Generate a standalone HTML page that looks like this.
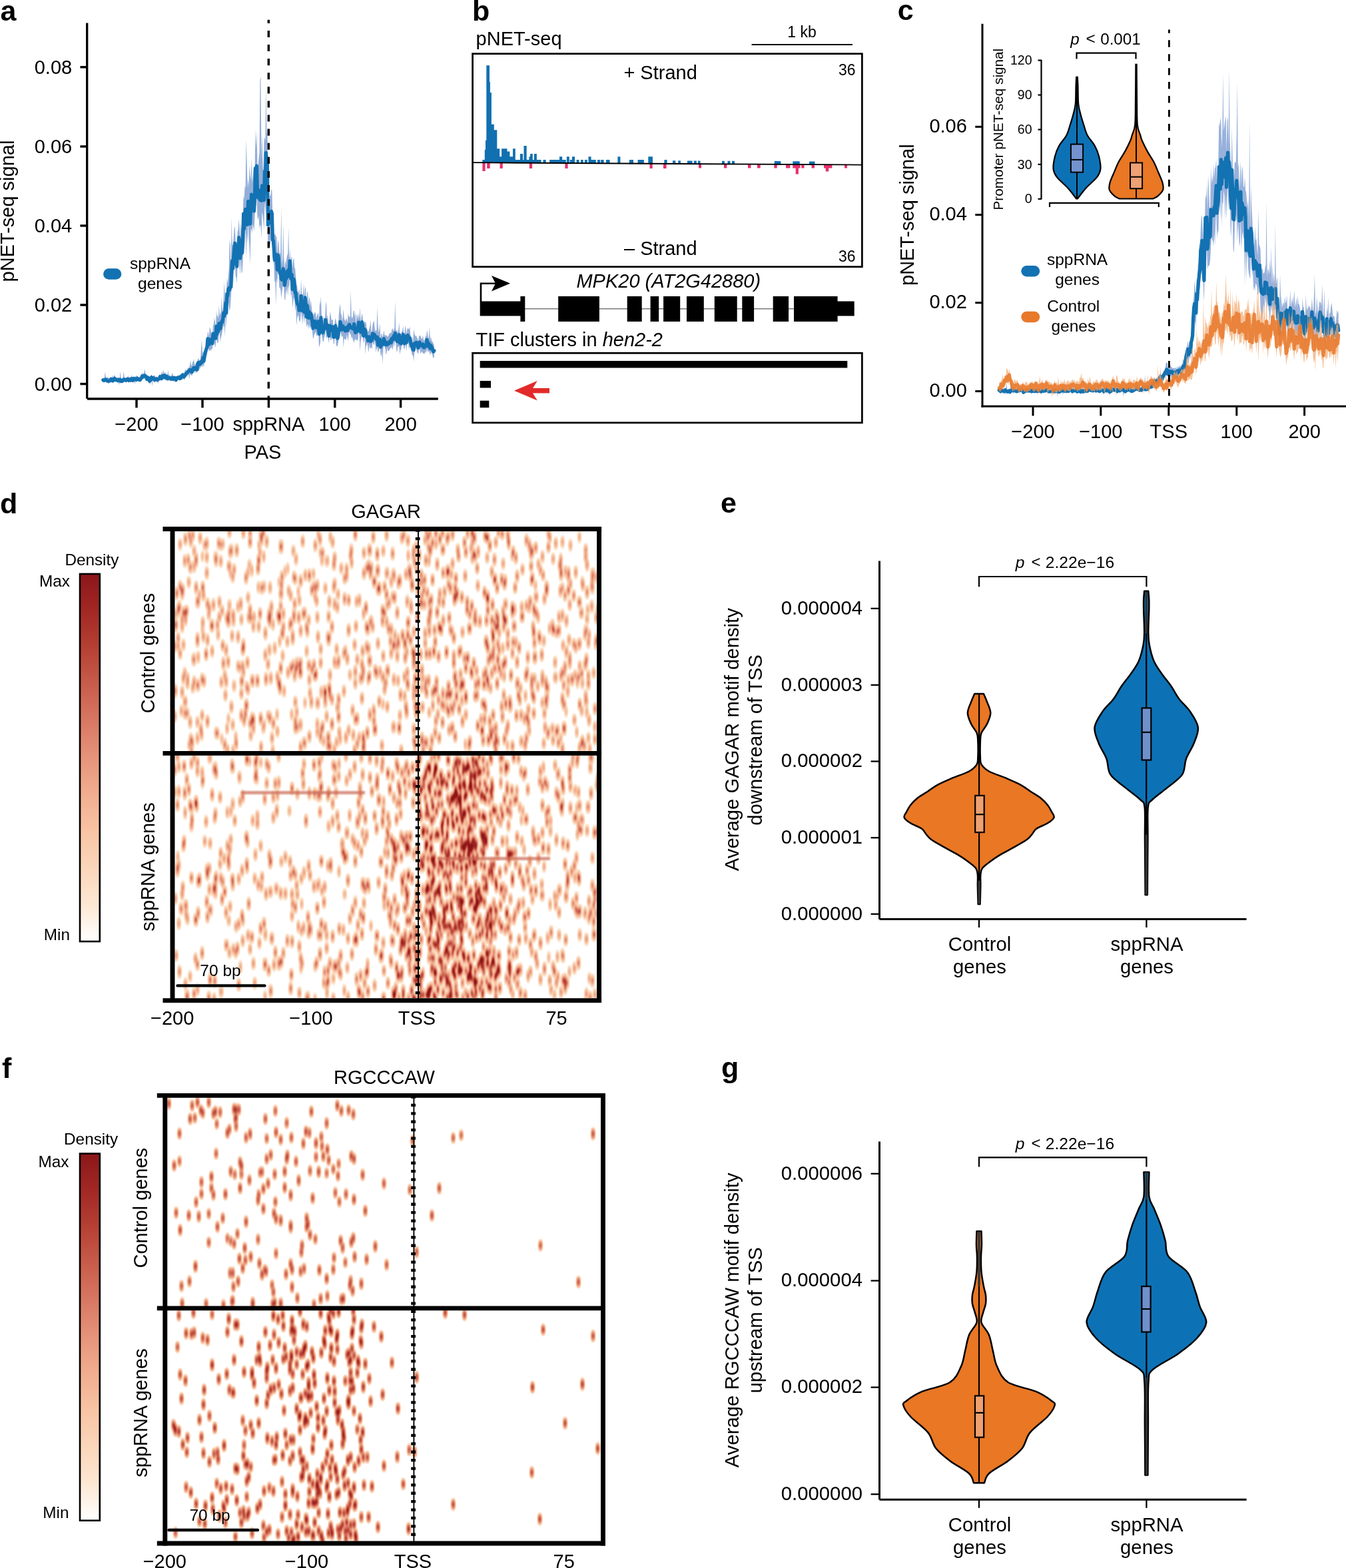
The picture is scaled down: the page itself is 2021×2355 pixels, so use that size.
<!DOCTYPE html>
<html><head><meta charset="utf-8"><title>Figure</title>
<style>
html,body{margin:0;padding:0;background:#fff;}
svg{display:block;}
text{font-family:'Liberation Sans', Arial, Helvetica, sans-serif;fill:#000;}
</style></head><body>
<svg xmlns="http://www.w3.org/2000/svg" width="2021" height="2355" viewBox="0 0 2021 2355">
<rect width="2021" height="2355" fill="#fff"/>
<line x1="130.7" y1="34.4" x2="130.7" y2="598.8" stroke="#000" stroke-width="3.3" />
<line x1="131" y1="599.1" x2="657.8" y2="599.1" stroke="#000" stroke-width="3.5" />
<line x1="120.4" y1="100.8" x2="130.7" y2="100.8" stroke="#000" stroke-width="3.4" />
<text x="108.2" y="111.2" font-size="29" text-anchor="end">0.08</text>
<line x1="120.4" y1="220" x2="130.7" y2="220" stroke="#000" stroke-width="3.4" />
<text x="108.2" y="230.4" font-size="29" text-anchor="end">0.06</text>
<line x1="120.4" y1="339" x2="130.7" y2="339" stroke="#000" stroke-width="3.4" />
<text x="108.2" y="349.4" font-size="29" text-anchor="end">0.04</text>
<line x1="120.4" y1="458" x2="130.7" y2="458" stroke="#000" stroke-width="3.4" />
<text x="108.2" y="468.4" font-size="29" text-anchor="end">0.02</text>
<line x1="120.4" y1="576.6" x2="130.7" y2="576.6" stroke="#000" stroke-width="3.4" />
<text x="108.2" y="587" font-size="29" text-anchor="end">0.00</text>
<line x1="205" y1="599.1" x2="205" y2="612.4" stroke="#000" stroke-width="3.4" />
<text x="205" y="646.5" font-size="29" text-anchor="middle">−200</text>
<line x1="304" y1="599.1" x2="304" y2="612.4" stroke="#000" stroke-width="3.4" />
<text x="304" y="646.5" font-size="29" text-anchor="middle">−100</text>
<line x1="403.4" y1="599.1" x2="403.4" y2="612.4" stroke="#000" stroke-width="3.4" />
<text x="403.4" y="646.5" font-size="29" text-anchor="middle">sppRNA</text>
<line x1="502.8" y1="599.1" x2="502.8" y2="612.4" stroke="#000" stroke-width="3.4" />
<text x="502.8" y="646.5" font-size="29" text-anchor="middle">100</text>
<line x1="601.6" y1="599.1" x2="601.6" y2="612.4" stroke="#000" stroke-width="3.4" />
<text x="601.6" y="646.5" font-size="29" text-anchor="middle">200</text>
<text x="394.5" y="689.4" font-size="29" text-anchor="middle">PAS</text>
<text transform="translate(21.2,317) rotate(-90)" font-size="29" text-anchor="middle" >pNET-seq signal</text>
<text x="0.5" y="31" font-size="43" font-weight="bold">a</text>
<path d="M154.8 567.2 L155.8 568.5 L156.8 566.8 L157.8 558.6 L158.8 566.8 L159.8 566.6 L160.8 569.1 L161.8 565.3 L162.8 567.6 L163.8 567.9 L164.8 567.7 L165.8 567.8 L166.8 565.9 L167.8 568 L168.8 563.1 L169.8 567.5 L170.8 565.2 L171.8 563.2 L172.7 564.3 L173.7 566.6 L174.7 568 L175.7 566.3 L176.7 567.7 L177.7 566.3 L178.7 566.9 L179.7 567.2 L180.7 557.4 L181.7 568.9 L182.7 569.1 L183.7 569.3 L184.7 566.5 L185.7 557.4 L186.7 566.6 L187.7 567.3 L188.7 568 L189.6 567.1 L190.6 566.4 L191.6 566.3 L192.6 563.7 L193.6 568.2 L194.6 566.5 L195.6 565.9 L196.6 567.5 L197.6 562.8 L198.6 566.7 L199.6 567.4 L200.6 565.3 L201.6 566 L202.6 565.4 L203.6 565.9 L204.6 564.2 L205.6 564.2 L206.5 565 L207.5 567 L208.5 567 L209.5 565.1 L210.5 566.5 L211.5 564.4 L212.5 564.1 L213.5 559.1 L214.5 562.4 L215.5 560.5 L216.5 559.2 L217.5 554.3 L218.5 560.9 L219.5 562.8 L220.5 565.7 L221.5 563.5 L222.5 563.9 L223.4 565.7 L224.4 568.4 L225.4 568.1 L226.4 563.9 L227.4 562.3 L228.4 565.7 L229.4 565.4 L230.4 564 L231.4 563.6 L232.4 564 L233.4 566.3 L234.4 565.8 L235.4 565.3 L236.4 566.8 L237.4 566.2 L238.4 564.9 L239.4 562.6 L240.4 562.3 L241.3 564.9 L242.3 557.3 L243.3 563.8 L244.3 559.1 L245.3 555.1 L246.3 562.7 L247.3 559.1 L248.3 559.2 L249.3 562.5 L250.3 561.9 L251.3 564.3 L252.3 555.8 L253.3 563.2 L254.3 562.9 L255.3 564.2 L256.3 563.9 L257.3 565.9 L258.2 559.9 L259.2 561.6 L260.2 564.2 L261.2 564.7 L262.2 564 L263.2 565.9 L264.2 565.8 L265.2 565.8 L266.2 563.5 L267.2 564.3 L268.2 563.7 L269.2 563.2 L270.2 565.1 L271.2 561.9 L272.2 562.9 L273.2 559.7 L274.2 559.4 L275.1 560.6 L276.1 560.2 L277.1 558.9 L278.1 554 L279.1 557.1 L280.1 556 L281.1 555.6 L282.1 551.9 L283.1 552.8 L284.1 551.9 L285.1 548.1 L286.1 540.7 L287.1 548.7 L288.1 549.3 L289.1 543.3 L290.1 543.3 L291.1 539 L292 547 L293 547.5 L294 546.2 L295 545.3 L296 549.8 L297 539.1 L298 538.8 L299 540.6 L300 541.5 L301 538 L302 523.3 L303 510 L304 531.2 L305 528.1 L306 531.6 L307 527.6 L308 520.9 L309 518.8 L309.9 511.8 L310.9 509 L311.9 498.4 L312.9 500.3 L313.9 506 L314.9 491.1 L315.9 493.7 L316.9 499.5 L317.9 504 L318.9 506 L319.9 490 L320.9 486.4 L321.9 476.7 L322.9 482.8 L323.9 497 L324.9 465.7 L325.9 476.6 L326.8 472.7 L327.8 478.4 L328.8 458 L329.8 474.8 L330.8 470.4 L331.8 469.2 L332.8 445.3 L333.8 468.7 L334.8 462 L335.8 448.1 L336.8 421.9 L337.8 449.7 L338.8 439 L339.8 443.8 L340.8 417.9 L341.8 425.4 L342.8 415.5 L343.7 404.6 L344.7 360.2 L345.7 366.9 L346.7 412 L347.7 326.3 L348.7 366.6 L349.7 369.3 L350.7 358.1 L351.7 343.8 L352.7 339.5 L353.7 362.1 L354.7 364.8 L355.7 371.4 L356.7 348.2 L357.7 343.9 L358.7 328.7 L359.7 345.4 L360.6 360.3 L361.6 333.7 L362.6 346.1 L363.6 335.8 L364.6 328.2 L365.6 292.4 L366.6 299.8 L367.6 279.4 L368.6 282.3 L369.6 209.4 L370.6 240.5 L371.6 281.8 L372.6 268.2 L373.6 281.6 L374.6 247.3 L375.6 263.6 L376.6 270.1 L377.6 235.6 L378.5 275.2 L379.5 266.6 L380.5 251.3 L381.5 283.5 L382.5 260.4 L383.5 193.9 L384.5 222.7 L385.5 196.6 L386.5 249 L387.5 251.7 L388.5 237.7 L389.5 229.2 L390.5 119.8 L391.5 115.8 L392.5 238.7 L393.5 199.8 L394.5 248.1 L395.4 257.6 L396.4 212.9 L397.4 206.1 L398.4 210.8 L399.4 130 L400.4 201.9 L401.4 191 L402.4 284.5 L403.4 276.9 L404.4 306.9 L405.4 292.3 L406.4 294.1 L407.4 284.1 L408.4 286.9 L409.4 331.1 L410.4 329.1 L411.4 349.8 L412.3 353.6 L413.3 349.9 L414.3 355.6 L415.3 355.4 L416.3 381.9 L417.3 360.3 L418.3 364.6 L419.3 377.4 L420.3 382.5 L421.3 378.3 L422.3 311.1 L423.3 398.2 L424.3 387.5 L425.3 337 L426.3 387.7 L427.3 404.2 L428.3 389.9 L429.2 398.4 L430.2 388.8 L431.2 383.4 L432.2 380.9 L433.2 341.3 L434.2 393.7 L435.2 371.8 L436.2 395 L437.2 386.1 L438.2 385.9 L439.2 402.7 L440.2 390 L441.2 387.7 L442.2 402.2 L443.2 403.4 L444.2 417.4 L445.2 427.2 L446.2 429.8 L447.1 439.7 L448.1 438.8 L449.1 433.3 L450.1 444.9 L451.1 446.5 L452.1 418.8 L453.1 441.4 L454.1 443.6 L455.1 440.9 L456.1 425.5 L457.1 449.1 L458.1 430.2 L459.1 434 L460.1 458.5 L461.1 438.9 L462.1 438.6 L463.1 457.3 L464 447.4 L465 447 L466 461 L467 450.4 L468 463.6 L469 469.8 L470 474.8 L471 470.9 L472 471.8 L473 468.4 L474 469.9 L475 479.6 L476 473.6 L477 472.2 L478 468.8 L479 488.5 L480 451.2 L480.9 458.5 L481.9 445 L482.9 473.6 L483.9 474 L484.9 484.5 L485.9 475.9 L486.9 477.9 L487.9 481.2 L488.9 459.5 L489.9 452.4 L490.9 478.8 L491.9 472.5 L492.9 484.3 L493.9 492.7 L494.9 476.9 L495.9 467.6 L496.9 475.3 L497.8 481.6 L498.8 480.1 L499.8 479.8 L500.8 495 L501.8 494.5 L502.8 482.8 L503.8 477 L504.8 483.1 L505.8 487.8 L506.8 494.2 L507.8 492.5 L508.8 472.6 L509.8 462.3 L510.8 456.1 L511.8 470.8 L512.8 472.9 L513.8 482.5 L514.8 474.1 L515.7 464 L516.7 478.7 L517.7 480.4 L518.7 483.1 L519.7 477.7 L520.7 479.7 L521.7 484 L522.7 470.8 L523.7 475.5 L524.7 475.1 L525.7 477.5 L526.7 436.3 L527.7 474.8 L528.7 478.5 L529.7 475.7 L530.7 467.1 L531.7 466.7 L532.6 476.4 L533.6 468.6 L534.6 487.2 L535.6 472.3 L536.6 473.6 L537.6 479.7 L538.6 470 L539.6 479.1 L540.6 461.2 L541.6 484.4 L542.6 476.7 L543.6 470.3 L544.6 476.3 L545.6 491.3 L546.6 487.3 L547.6 482.8 L548.6 483.5 L549.5 484.5 L550.5 492.8 L551.5 495.4 L552.5 498.6 L553.5 496.8 L554.5 493.5 L555.5 489.3 L556.5 480.8 L557.5 499.4 L558.5 496.7 L559.5 487.5 L560.5 483.7 L561.5 481.3 L562.5 492.3 L563.5 497.3 L564.5 496.3 L565.5 495.9 L566.4 461.2 L567.4 485.5 L568.4 499.2 L569.4 495.3 L570.4 485.7 L571.4 509.4 L572.4 500.6 L573.4 501.8 L574.4 507 L575.4 501.9 L576.4 496 L577.4 502.7 L578.4 504.2 L579.4 502.7 L580.4 504 L581.4 504.9 L582.4 505.7 L583.4 504 L584.3 501.3 L585.3 500.9 L586.3 499.6 L587.3 500.5 L588.3 495.5 L589.3 492.3 L590.3 497 L591.3 494.9 L592.3 493.2 L593.3 452 L594.3 494.4 L595.3 498.1 L596.3 495.6 L597.3 500.3 L598.3 494.4 L599.3 484.3 L600.3 501.5 L601.2 499.3 L602.2 505.1 L603.2 497.2 L604.2 498 L605.2 488.6 L606.2 499.7 L607.2 504.7 L608.2 490.2 L609.2 491.8 L610.2 502.8 L611.2 495.4 L612.2 492.2 L613.2 494.4 L614.2 494.1 L615.2 490.2 L616.2 502 L617.2 505.8 L618.1 507.8 L619.1 506.5 L620.1 515.9 L621.1 494.5 L622.1 500.2 L623.1 503.6 L624.1 505.4 L625.1 503.5 L626.1 507.7 L627.1 508.6 L628.1 513 L629.1 504.8 L630.1 504.8 L631.1 503.2 L632.1 506.5 L633.1 509.2 L634.1 507.6 L635 503.4 L636 510.5 L637 512.3 L638 508.8 L639 503.1 L640 507.3 L641 495.7 L642 500 L643 509.2 L644 504.5 L645 490.3 L646 511.9 L647 505 L648 511.5 L649 512.9 L650 514.1 L651 517.1 L651.9 518.1 L651.9 536.3 L651 537.9 L650 536.8 L649 531.4 L648 530.7 L647 528.3 L646 533.8 L645 530.4 L644 526.4 L643 529.1 L642 526.9 L641 523.5 L640 530.2 L639 527.2 L638 530.7 L637 530.8 L636 531.9 L635 529.2 L634.1 530.1 L633.1 527.3 L632.1 530 L631.1 531.5 L630.1 522.1 L629.1 524.5 L628.1 531 L627.1 530.4 L626.1 528.4 L625.1 524.5 L624.1 523.3 L623.1 528.1 L622.1 530.6 L621.1 543.1 L620.1 533.6 L619.1 534.1 L618.1 529.9 L617.2 525.9 L616.2 523.1 L615.2 520.5 L614.2 525.6 L613.2 515.8 L612.2 513.6 L611.2 516.2 L610.2 527.8 L609.2 519.1 L608.2 518.8 L607.2 525.9 L606.2 522.4 L605.2 514.5 L604.2 518.8 L603.2 518.2 L602.2 525.7 L601.2 526.3 L600.3 532.7 L599.3 519.4 L598.3 521.8 L597.3 519.8 L596.3 528.1 L595.3 527.8 L594.3 512.4 L593.3 509.6 L592.3 522.2 L591.3 512.8 L590.3 521.8 L589.3 525.8 L588.3 519.8 L587.3 523.7 L586.3 522.1 L585.3 524.4 L584.3 526.5 L583.4 527.3 L582.4 526.9 L581.4 523.1 L580.4 530.4 L579.4 532.6 L578.4 523 L577.4 520.7 L576.4 519.1 L575.4 523.3 L574.4 547.4 L573.4 528 L572.4 535.9 L571.4 532.1 L570.4 518.5 L569.4 523.2 L568.4 527.7 L567.4 529.2 L566.4 521.4 L565.5 523 L564.5 529.2 L563.5 517.8 L562.5 512.1 L561.5 518.5 L560.5 516.9 L559.5 512.8 L558.5 524.1 L557.5 522.2 L556.5 522.7 L555.5 523.3 L554.5 516.8 L553.5 529.9 L552.5 523.3 L551.5 515 L550.5 518.2 L549.5 520.3 L548.6 532.3 L547.6 505.2 L546.6 512.1 L545.6 516 L544.6 500.1 L543.6 494.8 L542.6 507.5 L541.6 511.9 L540.6 527.7 L539.6 504 L538.6 496.5 L537.6 509.9 L536.6 511.4 L535.6 511.2 L534.6 508.9 L533.6 511.2 L532.6 509.1 L531.7 515.1 L530.7 512.4 L529.7 510.1 L528.7 505.4 L527.7 508.7 L526.7 502 L525.7 502.1 L524.7 498.5 L523.7 499.9 L522.7 512.3 L521.7 507.6 L520.7 502.5 L519.7 511.1 L518.7 509.6 L517.7 509.2 L516.7 509 L515.7 522.6 L514.8 503.9 L513.8 506.6 L512.8 504.4 L511.8 500.3 L510.8 498.1 L509.8 507.1 L508.8 509.5 L507.8 514.8 L506.8 520.9 L505.8 518.2 L504.8 520.7 L503.8 500.3 L502.8 505.1 L501.8 517 L500.8 516.3 L499.8 500.8 L498.8 506.7 L497.8 509.3 L496.9 511.8 L495.9 508.6 L494.9 501.5 L493.9 515.2 L492.9 510.6 L491.9 502.5 L490.9 506.2 L489.9 509.1 L488.9 493.5 L487.9 504.2 L486.9 506.3 L485.9 513.1 L484.9 513.5 L483.9 507.9 L482.9 502.1 L481.9 488.2 L480.9 515.2 L480 519 L479 521.8 L478 495.1 L477 495.6 L476 505.6 L475 503.4 L474 497.2 L473 501.1 L472 501.9 L471 506.6 L470 509.6 L469 498 L468 489.1 L467 489.8 L466 492.5 L465 491.8 L464 486.6 L463.1 495.3 L462.1 486.4 L461.1 488.6 L460.1 491.7 L459.1 478 L458.1 461.8 L457.1 486.5 L456.1 477.3 L455.1 472.7 L454.1 488 L453.1 474.8 L452.1 467.3 L451.1 480.2 L450.1 484.3 L449.1 480.9 L448.1 474 L447.1 473.8 L446.2 477.8 L445.2 489.3 L444.2 459.1 L443.2 466.9 L442.2 448.1 L441.2 447.2 L440.2 453.2 L439.2 463.2 L438.2 435.9 L437.2 448.2 L436.2 434.6 L435.2 411.7 L434.2 433.9 L433.2 428 L432.2 445.1 L431.2 428.9 L430.2 443.7 L429.2 434.3 L428.3 450.5 L427.3 450.2 L426.3 431.4 L425.3 428.7 L424.3 431.7 L423.3 440.1 L422.3 447.8 L421.3 435 L420.3 432.7 L419.3 431.4 L418.3 407.2 L417.3 403.6 L416.3 425.9 L415.3 418 L414.3 459.1 L413.3 422 L412.3 424.1 L411.4 399.1 L410.4 390.4 L409.4 386.8 L408.4 351.5 L407.4 347.2 L406.4 363.3 L405.4 371.1 L404.4 360.3 L403.4 361.9 L402.4 369.7 L401.4 298.7 L400.4 277.2 L399.4 271.1 L398.4 320.8 L397.4 303.6 L396.4 345.1 L395.4 332.7 L394.5 323.3 L393.5 318.4 L392.5 358.1 L391.5 339 L390.5 337.3 L389.5 344.5 L388.5 322.9 L387.5 330.3 L386.5 326.3 L385.5 296.5 L384.5 310.4 L383.5 305.6 L382.5 325.8 L381.5 347.3 L380.5 341.7 L379.5 336.7 L378.5 350.6 L377.6 342.8 L376.6 347.3 L375.6 397.5 L374.6 372 L373.6 358.6 L372.6 333.2 L371.6 366 L370.6 349.7 L369.6 389.2 L368.6 343 L367.6 359.8 L366.6 383 L365.6 347.1 L364.6 394.6 L363.6 409.3 L362.6 409.9 L361.6 385.8 L360.6 412.6 L359.7 401.2 L358.7 381.8 L357.7 398 L356.7 394.9 L355.7 426 L354.7 416.9 L353.7 414.7 L352.7 388.7 L351.7 402.8 L350.7 412 L349.7 433.9 L348.7 414.2 L347.7 430.6 L346.7 448.4 L345.7 462.3 L344.7 467.2 L343.7 458 L342.8 451.3 L341.8 461.8 L340.8 462.3 L339.8 492 L338.8 469.4 L337.8 505.3 L336.8 489.7 L335.8 489.4 L334.8 492 L333.8 497.7 L332.8 503.6 L331.8 506.4 L330.8 514.5 L329.8 501.2 L328.8 498.8 L327.8 514.8 L326.8 515 L325.9 513.5 L324.9 502.4 L323.9 518.2 L322.9 522.5 L321.9 513.3 L320.9 515.8 L319.9 511.4 L318.9 524.8 L317.9 523 L316.9 527.2 L315.9 525.3 L314.9 526.2 L313.9 527.9 L312.9 521.1 L311.9 522.4 L310.9 533.2 L309.9 533.2 L309 534.4 L308 537.5 L307 544.4 L306 552.1 L305 546.6 L304 551.3 L303 550.2 L302 549.3 L301 553.3 L300 552 L299 556.9 L298 551.6 L297 551.7 L296 560.1 L295 559.5 L294 557.6 L293 560.7 L292 557.6 L291.1 559.6 L290.1 558.2 L289.1 560.9 L288.1 564.7 L287.1 562.8 L286.1 562.7 L285.1 562.1 L284.1 570.4 L283.1 561.6 L282.1 563.5 L281.1 566.2 L280.1 564.3 L279.1 565.6 L278.1 568 L277.1 570.2 L276.1 570.6 L275.1 568.5 L274.2 566.9 L273.2 568.1 L272.2 571.4 L271.2 568.9 L270.2 572.2 L269.2 570.2 L268.2 570.8 L267.2 570.7 L266.2 570.7 L265.2 572 L264.2 573.7 L263.2 572.6 L262.2 570.6 L261.2 572.3 L260.2 573.8 L259.2 571.8 L258.2 572.1 L257.3 572.4 L256.3 571.8 L255.3 572.2 L254.3 571 L253.3 571.1 L252.3 572.6 L251.3 572.2 L250.3 568.2 L249.3 572.1 L248.3 571.1 L247.3 568.2 L246.3 570.1 L245.3 567.6 L244.3 568.7 L243.3 571.6 L242.3 572.5 L241.3 571.1 L240.4 568.6 L239.4 571.7 L238.4 572.6 L237.4 576.1 L236.4 573.8 L235.4 572.6 L234.4 572.2 L233.4 572.4 L232.4 574.8 L231.4 573.9 L230.4 572.8 L229.4 571.5 L228.4 580.2 L227.4 569.6 L226.4 573 L225.4 577.7 L224.4 575.8 L223.4 574 L222.5 570.4 L221.5 570.2 L220.5 572.9 L219.5 569.4 L218.5 568.5 L217.5 567.4 L216.5 569.2 L215.5 568.1 L214.5 569.5 L213.5 568.5 L212.5 570.7 L211.5 572.8 L210.5 573.9 L209.5 573.6 L208.5 572.9 L207.5 572.8 L206.5 571.3 L205.6 572.8 L204.6 574.8 L203.6 571.8 L202.6 577.1 L201.6 572 L200.6 571.1 L199.6 574.8 L198.6 572.6 L197.6 572.5 L196.6 573.9 L195.6 574.7 L194.6 572.9 L193.6 574.4 L192.6 572.3 L191.6 572 L190.6 573.7 L189.6 574.7 L188.7 574.1 L187.7 573.6 L186.7 573.1 L185.7 573.2 L184.7 573.8 L183.7 575.5 L182.7 574.7 L181.7 575.8 L180.7 573.3 L179.7 575.2 L178.7 578 L177.7 574.2 L176.7 575 L175.7 573.6 L174.7 573.6 L173.7 572.7 L172.7 573.5 L171.8 573.3 L170.8 573.2 L169.8 575.6 L168.8 574.8 L167.8 574.4 L166.8 572.4 L165.8 574.7 L164.8 575.3 L163.8 575.3 L162.8 576.8 L161.8 574.8 L160.8 574.6 L159.8 573.8 L158.8 572.6 L157.8 574 L156.8 574.6 L155.8 574.1 L154.8 574.1Z" fill="#93AED8"/>
<path d="M154.8 570.7 155.8 571.5 156.8 570.9 157.8 570.6 158.8 569.8 159.8 570.4 160.8 572 161.8 571.8 162.8 572.4 163.8 571.8 164.8 571.7 165.8 571.5 166.8 569.3 167.8 571.4 168.8 571.7 169.8 571.8 170.8 569.4 171.8 568.5 172.7 569.1 173.7 569.8 174.7 570.9 175.7 570.9 176.7 571.6 177.7 570.5 178.7 571.1 179.7 571.4 180.7 570.3 181.7 572.6 182.7 572 183.7 572.5 184.7 570.7 185.7 569.9 186.7 570 187.7 570.3 188.7 571.2 189.6 571.1 190.6 570.2 191.6 569.3 192.6 569.5 193.6 571.5 194.6 569.9 195.6 570.5 196.6 570.9 197.6 568.8 198.6 569.8 199.6 571.6 200.6 568.4 201.6 569.2 202.6 569.7 203.6 569 204.6 570.3 205.6 570 206.5 568.3 207.5 570.1 208.5 570.1 209.5 570.1 210.5 570.4 211.5 568.8 212.5 567.6 213.5 564.8 214.5 566.1 215.5 564.5 216.5 564.5 217.5 564.1 218.5 564.9 219.5 566.2 220.5 569.5 221.5 567 222.5 567.4 223.4 570 224.4 572.3 225.4 571.8 226.4 568.7 227.4 566.7 228.4 569.2 229.4 568.6 230.4 567.8 231.4 569.9 232.4 570.6 233.4 569.6 234.4 569.2 235.4 569.2 236.4 570.5 237.4 569.6 238.4 569 239.4 568.7 240.4 565.6 241.3 568.2 242.3 568.5 243.3 567.9 244.3 564.2 245.3 564.5 246.3 566.6 247.3 563.9 248.3 565.3 249.3 567.5 250.3 565.2 251.3 568.5 252.3 568.3 253.3 567.3 254.3 567.8 255.3 568.4 256.3 568.1 257.3 569.3 258.2 567.6 259.2 567.4 260.2 569.2 261.2 568.7 262.2 567.5 263.2 569.4 264.2 570.8 265.2 569.1 266.2 567.3 267.2 567.7 268.2 567.4 269.2 566.9 270.2 568.6 271.2 565.6 272.2 567.4 273.2 564.1 274.2 563.3 275.1 564.8 276.1 565.7 277.1 564.9 278.1 563.1 279.1 561.6 280.1 560.4 281.1 560.1 282.1 558 283.1 557.5 284.1 557.2 285.1 555.4 286.1 556.4 287.1 556.1 288.1 558.8 289.1 556.1 290.1 553.4 291.1 552.4 292 552.6 293 554.4 294 552.2 295 552.8 296 555.2 297 545.5 298 544.4 299 546.6 300 547 301 546.1 302 543.3 303 544.5 304 541.8 305 536.8 306 542.4 307 536.4 308 529.6 309 527 309.9 523.9 310.9 521.8 311.9 508.8 312.9 511.2 313.9 517.5 314.9 509.6 315.9 510.3 316.9 514.1 317.9 514 318.9 515.9 319.9 501.2 320.9 501.7 321.9 501.3 322.9 505.1 323.9 508.2 324.9 490 325.9 501.7 326.8 492.4 327.8 497.6 328.8 485.8 329.8 488.7 330.8 493.6 331.8 485.8 332.8 483 333.8 483.9 334.8 477.8 335.8 469.9 336.8 474.8 337.8 470 338.8 455 339.8 470.1 340.8 441.3 341.8 444.6 342.8 434.3 343.7 432.7 344.7 435.6 345.7 430.7 346.7 431.2 347.7 406.1 348.7 391.7 349.7 403.3 350.7 386.4 351.7 374.8 352.7 365.4 353.7 391.2 354.7 392.8 355.7 400.2 356.7 372.8 357.7 372.4 358.7 356.7 359.7 373 360.6 387.9 361.6 361.1 362.6 381 363.6 379.7 364.6 363.2 365.6 321.2 366.6 343.6 367.6 330 368.6 314.3 369.6 320.2 370.6 321.4 371.6 337.3 372.6 302.4 373.6 322.1 374.6 333.2 375.6 336.2 376.6 310.7 377.6 292 378.5 312.7 379.5 303.5 380.5 298.9 381.5 317.1 382.5 294.8 383.5 252.7 384.5 268.8 385.5 249.2 386.5 289.7 387.5 296.8 388.5 285.5 389.5 289.9 390.5 300.3 391.5 287.9 392.5 301.5 393.5 278.8 394.5 287.7 395.4 297.1 396.4 300.5 397.4 257.4 398.4 268.7 399.4 229.3 400.4 241.5 401.4 247.7 402.4 337.6 403.4 321.6 404.4 335 405.4 333.8 406.4 330.5 407.4 317.3 408.4 320.9 409.4 360.4 410.4 361.4 411.4 375.8 412.3 390.7 413.3 387.9 414.3 381.8 415.3 386.2 416.3 405.1 417.3 383.1 418.3 387.1 419.3 405.8 420.3 410.5 421.3 408.1 422.3 419.2 423.3 420.2 424.3 410.8 425.3 403.7 426.3 410.7 427.3 428.4 428.3 421.8 429.2 417.3 430.2 417.7 431.2 407.3 432.2 414.7 433.2 405.4 434.2 414.9 435.2 391.9 436.2 415.9 437.2 418.8 438.2 412.2 439.2 434.6 440.2 434.3 441.2 419 442.2 426.3 443.2 439.7 444.2 439.3 445.2 450.3 446.2 455.1 447.1 457.6 448.1 457.3 449.1 466.2 450.1 465.6 451.1 464.2 452.1 444.3 453.1 459 454.1 467 455.1 457.6 456.1 452.8 457.1 468.8 458.1 446.8 459.1 457.2 460.1 476 461.1 458.9 462.1 465.6 463.1 477.3 464 468 465 470.6 466 477.6 467 471.2 468 477.3 469 484.7 470 493.1 471 489.7 472 487.6 473 482.4 474 484.3 475 492.1 476 490.4 477 484.5 478 482.6 479 501.7 480 499.9 480.9 496.5 481.9 477.2 482.9 488.6 483.9 491.8 484.9 499.8 485.9 495.6 486.9 491.4 487.9 493.3 488.9 480.3 489.9 492.4 490.9 493.2 491.9 488.3 492.9 498.1 493.9 504.5 494.9 489.9 495.9 489.2 496.9 494.5 497.8 496.2 498.8 494.1 499.8 490.9 500.8 506.2 501.8 506.3 502.8 494.5 503.8 489.2 504.8 502.9 505.8 503.8 506.8 508.2 507.8 504.3 508.8 493.8 509.8 495.8 510.8 483.4 511.8 486.3 512.8 490.8 513.8 495.2 514.8 489.8 515.7 491.1 516.7 494.7 517.7 495.5 518.7 497.1 519.7 495.3 520.7 491.7 521.7 496.4 522.7 494 523.7 488.4 524.7 487.4 525.7 490.4 526.7 490.8 527.7 492.6 528.7 492.7 529.7 493.8 530.7 492.8 531.7 486.5 532.6 493.6 533.6 499.6 534.6 498.6 535.6 495.1 536.6 497.5 537.6 491.1 538.6 484.1 539.6 492.2 540.6 490.3 541.6 498.9 542.6 492.9 543.6 483.5 544.6 488.8 545.6 504.3 546.6 500.4 547.6 494.6 548.6 496.1 549.5 503.3 550.5 506.2 551.5 505.7 552.5 511.6 553.5 509.9 554.5 505.8 555.5 507.2 556.5 512.8 557.5 511.4 558.5 511.1 559.5 500.8 560.5 501.7 561.5 506.2 562.5 502.7 563.5 508.1 564.5 508 565.5 510.2 566.4 506.1 567.4 518.2 568.4 516.7 569.4 510 570.4 509.6 571.4 521.3 572.4 512.7 573.4 515.6 574.4 517.6 575.4 514.6 576.4 508.7 577.4 512.2 578.4 514.1 579.4 518 580.4 517.9 581.4 514.5 582.4 516.8 583.4 516.3 584.3 514.6 585.3 513.2 586.3 511.4 587.3 514.8 588.3 508.3 589.3 507.7 590.3 510.1 591.3 504.3 592.3 506.7 593.3 500.4 594.3 503.9 595.3 510.5 596.3 512.7 597.3 510.5 598.3 508.8 599.3 502.7 600.3 515.1 601.2 513.5 602.2 516 603.2 508.2 604.2 508.9 605.2 502.2 606.2 511.6 607.2 515.8 608.2 505.2 609.2 509.8 610.2 514.6 611.2 506.3 612.2 503.5 613.2 506 614.2 509.2 615.2 507.4 616.2 513.1 617.2 516.4 618.1 519.4 619.1 521.1 620.1 525.2 621.1 525.6 622.1 516.2 623.1 516.5 624.1 514.8 625.1 514.5 626.1 518.6 627.1 520.1 628.1 522.4 629.1 515.2 630.1 513.9 631.1 518.1 632.1 518.9 633.1 518.6 634.1 519.5 635 517 636 521.8 637 522 638 520.4 639 517.9 640 519.3 641 510.3 642 514.1 643 519.7 644 516 645 521.5 646 523.4 647 518.8 648 521.6 649 522.6 650 526.1 651 528.1 651.9 526.7" fill="none" stroke="#1372B2" stroke-width="5.2" stroke-linejoin="round" stroke-linecap="round"/>
<line x1="403.3" y1="29.8" x2="403.3" y2="598.8" stroke="#000" stroke-width="3.4" stroke-dasharray="10.1 11" stroke-dashoffset="5"/>
<line x1="163.3" y1="411.5" x2="174.1" y2="411.5" stroke="#1372B2" stroke-width="16.4" stroke-linecap="round"/>
<text x="240.5" y="404.2" font-size="24.5" text-anchor="middle">sppRNA</text>
<text x="240.5" y="434.4" font-size="24.5" text-anchor="middle">genes</text>
<text x="709" y="31.4" font-size="43" font-weight="bold">b</text>
<text x="714.6" y="67.9" font-size="29">pNET-seq</text>
<text x="1204" y="55.8" font-size="23" text-anchor="middle">1 kb</text>
<line x1="1128.6" y1="67" x2="1280" y2="67" stroke="#000" stroke-width="2" />
<path d="M724.4 244.9V239.9H727.8V244.9ZM727.8 244.9V225H729V244.9ZM729 244.9V210.7H730.3V244.9ZM730.3 244.9V98.2H735V244.9ZM735 245V123H735.9V245ZM735.9 245V139H737.9V245ZM737.9 245V186.7H741.8V245ZM741.8 245V195.2H746.3V245ZM746.3 245V223.3H750.2V245ZM750.2 245V235.2H753.1V245ZM753.1 245.1V223.3H761.5V245.1ZM761.5 245.1V227.6H765.4V245.1ZM765.4 245.1V235.2H770V245.1ZM770 245.2V223.3H773.8V245.2ZM773.8 245.2V239.9H780.9V245.2ZM780.9 245.2V231.1H785.1V245.2ZM785.1 245.2V239.9H786.5V245.2ZM786.5 245.2V219.1H790.7V245.2ZM790.7 245.3V239.9H794.4V245.3ZM794.4 245.3V235.2H796.1V245.3ZM796.1 245.3V231.1H799.8V245.3ZM799.8 245.3V239.9H802V245.3ZM802 245.3V231.1H805.9V245.3ZM805.9 245.4V239.9H812.6V245.4ZM815.5 245.4V239.9H819.7V245.4ZM825.1 245.5V239.9H840V245.5ZM840 245.6V235.2H844.2V245.6ZM844.2 245.6V239.9H849.8V245.6ZM850.9 245.6V235.2H854.8V245.6ZM855.7 245.7V239.9H858.9V245.7ZM858.9 245.7V235.2H863.1V245.7ZM865.6 245.7V239.9H869.5V245.7ZM872 245.7V239.9H875.7V245.7ZM877.9 245.8V239.9H881.8V245.8ZM883.5 245.8V235.2H887.6V245.8ZM887.6 245.8V239.9H894.8V245.8ZM897 245.9V239.9H901.1V245.9ZM902.1 245.9V239.9H906.6V245.9ZM910 246V239.9H915.6V246ZM927.4 246.1V235.2H931.4V246.1ZM944.9 246.2V239.9H951V246.2ZM957.6 246.2V239.9H966.9V246.2ZM973.3 246.3V235.2H980V246.3ZM997.4 246.5V239.9H1001.6V246.5ZM1010 246.5V241.2H1014.3V246.5ZM1018.2 246.6V241.3H1021.9V246.6ZM1032 246.7V241.4H1039.6V246.7ZM1041.8 246.7V241.4H1045.9V246.7ZM1048 246.8V241.5H1051.5V246.8ZM1084 247V241.7H1088V247ZM1092.5 247V241.7H1096.5V247ZM1099 247.1V241.8H1103V247.1ZM1162.8 247.4V242.1H1172.4V247.4ZM1190.3 247.6V242.3H1200.8V247.6ZM1215 247.7V242.4H1223.5V247.7Z" fill="#1170B0"/>
<path d="M724.4 244.3V257.1H728.6V244.3ZM731.2 244.3V252.9H735.7V244.3ZM750.6 244.4V252.9H754.8V244.4ZM794.9 244.7V252.9H799.1V244.7ZM848.4 245V252.9H852.6V245ZM975.5 245.7V252.9H979.7V245.7ZM996 245.9V252.9H1000.6V245.9ZM1049 246.2V252.6H1053V246.2ZM1087 246.4V252.6H1091.4V246.4ZM1123 246.6V252.6H1127.4V246.6ZM1137 246.7V252.6H1141.7V246.7ZM1162.3 246.8V252.6H1166.7V246.8ZM1180 246.9V252.6H1186.4V246.9ZM1190.3 247V252.6H1201.6V247ZM1194.7 247V261.6H1198.9V247ZM1203.3 247.1V252.6H1207.5V247.1ZM1218.5 247.2V252.6H1223V247.2ZM1237 247.3V252.6H1249.4V247.3ZM1239.7 247.3V257.4H1244.3V247.3ZM1268 247.4V252.6H1272V247.4Z" fill="#E6306C"/>
<line x1="709.6" y1="244.2" x2="1294.4" y2="247.6" stroke="#000" stroke-width="1.8" />
<rect x="709.6" y="80.7" width="584.8" height="320" fill="none" stroke="#000" stroke-width="2.7"/>
<text x="991.6" y="118.5" font-size="29" text-anchor="middle">+ Strand</text>
<text x="991.8" y="382.8" font-size="29" text-anchor="middle">– Strand</text>
<text x="1284.5" y="113.3" font-size="23" text-anchor="end">36</text>
<text x="1284.5" y="393.3" font-size="23" text-anchor="end">36</text>
<text x="1003.8" y="431.6" font-size="29" text-anchor="middle" font-style="italic">MPK20 (AT2G42880)</text>
<path d="M722 453V425.7H745" fill="none" stroke="#000" stroke-width="2.6"/>
<path d="M766 425.7L738 414L744 425.7L738 437.5Z" fill="#000"/>
<line x1="722" y1="463.7" x2="1283" y2="463.7" stroke="#7a7a7a" stroke-width="1.6" />
<path d="M720.7 452.5H781.4V474.5H720.7ZM781.4 444.9H788.3V482.9H781.4ZM838.2 444.9H899.9V482.9H838.2ZM941.7 444.9H963.7V482.9H941.7ZM976.6 444.9H989.2V482.9H976.6ZM996.1 444.9H1021.2V482.9H996.1ZM1031 444.9H1056.8V482.9H1031ZM1072.8 444.9H1106.7V482.9H1072.8ZM1114.3 444.9H1132.1V482.9H1114.3ZM1160.7 444.9H1184.1V482.9H1160.7ZM1192 444.9H1257.6V482.9H1192ZM1257.6 452.5H1282.7V474.5H1257.6ZM720.7 542.1H1272.3V552.6H720.7ZM720.7 572H737V582.6H720.7ZM720.7 601.8H734.3V612.2H720.7Z" fill="#000"/>
<text x="714.5" y="519.8" font-size="29">TIF clusters in <tspan font-style="italic">hen2-2</tspan></text>
<rect x="709.6" y="530.3" width="584.8" height="104.6" fill="none" stroke="#000" stroke-width="2.7"/>
<path d="M772 586.8L806.8 572L800 583H825V590.6H800L806.8 601.4Z" fill="#E22A2A"/>
<text x="1347.7" y="30.3" font-size="43" font-weight="bold">c</text>
<line x1="1475" y1="35.8" x2="1475" y2="611.8" stroke="#000" stroke-width="3" />
<line x1="1473.5" y1="610.3" x2="2021" y2="610.3" stroke="#000" stroke-width="3" />
<line x1="1464.3" y1="190.4" x2="1475" y2="190.4" stroke="#000" stroke-width="3" />
<text x="1451.9" y="199" font-size="29" text-anchor="end">0.06</text>
<line x1="1464.3" y1="322.6" x2="1475" y2="322.6" stroke="#000" stroke-width="3" />
<text x="1451.9" y="331.2" font-size="29" text-anchor="end">0.04</text>
<line x1="1464.3" y1="454.7" x2="1475" y2="454.7" stroke="#000" stroke-width="3" />
<text x="1451.9" y="463.3" font-size="29" text-anchor="end">0.02</text>
<line x1="1464.3" y1="587.6" x2="1475" y2="587.6" stroke="#000" stroke-width="3" />
<text x="1451.9" y="596.2" font-size="29" text-anchor="end">0.00</text>
<line x1="1551" y1="610.3" x2="1551" y2="624.5" stroke="#000" stroke-width="3" />
<text x="1551" y="658.2" font-size="29" text-anchor="middle">−200</text>
<line x1="1652.8" y1="610.3" x2="1652.8" y2="624.5" stroke="#000" stroke-width="3" />
<text x="1652.8" y="658.2" font-size="29" text-anchor="middle">−100</text>
<line x1="1754.8" y1="610.3" x2="1754.8" y2="624.5" stroke="#000" stroke-width="3" />
<text x="1754.8" y="658.2" font-size="29" text-anchor="middle">TSS</text>
<line x1="1856.8" y1="610.3" x2="1856.8" y2="624.5" stroke="#000" stroke-width="3" />
<text x="1856.8" y="658.2" font-size="29" text-anchor="middle">100</text>
<line x1="1958.6" y1="610.3" x2="1958.6" y2="624.5" stroke="#000" stroke-width="3" />
<text x="1958.6" y="658.2" font-size="29" text-anchor="middle">200</text>
<text transform="translate(1372.2,322.6) rotate(-90)" font-size="29" text-anchor="middle" >pNET-seq signal</text>
<path d="M1500.2 582.4 L1501.2 584.3 L1502.2 584.9 L1503.2 584.3 L1504.2 582.7 L1505.2 582.8 L1506.3 584.9 L1507.3 584.2 L1508.3 584 L1509.3 582.8 L1510.3 582.6 L1511.4 575.6 L1512.4 586.1 L1513.4 585.7 L1514.4 584.7 L1515.4 584.6 L1516.5 586.6 L1517.5 570.9 L1518.5 576.6 L1519.5 582 L1520.5 584.2 L1521.5 583.1 L1522.6 581.1 L1523.6 584.5 L1524.6 584.7 L1525.6 584.8 L1526.6 585.6 L1527.7 583.7 L1528.7 576.7 L1529.7 584.4 L1530.7 583.1 L1531.7 582.6 L1532.8 582.5 L1533.8 583.9 L1534.8 583.8 L1535.8 584.3 L1536.8 587.1 L1537.9 585.1 L1538.9 585.5 L1539.9 583.6 L1540.9 583.3 L1541.9 584.7 L1542.9 584.1 L1544 584.8 L1545 577.1 L1546 583.2 L1547 584.5 L1548 583.8 L1549.1 585.6 L1550.1 584.2 L1551.1 580.9 L1552.1 583.5 L1553.1 584.7 L1554.2 584.1 L1555.2 584.7 L1556.2 584.3 L1557.2 582.6 L1558.2 584.2 L1559.3 584.6 L1560.3 584 L1561.3 584.8 L1562.3 582 L1563.3 584.8 L1564.3 584.5 L1565.4 584.8 L1566.4 585 L1567.4 584.4 L1568.4 583.9 L1569.4 583.3 L1570.5 583.7 L1571.5 582.1 L1572.5 583.3 L1573.5 583.6 L1574.5 585.4 L1575.6 580.5 L1576.6 583.7 L1577.6 585.2 L1578.6 584.7 L1579.6 582.4 L1580.7 584.4 L1581.7 586 L1582.7 583.3 L1583.7 583.6 L1584.7 584.7 L1585.7 584.7 L1586.8 584.9 L1587.8 584.8 L1588.8 583.6 L1589.8 585.5 L1590.8 584.2 L1591.9 584.8 L1592.9 583.8 L1593.9 584.5 L1594.9 582.4 L1595.9 578 L1597 582.9 L1598 582.3 L1599 584.4 L1600 584.4 L1601 585.3 L1602.1 583.9 L1603.1 584.2 L1604.1 583.3 L1605.1 584.2 L1606.1 582.2 L1607.1 581.1 L1608.2 583.2 L1609.2 584.5 L1610.2 582.7 L1611.2 583.3 L1612.2 583.5 L1613.3 584.7 L1614.3 583.8 L1615.3 582.1 L1616.3 580.1 L1617.3 585.8 L1618.4 584.3 L1619.4 575.7 L1620.4 583.3 L1621.4 584 L1622.4 585.1 L1623.4 584.8 L1624.5 583 L1625.5 583.6 L1626.5 583.8 L1627.5 585.5 L1628.5 583.9 L1629.6 583.3 L1630.6 584.5 L1631.6 585.2 L1632.6 584.5 L1633.6 583.8 L1634.7 582.3 L1635.7 574.6 L1636.7 582 L1637.7 583.2 L1638.7 582.9 L1639.8 583.6 L1640.8 584.1 L1641.8 583.9 L1642.8 583.1 L1643.8 583.7 L1644.8 583.9 L1645.9 582.9 L1646.9 583.8 L1647.9 583.4 L1648.9 582.1 L1649.9 574.1 L1651 585.3 L1652 583.7 L1653 583 L1654 582.1 L1655 582.6 L1656.1 583.3 L1657.1 585.7 L1658.1 584 L1659.1 583 L1660.1 581.4 L1661.2 584.2 L1662.2 583.7 L1663.2 582.6 L1664.2 582.7 L1665.2 582.2 L1666.2 586.3 L1667.3 582.5 L1668.3 584.5 L1669.3 577.1 L1670.3 581.6 L1671.3 582.8 L1672.4 580.8 L1673.4 582.7 L1674.4 581.7 L1675.4 582.1 L1676.4 579.7 L1677.5 584 L1678.5 583.3 L1679.5 581.8 L1680.5 583.5 L1681.5 583.2 L1682.6 583.1 L1683.6 582.6 L1684.6 582.2 L1685.6 581.3 L1686.6 582.5 L1687.6 584 L1688.7 584.4 L1689.7 585.8 L1690.7 583.9 L1691.7 583.6 L1692.7 582.4 L1693.8 582.1 L1694.8 579.2 L1695.8 581.4 L1696.8 583.5 L1697.8 584.1 L1698.9 584.5 L1699.9 585.1 L1700.9 583.3 L1701.9 582.7 L1702.9 583.1 L1704 581.9 L1705 581.5 L1706 580.6 L1707 572.9 L1708 580.6 L1709 582.3 L1710.1 581.4 L1711.1 577.7 L1712.1 581.7 L1713.1 582.2 L1714.1 582 L1715.2 581.1 L1716.2 579.4 L1717.2 579.3 L1718.2 578.5 L1719.2 563.1 L1720.3 581.5 L1721.3 582.1 L1722.3 580.9 L1723.3 577.6 L1724.3 578.6 L1725.3 578.7 L1726.4 576.3 L1727.4 576.6 L1728.4 576.9 L1729.4 576 L1730.4 576.8 L1731.5 570.8 L1732.5 571.5 L1733.5 566.4 L1734.5 568.7 L1735.5 570.4 L1736.6 567 L1737.6 568.1 L1738.6 565.5 L1739.6 567.3 L1740.6 562.2 L1741.7 562 L1742.7 560.8 L1743.7 565 L1744.7 562.4 L1745.7 560.5 L1746.7 557.5 L1747.8 556.5 L1748.8 554.8 L1749.8 551.5 L1750.8 544.3 L1751.8 545.2 L1752.9 544.9 L1753.9 554.3 L1754.9 554.5 L1755.9 544.5 L1756.9 548 L1758 550.6 L1759 551.6 L1760 551.7 L1761 553.8 L1762 552.4 L1763.1 552.9 L1764.1 553.4 L1765.1 553 L1766.1 550.6 L1767.1 557.6 L1768.1 550.3 L1769.2 552.2 L1770.2 550.6 L1771.2 549.8 L1772.2 549.8 L1773.2 551.8 L1774.3 548.4 L1775.3 545.9 L1776.3 539.4 L1777.3 541.2 L1778.3 543.1 L1779.4 534.1 L1780.4 528.2 L1781.4 521.1 L1782.4 520.7 L1783.4 511.6 L1784.5 520.6 L1785.5 513.9 L1786.5 511.7 L1787.5 515 L1788.5 501.6 L1789.5 493.5 L1790.6 486.1 L1791.6 455.4 L1792.6 443.5 L1793.6 422.1 L1794.6 432 L1795.7 446.4 L1796.7 417.9 L1797.7 421.4 L1798.7 397.6 L1799.7 394.6 L1800.8 362.5 L1801.8 373.3 L1802.8 344.5 L1803.8 326.4 L1804.8 322.9 L1805.9 347.9 L1806.9 372.4 L1807.9 385.3 L1808.9 338.8 L1809.9 292 L1810.9 299.2 L1812 276.8 L1813 317.7 L1814 261.9 L1815 283.8 L1816 310.8 L1817.1 315.9 L1818.1 249.9 L1819.1 277 L1820.1 263.6 L1821.1 274.1 L1822.2 245.6 L1823.2 267.6 L1824.2 253 L1825.2 250 L1826.2 238.9 L1827.2 277.5 L1828.3 264.9 L1829.3 244.1 L1830.3 184.4 L1831.3 190 L1832.3 176.6 L1833.4 184.8 L1834.4 222.4 L1835.4 193.3 L1836.4 110.7 L1837.4 196.9 L1838.5 188.2 L1839.5 179.7 L1840.5 173.8 L1841.5 227.3 L1842.5 180.6 L1843.6 176.1 L1844.6 213.7 L1845.6 101.9 L1846.6 211 L1847.6 235.2 L1848.6 263.4 L1849.7 191.7 L1850.7 240.9 L1851.7 277.8 L1852.7 275 L1853.7 244.8 L1854.8 243.2 L1855.8 243.9 L1856.8 202.8 L1857.8 122.9 L1858.8 252.3 L1859.9 244.7 L1860.9 288.3 L1861.9 261.7 L1862.9 242.7 L1863.9 278.1 L1865 249.6 L1866 255.5 L1867 280 L1868 281 L1869 265.4 L1870 285.5 L1871.1 288.6 L1872.1 301 L1873.1 312.5 L1874.1 299 L1875.1 332.2 L1876.2 179.9 L1877.2 346.5 L1878.2 278.8 L1879.2 308.4 L1880.2 327.2 L1881.3 352 L1882.3 367.6 L1883.3 368.3 L1884.3 340.3 L1885.3 360.8 L1886.4 358.3 L1887.4 373.1 L1888.4 383.9 L1889.4 313.2 L1890.4 367.1 L1891.4 369.6 L1892.5 373.8 L1893.5 402.2 L1894.5 405.5 L1895.5 401.4 L1896.5 411.4 L1897.6 409.5 L1898.6 409.7 L1899.6 401.2 L1900.6 398 L1901.6 302 L1902.7 416.1 L1903.7 403.8 L1904.7 404.8 L1905.7 412.8 L1906.7 389.2 L1907.8 412.1 L1908.8 370.5 L1909.8 426.6 L1910.8 397.1 L1911.8 426.8 L1912.8 409.9 L1913.9 427.2 L1914.9 335.7 L1915.9 427.5 L1916.9 420.9 L1917.9 415.8 L1919 457.5 L1920 452.7 L1921 465.7 L1922 410.9 L1923 443.4 L1924.1 452.8 L1925.1 462.6 L1926.1 455.5 L1927.1 454.6 L1928.1 460 L1929.1 445.2 L1930.2 455.4 L1931.2 453 L1932.2 443.1 L1933.2 465.3 L1934.2 470.5 L1935.3 464.6 L1936.3 455.1 L1937.3 435.4 L1938.3 461.9 L1939.3 453.6 L1940.4 446.2 L1941.4 457.9 L1942.4 447.2 L1943.4 436.4 L1944.4 462.2 L1945.5 455.7 L1946.5 446.7 L1947.5 462 L1948.5 443.5 L1949.5 456.5 L1950.5 456.6 L1951.6 460.7 L1952.6 467 L1953.6 469.2 L1954.6 479.4 L1955.6 446.4 L1956.7 462.3 L1957.7 459.9 L1958.7 484.6 L1959.7 479.9 L1960.7 441.3 L1961.8 467 L1962.8 461.9 L1963.8 465.5 L1964.8 457.9 L1965.8 461.9 L1966.9 459.3 L1967.9 467.7 L1968.9 462.1 L1969.9 447.6 L1970.9 462.5 L1971.9 470.1 L1973 444 L1974 411.8 L1975 467.3 L1976 473.4 L1977 444.5 L1978.1 459.7 L1979.1 473.8 L1980.1 462.6 L1981.1 453.6 L1982.1 453.3 L1983.2 454.5 L1984.2 460.3 L1985.2 426.8 L1986.2 457.5 L1987.2 478.9 L1988.3 433.7 L1989.3 469.3 L1990.3 485.9 L1991.3 478.6 L1992.3 461.7 L1993.3 471.7 L1994.4 446.4 L1995.4 481.4 L1996.4 470.1 L1997.4 470.1 L1998.4 460.1 L1999.5 454.5 L2000.5 465.6 L2001.5 475.5 L2002.5 474.3 L2003.5 474.9 L2004.6 483.3 L2005.6 487.1 L2006.6 474.8 L2007.6 464.9 L2008.6 471.4 L2009.7 466.3 L2009.7 514.6 L2008.6 502.9 L2007.6 507.4 L2006.6 522.4 L2005.6 519.9 L2004.6 515.6 L2003.5 502.2 L2002.5 505.3 L2001.5 504.2 L2000.5 502.1 L1999.5 510.6 L1998.4 495.4 L1997.4 500.2 L1996.4 500.5 L1995.4 518.8 L1994.4 506.2 L1993.3 505.7 L1992.3 494.1 L1991.3 509.7 L1990.3 523.8 L1989.3 505.8 L1988.3 504.5 L1987.2 516 L1986.2 496.6 L1985.2 493.6 L1984.2 491.2 L1983.2 492.5 L1982.1 482.6 L1981.1 509.4 L1980.1 497.2 L1979.1 517.4 L1978.1 508.6 L1977 502.7 L1976 504.1 L1975 512.1 L1974 496.1 L1973 509.5 L1971.9 507.2 L1970.9 501.2 L1969.9 487.3 L1968.9 495.4 L1967.9 497.2 L1966.9 503.5 L1965.8 499.3 L1964.8 496.8 L1963.8 513.7 L1962.8 496.8 L1961.8 500.2 L1960.7 494.4 L1959.7 524.6 L1958.7 516.5 L1957.7 500.9 L1956.7 498.9 L1955.6 487.8 L1954.6 515.5 L1953.6 506 L1952.6 499.2 L1951.6 495.4 L1950.5 494.8 L1949.5 495 L1948.5 502 L1947.5 518.1 L1946.5 501 L1945.5 511.3 L1944.4 498.9 L1943.4 499.4 L1942.4 486 L1941.4 492.9 L1940.4 520.8 L1939.3 503.5 L1938.3 494.1 L1937.3 485.8 L1936.3 492.4 L1935.3 501.3 L1934.2 501.4 L1933.2 497.4 L1932.2 490.8 L1931.2 489.6 L1930.2 496.5 L1929.1 490.5 L1928.1 513.9 L1927.1 499.4 L1926.1 495.1 L1925.1 505.7 L1924.1 487.3 L1923 495 L1922 508 L1921 528 L1920 494.9 L1919 495.7 L1917.9 477.5 L1916.9 481.7 L1915.9 480.5 L1914.9 461.3 L1913.9 467.3 L1912.8 463.9 L1911.8 468.6 L1910.8 457.5 L1909.8 470 L1908.8 459.3 L1907.8 468.1 L1906.7 482 L1905.7 470.7 L1904.7 463.6 L1903.7 455 L1902.7 463.3 L1901.6 447.9 L1900.6 455.9 L1899.6 444.2 L1898.6 468.4 L1897.6 455.9 L1896.5 469.3 L1895.5 475.6 L1894.5 482.7 L1893.5 469.4 L1892.5 460.9 L1891.4 424.4 L1890.4 429.1 L1889.4 442.1 L1888.4 442.4 L1887.4 430.9 L1886.4 427.6 L1885.3 425.3 L1884.3 437.5 L1883.3 429.9 L1882.3 437 L1881.3 414.2 L1880.2 407.9 L1879.2 386.3 L1878.2 374.7 L1877.2 419.1 L1876.2 415.7 L1875.1 410.8 L1874.1 402.9 L1873.1 377.6 L1872.1 386.9 L1871.1 422.7 L1870 360.8 L1869 430.5 L1868 358.9 L1867 357 L1866 347 L1865 354.9 L1863.9 376.5 L1862.9 329 L1861.9 364.5 L1860.9 370.6 L1859.9 351.1 L1858.8 332.9 L1857.8 363.8 L1856.8 332.5 L1855.8 325.3 L1854.8 321.6 L1853.7 351.3 L1852.7 379.5 L1851.7 375.1 L1850.7 328 L1849.7 312.2 L1848.6 357.6 L1847.6 342.4 L1846.6 294.4 L1845.6 302.2 L1844.6 316.3 L1843.6 276.7 L1842.5 297.3 L1841.5 329.7 L1840.5 294.1 L1839.5 331.2 L1838.5 294.7 L1837.4 286.1 L1836.4 307.3 L1835.4 303.3 L1834.4 340.8 L1833.4 283.3 L1832.3 330.2 L1831.3 310 L1830.3 310.2 L1829.3 352.6 L1828.3 345.6 L1827.2 358.7 L1826.2 314.7 L1825.2 336.1 L1824.2 368 L1823.2 349.9 L1822.2 370.5 L1821.1 361.8 L1820.1 360.9 L1819.1 351.4 L1818.1 372.9 L1817.1 390.8 L1816 398 L1815 399.2 L1814 399.4 L1813 405.7 L1812 369.1 L1810.9 365.7 L1809.9 358.5 L1808.9 401.7 L1807.9 453.7 L1806.9 434.1 L1805.9 405.5 L1804.8 395.9 L1803.8 412.7 L1802.8 404.9 L1801.8 431.7 L1800.8 437.3 L1799.7 446.1 L1798.7 464 L1797.7 476 L1796.7 461.9 L1795.7 491.5 L1794.6 483.4 L1793.6 479.5 L1792.6 478.7 L1791.6 499.5 L1790.6 520.7 L1789.5 526 L1788.5 525.8 L1787.5 539.1 L1786.5 535.5 L1785.5 539.1 L1784.5 549.3 L1783.4 536.6 L1782.4 537.3 L1781.4 543.5 L1780.4 547.3 L1779.4 555.8 L1778.3 559.5 L1777.3 557.4 L1776.3 559.9 L1775.3 560.3 L1774.3 563 L1773.2 568.8 L1772.2 562.8 L1771.2 561.5 L1770.2 563.4 L1769.2 564.2 L1768.1 562.9 L1767.1 571.1 L1766.1 567.8 L1765.1 565.1 L1764.1 564.9 L1763.1 565.8 L1762 567 L1761 565.7 L1760 566 L1759 568.7 L1758 564.9 L1756.9 564.5 L1755.9 566.4 L1754.9 567.1 L1753.9 569 L1752.9 561.8 L1751.8 563.7 L1750.8 563.4 L1749.8 565.7 L1748.8 567.5 L1747.8 568.3 L1746.7 570.8 L1745.7 570.9 L1744.7 575.3 L1743.7 574.7 L1742.7 570 L1741.7 571.2 L1740.6 575.3 L1739.6 579.1 L1738.6 583.9 L1737.6 577.4 L1736.6 576.5 L1735.5 578.1 L1734.5 577.3 L1733.5 575.3 L1732.5 581.5 L1731.5 580.3 L1730.4 583.5 L1729.4 584 L1728.4 584.2 L1727.4 583.1 L1726.4 584.7 L1725.3 585 L1724.3 588.3 L1723.3 586 L1722.3 587.9 L1721.3 587.2 L1720.3 586.8 L1719.2 587.4 L1718.2 585.8 L1717.2 587.4 L1716.2 584.3 L1715.2 586.4 L1714.1 589.2 L1713.1 589.1 L1712.1 588.3 L1711.1 588.2 L1710.1 586.9 L1709 587.8 L1708 587.6 L1707 585.4 L1706 585.8 L1705 586.7 L1704 588.1 L1702.9 589.8 L1701.9 587.9 L1700.9 589.7 L1699.9 589.7 L1698.9 589.6 L1697.8 590 L1696.8 588.2 L1695.8 586.4 L1694.8 587.5 L1693.8 588.9 L1692.7 589.1 L1691.7 588.5 L1690.7 589.2 L1689.7 590.2 L1688.7 589.1 L1687.6 589.3 L1686.6 595.7 L1685.6 587.8 L1684.6 587.9 L1683.6 587.7 L1682.6 587.7 L1681.5 590.3 L1680.5 589.4 L1679.5 587.2 L1678.5 587.8 L1677.5 591.3 L1676.4 590.1 L1675.4 587 L1674.4 586.7 L1673.4 588.2 L1672.4 588 L1671.3 587.8 L1670.3 587 L1669.3 588.5 L1668.3 589.8 L1667.3 590.8 L1666.2 593.9 L1665.2 586.9 L1664.2 588.8 L1663.2 592 L1662.2 589 L1661.2 591.2 L1660.1 586.3 L1659.1 588.5 L1658.1 589.9 L1657.1 592.9 L1656.1 589.1 L1655 589 L1654 587.7 L1653 588.6 L1652 589.3 L1651 590.1 L1649.9 590.1 L1648.9 587.7 L1647.9 588.4 L1646.9 588.3 L1645.9 589.2 L1644.8 589.1 L1643.8 588.6 L1642.8 588.8 L1641.8 588.9 L1640.8 589.4 L1639.8 588.4 L1638.7 589.8 L1637.7 587.7 L1636.7 588.6 L1635.7 588.4 L1634.7 587.5 L1633.6 589.8 L1632.6 589.7 L1631.6 589.9 L1630.6 588.9 L1629.6 588.3 L1628.5 588.6 L1627.5 590.4 L1626.5 589.5 L1625.5 590.4 L1624.5 591.3 L1623.4 590.2 L1622.4 592.6 L1621.4 588.6 L1620.4 588.4 L1619.4 588.6 L1618.4 590.5 L1617.3 590.6 L1616.3 588.9 L1615.3 586.9 L1614.3 588.9 L1613.3 589 L1612.2 588.8 L1611.2 588.6 L1610.2 589.9 L1609.2 588.9 L1608.2 589 L1607.1 587.6 L1606.1 587.6 L1605.1 589.8 L1604.1 590.5 L1603.1 589.7 L1602.1 588.4 L1601 590 L1600 589.1 L1599 590.2 L1598 590.4 L1597 589.3 L1595.9 593.1 L1594.9 589.1 L1593.9 589.2 L1592.9 589.7 L1591.9 589.8 L1590.8 590.9 L1589.8 590.9 L1588.8 588.2 L1587.8 596.2 L1586.8 590 L1585.7 589.6 L1584.7 591 L1583.7 588.4 L1582.7 589.3 L1581.7 590.4 L1580.7 589.5 L1579.6 589.6 L1578.6 590.2 L1577.6 590.7 L1576.6 590.2 L1575.6 590.9 L1574.5 590.2 L1573.5 589.9 L1572.5 588.3 L1571.5 588.9 L1570.5 588.6 L1569.4 590.2 L1568.4 589.7 L1567.4 589.5 L1566.4 589.3 L1565.4 589.3 L1564.3 589.1 L1563.3 591 L1562.3 589.8 L1561.3 589.3 L1560.3 588.2 L1559.3 589.4 L1558.2 590.6 L1557.2 590.2 L1556.2 589.2 L1555.2 590 L1554.2 588.8 L1553.1 590.2 L1552.1 590.1 L1551.1 589.7 L1550.1 589.1 L1549.1 590.3 L1548 588.3 L1547 589.7 L1546 588.6 L1545 590.4 L1544 589.1 L1542.9 589.3 L1541.9 589.3 L1540.9 589 L1539.9 588.3 L1538.9 590.1 L1537.9 590.1 L1536.8 591.5 L1535.8 588.9 L1534.8 589.6 L1533.8 588.5 L1532.8 588.1 L1531.7 588.9 L1530.7 588.1 L1529.7 589.3 L1528.7 587.6 L1527.7 590.7 L1526.6 590.1 L1525.6 589.9 L1524.6 589.2 L1523.6 588.8 L1522.6 588.9 L1521.5 590.4 L1520.5 588.8 L1519.5 589.2 L1518.5 589 L1517.5 590.1 L1516.5 591 L1515.4 589.2 L1514.4 589.6 L1513.4 590.5 L1512.4 590.3 L1511.4 590.1 L1510.3 589.4 L1509.3 593.6 L1508.3 588.4 L1507.3 591.3 L1506.3 589.3 L1505.2 589.2 L1504.2 588.7 L1503.2 591 L1502.2 590.3 L1501.2 589.3 L1500.2 589.3Z" fill="#7E9ED2" fill-opacity="0.8"/>
<path d="M1500.2 586 1501.2 587 1502.2 587.8 1503.2 586.8 1504.2 585.9 1505.2 586.5 1506.3 587.2 1507.3 587.9 1508.3 586.3 1509.3 585.7 1510.3 587.1 1511.4 587.4 1512.4 588.3 1513.4 588.2 1514.4 587.3 1515.4 586.8 1516.5 588.9 1517.5 587.4 1518.5 586.4 1519.5 585.8 1520.5 586.6 1521.5 586.9 1522.6 586.6 1523.6 586.7 1524.6 587 1525.6 587.5 1526.6 588 1527.7 587.4 1528.7 585.6 1529.7 587 1530.7 585.8 1531.7 586.3 1532.8 585.5 1533.8 586.4 1534.8 586 1535.8 586.7 1536.8 589.4 1537.9 587.7 1538.9 587.8 1539.9 586.1 1540.9 586.3 1541.9 587.2 1542.9 586.8 1544 587.1 1545 587 1546 586 1547 587 1548 586.2 1549.1 588.1 1550.1 586.8 1551.1 587.3 1552.1 586.9 1553.1 587.6 1554.2 586.5 1555.2 587.5 1556.2 586.9 1557.2 587.8 1558.2 587.6 1559.3 587.1 1560.3 586.2 1561.3 587.1 1562.3 587.2 1563.3 588.2 1564.3 586.9 1565.4 587.2 1566.4 587.3 1567.4 587.1 1568.4 587 1569.4 586.9 1570.5 586.3 1571.5 585.7 1572.5 586 1573.5 586.9 1574.5 588 1575.6 587.9 1576.6 587.9 1577.6 587.7 1578.6 587.6 1579.6 587.1 1580.7 587.4 1581.7 588.3 1582.7 586.9 1583.7 586.1 1584.7 588 1585.7 587.3 1586.8 587.6 1587.8 587.6 1588.8 586 1589.8 588.4 1590.8 588.6 1591.9 587.4 1592.9 587.5 1593.9 587 1594.9 585.9 1595.9 586.2 1597 586.7 1598 587.5 1599 587.4 1600 586.9 1601 587.7 1602.1 586.3 1603.1 587.1 1604.1 587.6 1605.1 586.6 1606.1 585 1607.1 585.2 1608.2 586.2 1609.2 586.8 1610.2 587.9 1611.2 586.1 1612.2 586.3 1613.3 586.9 1614.3 586.5 1615.3 584.5 1616.3 586.4 1617.3 588.3 1618.4 587.9 1619.4 586.2 1620.4 586 1621.4 586.4 1622.4 588.5 1623.4 587.6 1624.5 586.9 1625.5 587.9 1626.5 586.8 1627.5 588.1 1628.5 586.4 1629.6 586 1630.6 586.8 1631.6 587.7 1632.6 587.4 1633.6 586.9 1634.7 585 1635.7 585.3 1636.7 585.4 1637.7 585.6 1638.7 586.5 1639.8 586.1 1640.8 586.9 1641.8 586.6 1642.8 586.1 1643.8 586.3 1644.8 586.6 1645.9 587.1 1646.9 586.2 1647.9 586 1648.9 585 1649.9 587.2 1651 587.8 1652 586.6 1653 586 1654 585.1 1655 586 1656.1 586.3 1657.1 588.1 1658.1 587.1 1659.1 585.8 1660.1 584 1661.2 586.6 1662.2 586.5 1663.2 584.9 1664.2 585.9 1665.2 584.7 1666.2 588.6 1667.3 588 1668.3 587.3 1669.3 586.4 1670.3 584.4 1671.3 585.4 1672.4 584.6 1673.4 586.1 1674.4 584.3 1675.4 584.7 1676.4 586.7 1677.5 587.7 1678.5 585.7 1679.5 584.6 1680.5 586.3 1681.5 586.9 1682.6 585.5 1683.6 585.3 1684.6 585.2 1685.6 584.7 1686.6 585 1687.6 586.8 1688.7 586.9 1689.7 588.1 1690.7 586.7 1691.7 586.2 1692.7 585.2 1693.8 585.6 1694.8 584.8 1695.8 584 1696.8 585.9 1697.8 587.2 1698.9 587.2 1699.9 587.6 1700.9 586.7 1701.9 585.4 1702.9 585.6 1704 585.2 1705 584.3 1706 583.3 1707 583.1 1708 584.3 1709 584.8 1710.1 584.3 1711.1 585.9 1712.1 585.1 1713.1 585.2 1714.1 585.8 1715.2 583.9 1716.2 582 1717.2 584 1718.2 583.1 1719.2 584.8 1720.3 584.3 1721.3 584.8 1722.3 584.6 1723.3 581.4 1724.3 583.2 1725.3 582 1726.4 580.7 1727.4 580 1728.4 580.8 1729.4 580.7 1730.4 580.3 1731.5 575.8 1732.5 575.1 1733.5 571.5 1734.5 573.2 1735.5 574.5 1736.6 572 1737.6 572.4 1738.6 571.9 1739.6 572.7 1740.6 568.9 1741.7 566.8 1742.7 565.6 1743.7 570.1 1744.7 569.8 1745.7 566 1746.7 564.5 1747.8 562.7 1748.8 561.5 1749.8 559 1750.8 557.9 1751.8 554.9 1752.9 555.5 1753.9 562 1754.9 561.1 1755.9 559.4 1756.9 557.9 1758 558.1 1759 559.7 1760 557.9 1761 560 1762 561.3 1763.1 559.7 1764.1 559.5 1765.1 559.3 1766.1 559.6 1767.1 564.7 1768.1 556.9 1769.2 558.5 1770.2 557.3 1771.2 556 1772.2 556.7 1773.2 559.1 1774.3 556.1 1775.3 553.5 1776.3 550.2 1777.3 549.7 1778.3 551.7 1779.4 545.5 1780.4 538.3 1781.4 532.9 1782.4 529.5 1783.4 524.7 1784.5 532.6 1785.5 530.1 1786.5 524.2 1787.5 529.2 1788.5 514.4 1789.5 510.6 1790.6 504.3 1791.6 478.6 1792.6 462.1 1793.6 456.1 1794.6 466.5 1795.7 470.1 1796.7 441.1 1797.7 450.1 1798.7 432.9 1799.7 421.7 1800.8 410.5 1801.8 404.1 1802.8 376.3 1803.8 371.8 1804.8 361.3 1805.9 378.2 1806.9 404.9 1807.9 421.3 1808.9 371.9 1809.9 327 1810.9 334.2 1812 326.4 1813 374 1814 364.9 1815 337.6 1816 356.7 1817.1 355.3 1818.1 314.6 1819.1 319 1820.1 321.9 1821.1 324 1822.2 323.7 1823.2 310.9 1824.2 313.5 1825.2 295.3 1826.2 278.8 1827.2 320.2 1828.3 307.3 1829.3 301.2 1830.3 250.6 1831.3 261 1832.3 283.9 1833.4 239.7 1834.4 276.8 1835.4 251.2 1836.4 258 1837.4 243.9 1838.5 244.3 1839.5 266.3 1840.5 237.1 1841.5 281.2 1842.5 242 1843.6 229 1844.6 267.7 1845.6 243.1 1846.6 254.9 1847.6 291.6 1848.6 313 1849.7 255.2 1850.7 286.7 1851.7 329 1852.7 330 1853.7 300.8 1854.8 284.5 1855.8 286.8 1856.8 271.1 1857.8 285.7 1858.8 294.7 1859.9 300.7 1860.9 331.6 1861.9 315.8 1862.9 288.1 1863.9 329.9 1865 305 1866 310.6 1867 320.5 1868 322 1869 312.4 1870 325.1 1871.1 376.2 1872.1 346.2 1873.1 346.7 1874.1 371.1 1875.1 375.3 1876.2 379.4 1877.2 384.7 1878.2 343.1 1879.2 349.4 1880.2 369.7 1881.3 384.7 1882.3 404.2 1883.3 400.7 1884.3 391.5 1885.3 394.7 1886.4 394.8 1887.4 403.6 1888.4 414.7 1889.4 407.2 1890.4 399.7 1891.4 398.4 1892.5 424.7 1893.5 437.6 1894.5 439.8 1895.5 440.4 1896.5 441.8 1897.6 433.9 1898.6 440.6 1899.6 423.8 1900.6 428.5 1901.6 424.8 1902.7 440.9 1903.7 432.5 1904.7 435.7 1905.7 443.3 1906.7 457.1 1907.8 439.1 1908.8 432.2 1909.8 449.5 1910.8 435.7 1911.8 448.8 1912.8 443.9 1913.9 448.3 1914.9 433.6 1915.9 455.4 1916.9 452 1917.9 448.3 1919 477 1920 474.9 1921 501.5 1922 482.8 1923 470.6 1924.1 471 1925.1 485.3 1926.1 476.3 1927.1 478.2 1928.1 480 1929.1 469 1930.2 474.9 1931.2 472.3 1932.2 465.9 1933.2 482.2 1934.2 486.8 1935.3 483.9 1936.3 474.7 1937.3 462.6 1938.3 478.9 1939.3 479.8 1940.4 467.3 1941.4 476.3 1942.4 467.6 1943.4 476.8 1944.4 481.5 1945.5 485 1946.5 485.1 1947.5 484.9 1948.5 474.3 1949.5 476.8 1950.5 476.7 1951.6 479 1952.6 483.9 1953.6 488.6 1954.6 498.4 1955.6 468.2 1956.7 481.5 1957.7 481.5 1958.7 501.4 1959.7 497.6 1960.7 475.7 1961.8 484.5 1962.8 480.2 1963.8 490.9 1964.8 478.3 1965.8 481.6 1966.9 482.6 1967.9 483.2 1968.9 479.6 1969.9 468.5 1970.9 482.9 1971.9 492.3 1973 487.1 1974 477.9 1975 484.3 1976 489.5 1977 485.5 1978.1 485.5 1979.1 496.7 1980.1 480.8 1981.1 479.7 1982.1 468.8 1983.2 474.5 1984.2 476.5 1985.2 475.9 1986.2 478.1 1987.2 498.4 1988.3 490.4 1989.3 488.5 1990.3 505.9 1991.3 495 1992.3 478.8 1993.3 489.6 1994.4 483.6 1995.4 501.1 1996.4 486 1997.4 486 1998.4 478.7 1999.5 489.1 2000.5 484.8 2001.5 490.6 2002.5 490.6 2003.5 489.3 2004.6 500.3 2005.6 504.4 2006.6 499.8 2007.6 491.7 2008.6 488 2009.7 496.5" fill="none" stroke="#1372B2" stroke-width="5.2" stroke-linejoin="round" stroke-linecap="round"/>
<path d="M1500.2 577.1 L1501.2 571.7 L1502.2 578.8 L1503.2 570.4 L1504.2 572.4 L1505.2 561.1 L1506.3 569.7 L1507.3 567.8 L1508.3 564.7 L1509.3 565.6 L1510.3 565.7 L1511.4 551.3 L1512.4 555.2 L1513.4 555.3 L1514.4 562.5 L1515.4 553.5 L1516.5 562.9 L1517.5 563.2 L1518.5 566.9 L1519.5 571.7 L1520.5 575.6 L1521.5 573.5 L1522.6 573.3 L1523.6 568.6 L1524.6 571.8 L1525.6 572.8 L1526.6 572 L1527.7 570.5 L1528.7 574.2 L1529.7 578.6 L1530.7 577.4 L1531.7 577.1 L1532.8 576.2 L1533.8 577.3 L1534.8 576.2 L1535.8 573.7 L1536.8 575 L1537.9 577.4 L1538.9 576 L1539.9 572 L1540.9 575.8 L1541.9 572 L1542.9 576.9 L1544 577.4 L1545 575.1 L1546 577 L1547 574.9 L1548 572.1 L1549.1 574.8 L1550.1 572.5 L1551.1 575.6 L1552.1 576.5 L1553.1 575.9 L1554.2 575.7 L1555.2 570.2 L1556.2 575.8 L1557.2 573.9 L1558.2 572 L1559.3 577.6 L1560.3 572.8 L1561.3 564.1 L1562.3 573.7 L1563.3 575.8 L1564.3 569.5 L1565.4 571.4 L1566.4 577 L1567.4 574.4 L1568.4 575 L1569.4 571.1 L1570.5 571.8 L1571.5 569.7 L1572.5 570.9 L1573.5 576.8 L1574.5 571.7 L1575.6 574.1 L1576.6 573.7 L1577.6 575.9 L1578.6 574.2 L1579.6 575.7 L1580.7 579.4 L1581.7 579.5 L1582.7 574.1 L1583.7 571.5 L1584.7 577.6 L1585.7 573.1 L1586.8 575.5 L1587.8 576.3 L1588.8 566 L1589.8 575.9 L1590.8 576.2 L1591.9 578.4 L1592.9 569.4 L1593.9 575.9 L1594.9 573.8 L1595.9 573.4 L1597 574.9 L1598 569.3 L1599 572.8 L1600 577.3 L1601 573.1 L1602.1 574.5 L1603.1 570 L1604.1 572.7 L1605.1 574.7 L1606.1 570.9 L1607.1 576.2 L1608.2 571.7 L1609.2 572.6 L1610.2 569.6 L1611.2 570.6 L1612.2 573.5 L1613.3 569.5 L1614.3 574.1 L1615.3 574.1 L1616.3 572.6 L1617.3 571.3 L1618.4 574.8 L1619.4 572 L1620.4 574 L1621.4 565.7 L1622.4 568 L1623.4 559.4 L1624.5 568 L1625.5 567.9 L1626.5 568 L1627.5 572.2 L1628.5 574.8 L1629.6 570.9 L1630.6 574.8 L1631.6 574.7 L1632.6 575.9 L1633.6 567.6 L1634.7 573.9 L1635.7 571.1 L1636.7 564.8 L1637.7 573.7 L1638.7 574.9 L1639.8 576.5 L1640.8 574 L1641.8 572.7 L1642.8 572.8 L1643.8 577 L1644.8 570.7 L1645.9 572 L1646.9 568.4 L1647.9 572.4 L1648.9 574.9 L1649.9 573.6 L1651 575 L1652 571.4 L1653 572.1 L1654 570.6 L1655 568.7 L1656.1 569.4 L1657.1 571.7 L1658.1 573.2 L1659.1 571.5 L1660.1 571.9 L1661.2 570.2 L1662.2 573.8 L1663.2 570.1 L1664.2 572.2 L1665.2 574.6 L1666.2 571.8 L1667.3 575.6 L1668.3 572 L1669.3 573.9 L1670.3 568.1 L1671.3 563.7 L1672.4 569.4 L1673.4 568.5 L1674.4 573.1 L1675.4 573 L1676.4 563.3 L1677.5 564.4 L1678.5 570.7 L1679.5 574.5 L1680.5 572.7 L1681.5 576.1 L1682.6 576.2 L1683.6 571.7 L1684.6 575 L1685.6 567.3 L1686.6 569.2 L1687.6 570.5 L1688.7 567.6 L1689.7 575 L1690.7 574.1 L1691.7 573.2 L1692.7 575.8 L1693.8 572.4 L1694.8 570.4 L1695.8 567 L1696.8 573.3 L1697.8 569.3 L1698.9 572.7 L1699.9 574.6 L1700.9 573 L1701.9 568.9 L1702.9 571.2 L1704 571.2 L1705 571.1 L1706 573.9 L1707 563.9 L1708 571.4 L1709 575.8 L1710.1 571.6 L1711.1 571.7 L1712.1 566.4 L1713.1 567.9 L1714.1 568.5 L1715.2 570 L1716.2 569.9 L1717.2 574.4 L1718.2 571.2 L1719.2 571.7 L1720.3 572.5 L1721.3 573.3 L1722.3 574.5 L1723.3 562.4 L1724.3 576 L1725.3 570.8 L1726.4 569 L1727.4 566.3 L1728.4 564.9 L1729.4 565.2 L1730.4 568.8 L1731.5 566.4 L1732.5 569 L1733.5 568.3 L1734.5 568.4 L1735.5 574.3 L1736.6 574.7 L1737.6 571.8 L1738.6 547.7 L1739.6 572.3 L1740.6 564.5 L1741.7 562.4 L1742.7 551.4 L1743.7 567.7 L1744.7 569.9 L1745.7 565.3 L1746.7 575.7 L1747.8 577.6 L1748.8 574 L1749.8 570.9 L1750.8 561.4 L1751.8 573.5 L1752.9 573.9 L1753.9 564.8 L1754.9 568.6 L1755.9 569.4 L1756.9 569.8 L1758 562.7 L1759 571.3 L1760 564.7 L1761 567.1 L1762 560.3 L1763.1 558.5 L1764.1 557.8 L1765.1 561.1 L1766.1 560 L1767.1 556.3 L1768.1 561.8 L1769.2 561.9 L1770.2 563.4 L1771.2 563.1 L1772.2 559.2 L1773.2 555.2 L1774.3 554.6 L1775.3 555.5 L1776.3 554.7 L1777.3 554.2 L1778.3 550.9 L1779.4 559.5 L1780.4 560.6 L1781.4 522.9 L1782.4 542 L1783.4 534.7 L1784.5 553.4 L1785.5 551.4 L1786.5 543.9 L1787.5 548.4 L1788.5 539.7 L1789.5 523.8 L1790.6 524.1 L1791.6 535 L1792.6 535.3 L1793.6 525.1 L1794.6 521.9 L1795.7 538.6 L1796.7 490.4 L1797.7 518.2 L1798.7 503.9 L1799.7 517.3 L1800.8 510.4 L1801.8 512.9 L1802.8 519.1 L1803.8 512.9 L1804.8 516.2 L1805.9 511.3 L1806.9 451 L1807.9 494.9 L1808.9 504 L1809.9 475.1 L1810.9 485 L1812 486.2 L1813 491.6 L1814 492.2 L1815 480.4 L1816 493.5 L1817.1 476.8 L1818.1 471.8 L1819.1 433.2 L1820.1 486.7 L1821.1 469.9 L1822.2 464.3 L1823.2 455.3 L1824.2 470.1 L1825.2 470.1 L1826.2 422.1 L1827.2 452.9 L1828.3 454.7 L1829.3 469.1 L1830.3 470.3 L1831.3 468.7 L1832.3 474.4 L1833.4 482.1 L1834.4 471.3 L1835.4 470.2 L1836.4 468.1 L1837.4 455.6 L1838.5 460.3 L1839.5 442.6 L1840.5 411.7 L1841.5 439.4 L1842.5 452 L1843.6 452.5 L1844.6 438.5 L1845.6 463.2 L1846.6 468.6 L1847.6 429.7 L1848.6 476.1 L1849.7 476.7 L1850.7 440.2 L1851.7 458.4 L1852.7 470.4 L1853.7 450 L1854.8 454.2 L1855.8 457.2 L1856.8 439.4 L1857.8 468.3 L1858.8 455.3 L1859.9 449.5 L1860.9 455.5 L1861.9 467.8 L1862.9 471.6 L1863.9 466.8 L1865 468.2 L1866 469.3 L1867 476.7 L1868 471.8 L1869 463.7 L1870 466.7 L1871.1 463.1 L1872.1 465.4 L1873.1 449.3 L1874.1 462.7 L1875.1 445.3 L1876.2 493.7 L1877.2 481.1 L1878.2 477.1 L1879.2 466.8 L1880.2 474.8 L1881.3 467.9 L1882.3 462.9 L1883.3 450.7 L1884.3 478.7 L1885.3 475.1 L1886.4 491.7 L1887.4 431.4 L1888.4 465.4 L1889.4 420.3 L1890.4 477.3 L1891.4 458.2 L1892.5 476.9 L1893.5 469.5 L1894.5 465.7 L1895.5 451.5 L1896.5 487.4 L1897.6 467.3 L1898.6 457 L1899.6 487.7 L1900.6 476.8 L1901.6 426.7 L1902.7 491 L1903.7 501 L1904.7 483.2 L1905.7 469.7 L1906.7 489.3 L1907.8 483.8 L1908.8 474 L1909.8 474.3 L1910.8 456.8 L1911.8 463.2 L1912.8 452.4 L1913.9 411.8 L1914.9 483.8 L1915.9 483.9 L1916.9 502.6 L1917.9 461.8 L1919 474 L1920 459.4 L1921 495.9 L1922 484.7 L1923 493.9 L1924.1 484.2 L1925.1 477.9 L1926.1 480.9 L1927.1 469.7 L1928.1 462.1 L1929.1 495.4 L1930.2 499.9 L1931.2 490.4 L1932.2 511.9 L1933.2 500.1 L1934.2 492.1 L1935.3 467.8 L1936.3 474.6 L1937.3 495.6 L1938.3 475.5 L1939.3 476.1 L1940.4 461.5 L1941.4 481.4 L1942.4 490.7 L1943.4 508.4 L1944.4 489.9 L1945.5 490.7 L1946.5 495.4 L1947.5 496.2 L1948.5 499 L1949.5 485.9 L1950.5 490.8 L1951.6 467.7 L1952.6 488.6 L1953.6 485.5 L1954.6 488.5 L1955.6 495.2 L1956.7 500.9 L1957.7 508.1 L1958.7 513.2 L1959.7 495.9 L1960.7 484.8 L1961.8 512.3 L1962.8 497.8 L1963.8 453.5 L1964.8 493.3 L1965.8 478.9 L1966.9 472.1 L1967.9 485.8 L1968.9 475.7 L1969.9 478.5 L1970.9 482.1 L1971.9 500.6 L1973 506.7 L1974 507.7 L1975 495.4 L1976 487.2 L1977 501.7 L1978.1 495.2 L1979.1 494.5 L1980.1 508.8 L1981.1 502.8 L1982.1 459.3 L1983.2 490.5 L1984.2 480.6 L1985.2 507.6 L1986.2 500.6 L1987.2 516.4 L1988.3 485 L1989.3 495.5 L1990.3 503.7 L1991.3 505.7 L1992.3 491.1 L1993.3 508.2 L1994.4 472.1 L1995.4 493.7 L1996.4 511 L1997.4 489.2 L1998.4 500.8 L1999.5 509.5 L2000.5 486.6 L2001.5 495 L2002.5 507.5 L2003.5 502 L2004.6 495 L2005.6 498.9 L2006.6 485 L2007.6 489.3 L2008.6 484.2 L2009.7 481.6 L2009.7 522.3 L2008.6 545.1 L2007.6 526.7 L2006.6 532.5 L2005.6 554 L2004.6 525.9 L2003.5 533.4 L2002.5 548.9 L2001.5 530.9 L2000.5 518.4 L1999.5 537.6 L1998.4 530.7 L1997.4 535.7 L1996.4 538.9 L1995.4 529.8 L1994.4 522.1 L1993.3 535.8 L1992.3 540.3 L1991.3 536 L1990.3 542 L1989.3 531.7 L1988.3 530.8 L1987.2 549.7 L1986.2 554.3 L1985.2 538.2 L1984.2 541.2 L1983.2 524.7 L1982.1 534 L1981.1 531.1 L1980.1 537.2 L1979.1 533 L1978.1 522.6 L1977 529.9 L1976 519.4 L1975 557.9 L1974 537.4 L1973 542.7 L1971.9 543.8 L1970.9 520.4 L1969.9 521.4 L1968.9 507.2 L1967.9 519.9 L1966.9 501.4 L1965.8 528.5 L1964.8 523.6 L1963.8 540.4 L1962.8 535.5 L1961.8 543.8 L1960.7 533.4 L1959.7 526.8 L1958.7 543.7 L1957.7 543.9 L1956.7 535.5 L1955.6 523.4 L1954.6 523.4 L1953.6 539.6 L1952.6 517.9 L1951.6 510.8 L1950.5 523.4 L1949.5 524.7 L1948.5 529.3 L1947.5 529.2 L1946.5 533.4 L1945.5 520 L1944.4 520.5 L1943.4 540.8 L1942.4 533.3 L1941.4 511.4 L1940.4 530.2 L1939.3 511 L1938.3 525.1 L1937.3 528.2 L1936.3 514.7 L1935.3 515 L1934.2 534.9 L1933.2 537.5 L1932.2 541.8 L1931.2 549 L1930.2 532.9 L1929.1 534 L1928.1 496 L1927.1 513.9 L1926.1 514.6 L1925.1 518.4 L1924.1 529.5 L1923 537.1 L1922 533.7 L1921 528.3 L1920 519.5 L1919 504.7 L1917.9 502.4 L1916.9 537.4 L1915.9 527.6 L1914.9 518 L1913.9 501.2 L1912.8 504.3 L1911.8 504.1 L1910.8 492.2 L1909.8 510.8 L1908.8 511 L1907.8 519.2 L1906.7 521.5 L1905.7 508.3 L1904.7 524.8 L1903.7 539.2 L1902.7 525.6 L1901.6 509.7 L1900.6 510.7 L1899.6 525.7 L1898.6 520.3 L1897.6 508.8 L1896.5 532.9 L1895.5 505.4 L1894.5 505.2 L1893.5 505.7 L1892.5 513 L1891.4 506.4 L1890.4 519.4 L1889.4 544.3 L1888.4 500.1 L1887.4 513.3 L1886.4 531.3 L1885.3 510.5 L1884.3 516.7 L1883.3 491.3 L1882.3 512.7 L1881.3 505.1 L1880.2 532.6 L1879.2 525.1 L1878.2 522.1 L1877.2 524.5 L1876.2 529.6 L1875.1 497.2 L1874.1 501.5 L1873.1 493 L1872.1 509 L1871.1 528.8 L1870 504.9 L1869 507.6 L1868 518.2 L1867 517 L1866 504.7 L1865 504.7 L1863.9 516 L1862.9 513.9 L1861.9 514.4 L1860.9 518.3 L1859.9 492.4 L1858.8 507.6 L1857.8 512.4 L1856.8 489.2 L1855.8 508.8 L1854.8 493.7 L1853.7 521.4 L1852.7 513.1 L1851.7 493.5 L1850.7 510.3 L1849.7 511.7 L1848.6 513 L1847.6 502.6 L1846.6 506.8 L1845.6 498.5 L1844.6 476.1 L1843.6 503 L1842.5 497.3 L1841.5 491.4 L1840.5 497.4 L1839.5 495.2 L1838.5 505.4 L1837.4 516.9 L1836.4 514.1 L1835.4 533.8 L1834.4 509.7 L1833.4 536.9 L1832.3 519 L1831.3 505 L1830.3 510.3 L1829.3 521 L1828.3 503.9 L1827.2 492.9 L1826.2 504.4 L1825.2 516.9 L1824.2 517.3 L1823.2 502.3 L1822.2 497.3 L1821.1 506.8 L1820.1 519.3 L1819.1 520.5 L1818.1 520.6 L1817.1 522.1 L1816 533.4 L1815 537.9 L1814 525.1 L1813 529.4 L1812 526.2 L1810.9 530.2 L1809.9 542.7 L1808.9 541.8 L1807.9 527.7 L1806.9 535.1 L1805.9 539.2 L1804.8 543.7 L1803.8 540.6 L1802.8 549.8 L1801.8 542.1 L1800.8 535.1 L1799.7 542 L1798.7 542.9 L1797.7 543.2 L1796.7 556.4 L1795.7 563 L1794.6 551.9 L1793.6 550.7 L1792.6 560.9 L1791.6 554.3 L1790.6 565.3 L1789.5 570 L1788.5 571.4 L1787.5 568.5 L1786.5 568.4 L1785.5 570.4 L1784.5 572.4 L1783.4 563.3 L1782.4 563.9 L1781.4 569.5 L1780.4 577.7 L1779.4 574.9 L1778.3 574.7 L1777.3 573.4 L1776.3 569.5 L1775.3 574.1 L1774.3 569 L1773.2 571.3 L1772.2 574.4 L1771.2 577.2 L1770.2 577.6 L1769.2 583 L1768.1 579.7 L1767.1 578.6 L1766.1 573.8 L1765.1 573.8 L1764.1 574.9 L1763.1 571 L1762 575.6 L1761 581.6 L1760 579.6 L1759 584.4 L1758 584.5 L1756.9 581.4 L1755.9 580.7 L1754.9 580.4 L1753.9 578 L1752.9 586.6 L1751.8 587.7 L1750.8 585.9 L1749.8 583.5 L1748.8 587.5 L1747.8 589.1 L1746.7 589.7 L1745.7 584.7 L1744.7 587 L1743.7 580.2 L1742.7 582.6 L1741.7 577.3 L1740.6 578.7 L1739.6 584.5 L1738.6 581.1 L1737.6 583.5 L1736.6 587.4 L1735.5 587.1 L1734.5 582.2 L1733.5 579.7 L1732.5 583.3 L1731.5 581.8 L1730.4 581 L1729.4 576.9 L1728.4 579.9 L1727.4 578 L1726.4 583.7 L1725.3 592.8 L1724.3 587.2 L1723.3 580.1 L1722.3 585.9 L1721.3 585.2 L1720.3 583.7 L1719.2 583.1 L1718.2 582.7 L1717.2 592.9 L1716.2 582.7 L1715.2 583.3 L1714.1 579.4 L1713.1 580.5 L1712.1 578.8 L1711.1 584.1 L1710.1 589 L1709 588.4 L1708 582.7 L1707 581.3 L1706 585.8 L1705 582.8 L1704 585.5 L1702.9 585.9 L1701.9 585 L1700.9 584.8 L1699.9 586.1 L1698.9 583.7 L1697.8 582.8 L1696.8 587.8 L1695.8 585.8 L1694.8 582.7 L1693.8 583.6 L1692.7 587.5 L1691.7 584.1 L1690.7 585 L1689.7 586.9 L1688.7 583.4 L1687.6 582.6 L1686.6 582.7 L1685.6 580.9 L1684.6 586.8 L1683.6 584.4 L1682.6 587.2 L1681.5 586.9 L1680.5 584.4 L1679.5 585.6 L1678.5 583.3 L1677.5 583.1 L1676.4 582.9 L1675.4 596.6 L1674.4 585.1 L1673.4 583.5 L1672.4 582.4 L1671.3 578.6 L1670.3 590.4 L1669.3 585.3 L1668.3 584.6 L1667.3 589.7 L1666.2 584.6 L1665.2 585.6 L1664.2 584.8 L1663.2 583.5 L1662.2 584.5 L1661.2 581.5 L1660.1 583.5 L1659.1 588 L1658.1 591.8 L1657.1 583.3 L1656.1 583.9 L1655 582.7 L1654 586.8 L1653 585.8 L1652 585.8 L1651 586.4 L1649.9 585.5 L1648.9 586.3 L1647.9 584.9 L1646.9 588.5 L1645.9 584.3 L1644.8 583.3 L1643.8 589.4 L1642.8 586.9 L1641.8 586.8 L1640.8 586.7 L1639.8 589.1 L1638.7 586.8 L1637.7 585.4 L1636.7 586.2 L1635.7 582.9 L1634.7 585 L1633.6 585.8 L1632.6 587 L1631.6 590.9 L1630.6 586.1 L1629.6 583.9 L1628.5 592.7 L1627.5 584.2 L1626.5 580.4 L1625.5 579.7 L1624.5 586.2 L1623.4 584.5 L1622.4 583.6 L1621.4 587.1 L1620.4 586.6 L1619.4 584.7 L1618.4 588.3 L1617.3 588.6 L1616.3 584 L1615.3 586.4 L1614.3 584.8 L1613.3 585.9 L1612.2 585.2 L1611.2 583.1 L1610.2 585.9 L1609.2 583.7 L1608.2 583.7 L1607.1 588.3 L1606.1 588 L1605.1 586.9 L1604.1 587.3 L1603.1 586.7 L1602.1 585.2 L1601 586.9 L1600 588.1 L1599 590.7 L1598 584.8 L1597 585.7 L1595.9 584.5 L1594.9 585.6 L1593.9 587.4 L1592.9 585.2 L1591.9 588.8 L1590.8 588.4 L1589.8 588.3 L1588.8 586.4 L1587.8 588.8 L1586.8 589.4 L1585.7 589.1 L1584.7 593.1 L1583.7 583.6 L1582.7 587.7 L1581.7 593.3 L1580.7 589.9 L1579.6 596.9 L1578.6 585.5 L1577.6 586.5 L1576.6 585.9 L1575.6 585.5 L1574.5 588.1 L1573.5 587.7 L1572.5 591 L1571.5 580.7 L1570.5 582.8 L1569.4 583.2 L1568.4 586.5 L1567.4 585.2 L1566.4 587.7 L1565.4 582.7 L1564.3 583.6 L1563.3 586.7 L1562.3 587.2 L1561.3 585.7 L1560.3 584.1 L1559.3 591.9 L1558.2 587.1 L1557.2 585 L1556.2 587.9 L1555.2 580.7 L1554.2 588.5 L1553.1 586.7 L1552.1 588.1 L1551.1 588.3 L1550.1 583 L1549.1 585.2 L1548 582.7 L1547 586.3 L1546 587.7 L1545 586.2 L1544 587.9 L1542.9 588.6 L1541.9 591.2 L1540.9 587 L1539.9 588.8 L1538.9 587.5 L1537.9 589.6 L1536.8 585.7 L1535.8 584.8 L1534.8 587.7 L1533.8 589.1 L1532.8 586.3 L1531.7 588.3 L1530.7 588 L1529.7 590.9 L1528.7 586.3 L1527.7 584.2 L1526.6 584.7 L1525.6 584.7 L1524.6 583.6 L1523.6 588 L1522.6 584.5 L1521.5 586.6 L1520.5 589 L1519.5 584.5 L1518.5 579 L1517.5 578 L1516.5 578 L1515.4 569.3 L1514.4 578.8 L1513.4 575.5 L1512.4 575.7 L1511.4 572.3 L1510.3 578.4 L1509.3 578.1 L1508.3 577 L1507.3 584.8 L1506.3 585.5 L1505.2 584.1 L1504.2 583.9 L1503.2 582.7 L1502.2 589.2 L1501.2 587 L1500.2 588Z" fill="#F2A66C" fill-opacity="0.7"/>
<path d="M1500.2 582.8 1501.2 581.7 1502.2 584.2 1503.2 576.9 1504.2 578.4 1505.2 578 1506.3 579.1 1507.3 573.8 1508.3 571.2 1509.3 572.2 1510.3 572.4 1511.4 565.8 1512.4 569.3 1513.4 568.5 1514.4 571.1 1515.4 562.9 1516.5 571.1 1517.5 571 1518.5 573.3 1519.5 578.4 1520.5 582.6 1521.5 580.4 1522.6 579.2 1523.6 582.2 1524.6 578.5 1525.6 579 1526.6 578.7 1527.7 577.7 1528.7 580.1 1529.7 585.1 1530.7 583 1531.7 582.7 1532.8 581.5 1533.8 583.5 1534.8 582.2 1535.8 579.5 1536.8 580.6 1537.9 583.9 1538.9 581.7 1539.9 583.7 1540.9 581.7 1541.9 585.4 1542.9 583 1544 583 1545 581 1546 582.6 1547 580.9 1548 577.7 1549.1 580.3 1550.1 578 1551.1 582.9 1552.1 583.2 1553.1 581.6 1554.2 582.5 1555.2 575.7 1556.2 582.2 1557.2 579.8 1558.2 581.8 1559.3 586.5 1560.3 579.2 1561.3 579.2 1562.3 580.8 1563.3 581.5 1564.3 577.2 1565.4 577.4 1566.4 582.6 1567.4 579.9 1568.4 581.5 1569.4 577.9 1570.5 577.6 1571.5 575.5 1572.5 579.3 1573.5 582.5 1574.5 581.3 1575.6 580.1 1576.6 580.8 1577.6 581.5 1578.6 580.1 1579.6 581.4 1580.7 584.9 1581.7 586.8 1582.7 581.3 1583.7 577.9 1584.7 583.6 1585.7 583.5 1586.8 584 1587.8 582.9 1588.8 580.6 1589.8 582.5 1590.8 583.4 1591.9 583.9 1592.9 579.1 1593.9 582 1594.9 580 1595.9 579.3 1597 580.6 1598 579.5 1599 584.9 1600 583 1601 581.6 1602.1 580.1 1603.1 580.6 1604.1 579.7 1605.1 581.1 1606.1 582.2 1607.1 582.6 1608.2 578 1609.2 578.5 1610.2 579.5 1611.2 577 1612.2 579.6 1613.3 579.4 1614.3 579.7 1615.3 580.6 1616.3 578.6 1617.3 582.8 1618.4 583.1 1619.4 579.6 1620.4 580.7 1621.4 581.6 1622.4 578.6 1623.4 578.4 1624.5 580.7 1625.5 574.1 1626.5 574.6 1627.5 578.5 1628.5 580.5 1629.6 577.7 1630.6 580.8 1631.6 584.9 1632.6 581.8 1633.6 580.1 1634.7 579.8 1635.7 577.2 1636.7 579.8 1637.7 579.9 1638.7 581.2 1639.8 583.2 1640.8 580.7 1641.8 580.1 1642.8 580.3 1643.8 583.5 1644.8 577.3 1645.9 578.5 1646.9 577.4 1647.9 578.8 1648.9 580.9 1649.9 579.8 1651 581 1652 580.2 1653 577.8 1654 577.1 1655 575.2 1656.1 578.2 1657.1 577.8 1658.1 580.6 1659.1 581.8 1660.1 578 1661.2 576.2 1662.2 579.4 1663.2 577.2 1664.2 578.9 1665.2 580.4 1666.2 578.6 1667.3 583 1668.3 578.6 1669.3 579.9 1670.3 578.4 1671.3 572.2 1672.4 576.2 1673.4 577.7 1674.4 579.9 1675.4 579 1676.4 577.4 1677.5 577.3 1678.5 577.7 1679.5 580.3 1680.5 578.9 1681.5 581.8 1682.6 582 1683.6 578.4 1684.6 581.2 1685.6 574.6 1686.6 577.5 1687.6 576.3 1688.7 577.8 1689.7 581.3 1690.7 579.8 1691.7 578.9 1692.7 581.9 1693.8 578.3 1694.8 576.9 1695.8 580.5 1696.8 581 1697.8 576.4 1698.9 578.5 1699.9 580.6 1700.9 579.2 1701.9 578.1 1702.9 578.9 1704 579.3 1705 577.3 1706 580.2 1707 575.5 1708 577.4 1709 583.2 1710.1 577.6 1711.1 578.1 1712.1 572.9 1713.1 574.5 1714.1 574.2 1715.2 577 1716.2 576.6 1717.2 582 1718.2 577.3 1719.2 577.7 1720.3 578.4 1721.3 579.6 1722.3 580.5 1723.3 574.8 1724.3 581.9 1725.3 578.1 1726.4 575.7 1727.4 572.4 1728.4 574.2 1729.4 571.4 1730.4 575.2 1731.5 574.5 1732.5 576.5 1733.5 574.3 1734.5 575.6 1735.5 581.6 1736.6 580.9 1737.6 577.9 1738.6 573.8 1739.6 578.7 1740.6 572 1741.7 570.2 1742.7 576.8 1743.7 574.3 1744.7 578.9 1745.7 578.7 1746.7 583 1747.8 583.6 1748.8 581.1 1749.8 577.5 1750.8 579.5 1751.8 582.3 1752.9 580.6 1753.9 572.3 1754.9 574.8 1755.9 575.3 1756.9 575.9 1758 575 1759 578.2 1760 572.5 1761 574.8 1762 568.4 1763.1 565.1 1764.1 566.8 1765.1 567.8 1766.1 567.3 1767.1 567.3 1768.1 571.2 1769.2 572.3 1770.2 570.9 1771.2 570.5 1772.2 567.2 1773.2 564.8 1774.3 562.2 1775.3 564.4 1776.3 562.5 1777.3 564.3 1778.3 568 1779.4 567.6 1780.4 569.6 1781.4 560.5 1782.4 550.9 1783.4 550.8 1784.5 563.4 1785.5 561.4 1786.5 554.4 1787.5 559.5 1788.5 551.8 1789.5 558.8 1790.6 549.5 1791.6 545.2 1792.6 548.8 1793.6 538.6 1794.6 539.6 1795.7 551.4 1796.7 545.1 1797.7 531.3 1798.7 530.5 1799.7 530.3 1800.8 523.6 1801.8 528.3 1802.8 535.3 1803.8 527.7 1804.8 530.7 1805.9 526 1806.9 522.1 1807.9 512.1 1808.9 522.2 1809.9 528.4 1810.9 513.6 1812 503.4 1813 511.5 1814 509.5 1815 517.9 1816 514.5 1817.1 506.7 1818.1 491.1 1819.1 504.7 1820.1 503.9 1821.1 489.3 1822.2 481.2 1823.2 474.2 1824.2 496.3 1825.2 492.6 1826.2 460.5 1827.2 474 1828.3 480.6 1829.3 487.8 1830.3 491.3 1831.3 487.8 1832.3 497.9 1833.4 504 1834.4 491.5 1835.4 507 1836.4 492.3 1837.4 477.9 1838.5 484 1839.5 468.2 1840.5 476.1 1841.5 470.3 1842.5 475.8 1843.6 485.2 1844.6 458.3 1845.6 481.8 1846.6 488.7 1847.6 485.8 1848.6 495.7 1849.7 495.1 1850.7 487.1 1851.7 476.9 1852.7 492.9 1853.7 498.7 1854.8 475.4 1855.8 475.6 1856.8 470.5 1857.8 491.5 1858.8 482.8 1859.9 472 1860.9 499.6 1861.9 497.2 1862.9 493.8 1863.9 492.7 1865 487.4 1866 487.9 1867 497.9 1868 496.2 1869 485.2 1870 487.7 1871.1 508.9 1872.1 488.3 1873.1 472.3 1874.1 483.1 1875.1 472.6 1876.2 512.6 1877.2 503.9 1878.2 500.8 1879.2 497.5 1880.2 514.7 1881.3 487.4 1882.3 489.1 1883.3 472.1 1884.3 498.7 1885.3 493.8 1886.4 512.6 1887.4 497.1 1888.4 483.7 1889.4 483.1 1890.4 499.4 1891.4 488 1892.5 495.9 1893.5 488.6 1894.5 486.5 1895.5 487.7 1896.5 511.4 1897.6 491.7 1898.6 499.8 1899.6 507.7 1900.6 494.6 1901.6 482.5 1902.7 509.2 1903.7 521.1 1904.7 505.1 1905.7 490 1906.7 506 1907.8 502.5 1908.8 493.5 1909.8 494.9 1910.8 475.5 1911.8 484.7 1912.8 484.1 1913.9 483 1914.9 501.8 1915.9 505.4 1916.9 520.9 1917.9 483.2 1919 490.2 1920 491 1921 512.8 1922 517.7 1923 510.6 1924.1 508.1 1925.1 499.2 1926.1 498.7 1927.1 499.4 1928.1 480 1929.1 515.7 1930.2 517.3 1931.2 530.8 1932.2 527.7 1933.2 519.8 1934.2 520.4 1935.3 497.2 1936.3 495.7 1937.3 512.8 1938.3 507.5 1939.3 494.5 1940.4 505 1941.4 497.2 1942.4 506.5 1943.4 524.1 1944.4 506 1945.5 506.1 1946.5 515.4 1947.5 513.6 1948.5 514.9 1949.5 506.3 1950.5 507.9 1951.6 490.4 1952.6 504 1953.6 521.9 1954.6 506.9 1955.6 510 1956.7 519.2 1957.7 526.9 1958.7 529.2 1959.7 512.1 1960.7 510.4 1961.8 528.9 1962.8 516.1 1963.8 518.3 1964.8 509.3 1965.8 507.9 1966.9 487.5 1967.9 501.5 1968.9 492.2 1969.9 499.3 1970.9 502.2 1971.9 523.3 1973 525.6 1974 523.3 1975 514.7 1976 504.1 1977 516.5 1978.1 509.7 1979.1 513.4 1980.1 523.8 1981.1 517.7 1982.1 517 1983.2 508.5 1984.2 523 1985.2 523.7 1986.2 525.5 1987.2 533.9 1988.3 509.1 1989.3 514.6 1990.3 521.8 1991.3 521.6 1992.3 521.4 1993.3 522.7 1994.4 506.1 1995.4 512.7 1996.4 525.7 1997.4 519.8 1998.4 516.6 1999.5 524.3 2000.5 504.9 2001.5 516.5 2002.5 530.1 2003.5 519.7 2004.6 511.3 2005.6 519.8 2006.6 514.5 2007.6 509.6 2008.6 516.2 2009.7 503" fill="none" stroke="#E8782A" stroke-width="5.2" stroke-linejoin="round" stroke-linecap="round" stroke-opacity="0.85"/>
<line x1="1755.4" y1="44.5" x2="1755.4" y2="610" stroke="#000" stroke-width="2.8" stroke-dasharray="10.5 10.45" stroke-dashoffset="5.2"/>
<line x1="1541.5" y1="407.3" x2="1553" y2="407.3" stroke="#1372B2" stroke-width="16.4" stroke-linecap="round"/>
<text x="1617.6" y="398.4" font-size="24.5" text-anchor="middle">sppRNA</text>
<text x="1617.6" y="427.5" font-size="24.5" text-anchor="middle">genes</text>
<line x1="1541.5" y1="476" x2="1553" y2="476" stroke="#E8782A" stroke-width="16.4" stroke-linecap="round"/>
<text x="1611.8" y="468.3" font-size="24.5" text-anchor="middle">Control</text>
<text x="1611.8" y="497.5" font-size="24.5" text-anchor="middle">genes</text>
<line x1="1563.5" y1="89.8" x2="1563.5" y2="299.5" stroke="#000" stroke-width="2.2" />
<line x1="1558.5" y1="90.6" x2="1563.5" y2="90.6" stroke="#000" stroke-width="2.2" />
<text x="1549.5" y="97.2" font-size="19.5" text-anchor="end">120</text>
<line x1="1558.5" y1="142.6" x2="1563.5" y2="142.6" stroke="#000" stroke-width="2.2" />
<text x="1549.5" y="149.2" font-size="19.5" text-anchor="end">90</text>
<line x1="1558.5" y1="194.6" x2="1563.5" y2="194.6" stroke="#000" stroke-width="2.2" />
<text x="1549.5" y="201.2" font-size="19.5" text-anchor="end">60</text>
<line x1="1558.5" y1="246.9" x2="1563.5" y2="246.9" stroke="#000" stroke-width="2.2" />
<text x="1549.5" y="253.5" font-size="19.5" text-anchor="end">30</text>
<line x1="1558.5" y1="298.8" x2="1563.5" y2="298.8" stroke="#000" stroke-width="2.2" />
<text x="1549.5" y="305.4" font-size="19.5" text-anchor="end">0</text>
<text transform="translate(1505.5,194.2) rotate(-90)" font-size="20.7" text-anchor="middle" >Promoter pNET-seq signal</text>
<path d="M1576 311.1V304.8H1739.8V311.1" fill="none" stroke="#000" stroke-width="2.2"/>
<path d="M1616.5 88.6V79.6H1705.5V88.6" fill="none" stroke="#000" stroke-width="2.2"/>
<text x="1607.3" y="66.7" font-size="24.2" font-style="italic">p</text><text x="1630.5" y="66.1" font-size="24.5">&lt;</text><text x="1652.2" y="66.7" font-size="24.2">0.001</text>
<path d="M1617.8 115.8C1617.9 118.2 1618.3 123.3 1618.5 130C1618.7 136.7 1618.5 149.1 1619.2 156C1619.9 162.9 1621.2 166.4 1622.5 171.7C1623.8 176.9 1625.5 182.2 1627.2 187.5C1628.9 192.8 1629.9 197.9 1632.7 203.2C1635.5 208.4 1640.9 213.8 1643.8 219C1646.7 224.2 1648.6 228.9 1650 234.7C1651.4 240.5 1652.9 248.3 1652.4 253.6C1651.9 258.9 1650.6 261.5 1647 266.2C1643.4 270.9 1635.2 277.5 1631 282C1626.8 286.5 1624.2 290.2 1622 293C1619.8 295.8 1618.7 297.6 1618 298.5L1616 298.5C1615.3 297.6 1614.2 295.8 1612 293C1609.8 290.2 1607.2 286.5 1603 282C1598.8 277.5 1590.6 270.9 1587 266.2C1583.4 261.5 1582.1 258.9 1581.6 253.6C1581.1 248.3 1582.6 240.5 1584 234.7C1585.4 228.9 1587.3 224.2 1590.2 219C1593.1 213.8 1598.5 208.4 1601.3 203.2C1604.1 197.9 1605.1 192.8 1606.8 187.5C1608.5 182.2 1610.2 176.9 1611.5 171.7C1612.8 166.4 1614.1 162.9 1614.8 156C1615.5 149.1 1615.3 136.7 1615.5 130C1615.7 123.3 1616.1 118.2 1616.2 115.8Z" fill="#0D72B5" stroke="#000" stroke-width="2.2"/>
<path d="M1706.6 96.9C1706.7 105.8 1706.8 134.9 1707 150C1707.2 165.1 1706.9 178.6 1707.8 187.5C1708.7 196.4 1711.1 199.3 1712.3 203.2C1713.5 207.1 1713 207.1 1714.7 211C1716.4 214.9 1719.6 221.6 1722.5 226.9C1725.4 232.2 1729.2 237.4 1732 242.6C1734.8 247.8 1736.8 253.1 1739 258.3C1741.2 263.6 1744.2 269.6 1745.4 274.1C1746.6 278.6 1747.4 281.7 1746.2 285.1C1745 288.5 1740.8 292.4 1738.3 294.6C1735.8 296.8 1732.4 297.9 1731.2 298.5L1680.8 298.5C1679.6 297.9 1676.2 296.8 1673.7 294.6C1671.2 292.4 1667 288.5 1665.8 285.1C1664.6 281.7 1665.4 278.6 1666.6 274.1C1667.8 269.6 1670.8 263.6 1673 258.3C1675.2 253.1 1677.2 247.8 1680 242.6C1682.8 237.4 1686.6 232.2 1689.5 226.9C1692.4 221.6 1695.6 214.9 1697.3 211C1699 207.1 1698.5 207.1 1699.7 203.2C1700.9 199.3 1703.3 196.4 1704.2 187.5C1705.1 178.6 1704.8 165.1 1705 150C1705.2 134.9 1705.3 105.8 1705.4 96.9Z" fill="#E97724" stroke="#000" stroke-width="2.2"/>
<line x1="1617" y1="115.8" x2="1617" y2="298.8" stroke="#000" stroke-width="2" />
<line x1="1706" y1="96.9" x2="1706" y2="298.5" stroke="#000" stroke-width="2" />
<rect x="1607.9" y="216.6" width="18.2" height="42.1" fill="#7393CF" stroke="#000" stroke-width="2"/>
<line x1="1607.9" y1="239.9" x2="1626.1" y2="239.9" stroke="#000" stroke-width="2" />
<rect x="1697" y="244.5" width="18.1" height="38.7" fill="#EDA174" stroke="#000" stroke-width="2"/>
<line x1="1697" y1="265.7" x2="1715.1" y2="265.7" stroke="#000" stroke-width="2" />
<text x="1082" y="770.2" font-size="43" font-weight="bold">e</text>
<line x1="1320.5" y1="842.4" x2="1320.5" y2="1380.5" stroke="#000" stroke-width="3.0" />
<line x1="1320.5" y1="1380.5" x2="1871.6" y2="1380.5" stroke="#000" stroke-width="3.0" />
<line x1="1307.6" y1="913.9" x2="1320.5" y2="913.9" stroke="#000" stroke-width="2.3" />
<text x="1295" y="922.7" font-size="29.3" text-anchor="end">0.000004</text>
<line x1="1307.6" y1="1028.8" x2="1320.5" y2="1028.8" stroke="#000" stroke-width="2.3" />
<text x="1295" y="1037.6" font-size="29.3" text-anchor="end">0.000003</text>
<line x1="1307.6" y1="1143.5" x2="1320.5" y2="1143.5" stroke="#000" stroke-width="2.3" />
<text x="1295" y="1152.3" font-size="29.3" text-anchor="end">0.000002</text>
<line x1="1307.6" y1="1258.2" x2="1320.5" y2="1258.2" stroke="#000" stroke-width="2.3" />
<text x="1295" y="1267" font-size="29.3" text-anchor="end">0.000001</text>
<line x1="1307.6" y1="1372.8" x2="1320.5" y2="1372.8" stroke="#000" stroke-width="2.3" />
<text x="1295" y="1381.6" font-size="29.3" text-anchor="end">0.000000</text>
<line x1="1470" y1="1380.5" x2="1470" y2="1393" stroke="#000" stroke-width="2.3" />
<line x1="1721.4" y1="1380.5" x2="1721.4" y2="1393" stroke="#000" stroke-width="2.3" />
<text x="1471" y="1427.8" font-size="29.3" text-anchor="middle">Control</text>
<text x="1471" y="1461.8" font-size="29.3" text-anchor="middle">genes</text>
<text x="1722" y="1427.8" font-size="29.3" text-anchor="middle">sppRNA</text>
<text x="1722" y="1461.8" font-size="29.3" text-anchor="middle">genes</text>
<text transform="translate(1109.2,1110.7) rotate(-90)" font-size="29.3" text-anchor="middle" >Average GAGAR motif density</text>
<text transform="translate(1144,1111.5) rotate(-90)" font-size="29.3" text-anchor="middle" >downstream of TSS</text>
<text x="1524.8" y="852.9" font-size="24.6" font-style="italic">p</text><text x="1548.4" y="852.3" font-size="24">&lt;</text><text x="1569.8" y="852.9" font-size="24.6">2.22e−16</text>
<path d="M1470 881.2V866H1721.4V881.2" fill="none" stroke="#000" stroke-width="2.2"/>
<path d="M1476.9 1042C1477.7 1044 1480.2 1049 1481.9 1053.8C1483.6 1058.6 1487.3 1065.1 1487.3 1070.7C1487.3 1076.3 1484.2 1082.5 1481.9 1087.6C1479.6 1092.6 1475.2 1096.8 1473.5 1101C1471.8 1105.2 1472.2 1106.8 1471.9 1113C1471.6 1119.2 1471.6 1132.4 1471.9 1138.3C1472.2 1144.2 1471.5 1145 1473.7 1148.4C1475.9 1151.8 1478.9 1155.1 1485.1 1158.5C1491.2 1161.9 1502.7 1165.3 1510.6 1168.7C1518.5 1172.1 1526.4 1175.4 1532.6 1178.8C1538.8 1182.2 1542.7 1185.6 1547.8 1189C1552.9 1192.4 1558.9 1195.6 1563.1 1199C1567.3 1202.4 1570.4 1205.8 1573.1 1209.2C1575.8 1212.6 1577.5 1216.3 1579.1 1219.4C1580.7 1222.5 1583.5 1225 1582.5 1227.8C1581.5 1230.6 1577.5 1233.5 1573.1 1236.3C1568.7 1239.1 1560 1241.9 1556.1 1244.7C1552.2 1247.5 1552 1250.3 1549.5 1253.1C1547 1255.9 1545.9 1258.2 1541.1 1261.6C1536.3 1265 1527.3 1269.7 1520.8 1273.4C1514.3 1277.1 1507.7 1280.2 1502.1 1283.6C1496.5 1287 1491.6 1290.3 1487.1 1293.7C1482.6 1297.1 1477.6 1300.4 1475.1 1303.8C1472.6 1307.2 1472.8 1309.6 1472.3 1314C1471.8 1318.4 1472.4 1322.7 1472.3 1330C1472.2 1337.3 1471.7 1353.3 1471.6 1358L1468.6 1358C1468.5 1353.3 1468 1337.3 1467.9 1330C1467.8 1322.7 1468.4 1318.4 1467.9 1314C1467.4 1309.6 1467.6 1307.2 1465.1 1303.8C1462.6 1300.4 1457.6 1297.1 1453.1 1293.7C1448.6 1290.3 1443.7 1287 1438.1 1283.6C1432.5 1280.2 1425.9 1277.1 1419.4 1273.4C1412.9 1269.7 1403.9 1265 1399.1 1261.6C1394.3 1258.2 1393.2 1255.9 1390.7 1253.1C1388.2 1250.3 1388 1247.5 1384.1 1244.7C1380.2 1241.9 1371.5 1239.1 1367.1 1236.3C1362.7 1233.5 1358.7 1230.6 1357.7 1227.8C1356.7 1225 1359.5 1222.5 1361.1 1219.4C1362.7 1216.3 1364.4 1212.6 1367.1 1209.2C1369.8 1205.8 1372.9 1202.4 1377.1 1199C1381.3 1195.6 1387.3 1192.4 1392.4 1189C1397.5 1185.6 1401.4 1182.2 1407.6 1178.8C1413.8 1175.4 1421.7 1172.1 1429.6 1168.7C1437.5 1165.3 1448.9 1161.9 1455.1 1158.5C1461.2 1155.1 1464.3 1151.8 1466.5 1148.4C1468.7 1145 1468 1144.2 1468.3 1138.3C1468.6 1132.4 1468.6 1119.2 1468.3 1113C1468 1106.8 1468.4 1105.2 1466.7 1101C1465 1096.8 1460.6 1092.6 1458.3 1087.6C1456 1082.5 1452.9 1076.3 1452.9 1070.7C1452.9 1065.1 1456.6 1058.6 1458.3 1053.8C1460 1049 1462.5 1044 1463.3 1042Z" fill="#E97724" stroke="#000" stroke-width="2.5" stroke-linejoin="round"/>
<line x1="1470.1" y1="1042" x2="1470.1" y2="1358" stroke="#000" stroke-width="2.2" />
<line x1="1470.1" y1="1324" x2="1470.1" y2="1356" stroke="#333" stroke-width="3.6" stroke-linecap="round"/>
<rect x="1464.2" y="1194.9" width="13.5" height="55.2" fill="#EDA070" stroke="#000" stroke-width="2.2"/>
<line x1="1464.2" y1="1223.2" x2="1477.7" y2="1223.2" stroke="#000" stroke-width="2.2" />
<path d="M1724.2 887.7C1724.4 889.8 1725 895.1 1725.2 900C1725.4 904.9 1725.4 908.9 1725.2 917.3C1725 925.7 1724.1 941.7 1724.2 950.4C1724.3 959.1 1724.5 962.2 1725.9 969.3C1727.3 976.4 1729.5 985.9 1732.6 993C1735.7 1000.1 1740.1 1005.6 1744.4 1011.9C1748.7 1018.2 1754.3 1024.5 1758.6 1030.8C1762.9 1037.1 1765.7 1043.4 1770.4 1049.7C1775.1 1056 1782.2 1061.5 1786.9 1068.6C1791.6 1075.7 1797.8 1084.4 1798.8 1092.3C1799.8 1100.2 1795.8 1108.1 1792.8 1116C1789.8 1123.9 1783.9 1131.7 1781 1139.6C1778.1 1147.5 1779.7 1156.1 1775.2 1163.2C1770.7 1170.3 1761.3 1175.8 1753.8 1182.1C1746.3 1188.4 1735.2 1195.9 1730.2 1201C1725.2 1206.1 1724.8 1203.1 1723.7 1212.9C1722.6 1222.7 1723.6 1238.2 1723.4 1260C1723.2 1281.8 1722.9 1330 1722.8 1344L1719.6 1344C1719.5 1330 1719.2 1281.8 1719 1260C1718.8 1238.2 1719.8 1222.7 1718.7 1212.9C1717.6 1203.1 1717.2 1206.1 1712.2 1201C1707.2 1195.9 1696.1 1188.4 1688.6 1182.1C1681.1 1175.8 1671.7 1170.3 1667.2 1163.2C1662.7 1156.1 1664.3 1147.5 1661.4 1139.6C1658.5 1131.7 1652.6 1123.9 1649.6 1116C1646.6 1108.1 1642.6 1100.2 1643.6 1092.3C1644.6 1084.4 1650.8 1075.7 1655.5 1068.6C1660.2 1061.5 1667.3 1056 1672 1049.7C1676.7 1043.4 1679.5 1037.1 1683.8 1030.8C1688.1 1024.5 1693.7 1018.2 1698 1011.9C1702.3 1005.6 1706.7 1000.1 1709.8 993C1712.9 985.9 1715.1 976.4 1716.5 969.3C1717.9 962.2 1718.1 959.1 1718.2 950.4C1718.3 941.7 1717.4 925.7 1717.2 917.3C1717 908.9 1717 904.9 1717.2 900C1717.4 895.1 1718 889.8 1718.2 887.7Z" fill="#0D72B5" stroke="#000" stroke-width="2.5" stroke-linejoin="round"/>
<line x1="1721.2" y1="887.7" x2="1721.2" y2="1344" stroke="#000" stroke-width="2.2" />
<line x1="1721.2" y1="890" x2="1721.2" y2="950" stroke="#333" stroke-width="3.4" stroke-linecap="round"/>
<line x1="1721.2" y1="1255" x2="1721.2" y2="1342" stroke="#333" stroke-width="3.4" stroke-linecap="round"/>
<rect x="1714.6" y="1063.4" width="13.7" height="78.1" fill="#7090CC" stroke="#000" stroke-width="2.2"/>
<line x1="1714.6" y1="1099.8" x2="1728.3" y2="1099.8" stroke="#000" stroke-width="2.2" />
<text x="1083" y="1617.5" font-size="43" font-weight="bold">g</text>
<line x1="1320.5" y1="1714.6" x2="1320.5" y2="2252.3" stroke="#000" stroke-width="3.0" />
<line x1="1320.5" y1="2252.3" x2="1871.6" y2="2252.3" stroke="#000" stroke-width="3.0" />
<line x1="1307.6" y1="1762.8" x2="1320.5" y2="1762.8" stroke="#000" stroke-width="2.3" />
<text x="1295" y="1771.6" font-size="29.3" text-anchor="end">0.000006</text>
<line x1="1307.6" y1="1923.5" x2="1320.5" y2="1923.5" stroke="#000" stroke-width="2.3" />
<text x="1295" y="1932.3" font-size="29.3" text-anchor="end">0.000004</text>
<line x1="1307.6" y1="2083.6" x2="1320.5" y2="2083.6" stroke="#000" stroke-width="2.3" />
<text x="1295" y="2092.4" font-size="29.3" text-anchor="end">0.000002</text>
<line x1="1307.6" y1="2244.2" x2="1320.5" y2="2244.2" stroke="#000" stroke-width="2.3" />
<text x="1295" y="2253" font-size="29.3" text-anchor="end">0.000000</text>
<line x1="1470" y1="2252.3" x2="1470" y2="2264.8" stroke="#000" stroke-width="2.3" />
<line x1="1721.4" y1="2252.3" x2="1721.4" y2="2264.8" stroke="#000" stroke-width="2.3" />
<text x="1471" y="2299.6" font-size="29.3" text-anchor="middle">Control</text>
<text x="1471" y="2333.6" font-size="29.3" text-anchor="middle">genes</text>
<text x="1722" y="2299.6" font-size="29.3" text-anchor="middle">sppRNA</text>
<text x="1722" y="2333.6" font-size="29.3" text-anchor="middle">genes</text>
<text transform="translate(1109.2,1982.8) rotate(-90)" font-size="29.3" text-anchor="middle" >Average RGCCCAW motif density</text>
<text transform="translate(1144,1982.8) rotate(-90)" font-size="29.3" text-anchor="middle" >upstream of TSS</text>
<text x="1524.8" y="1725.6" font-size="24.6" font-style="italic">p</text><text x="1548.4" y="1725" font-size="24">&lt;</text><text x="1569.8" y="1725.6" font-size="24.6">2.22e−16</text>
<path d="M1470 1752.4V1738.3H1721.4V1752.4" fill="none" stroke="#000" stroke-width="2.2"/>
<path d="M1473.5 1849.3C1473.6 1852.8 1474.1 1863.7 1474 1870C1473.9 1876.3 1473.1 1880.3 1473 1887C1472.9 1893.7 1472.8 1902.5 1473.5 1910C1474.2 1917.5 1475.9 1926.2 1477 1932C1478.1 1937.8 1479.5 1940.7 1480 1945C1480.5 1949.3 1480.7 1953.5 1480 1958C1479.3 1962.5 1477.1 1967.3 1476 1972C1474.9 1976.7 1472 1980.8 1473.5 1986.3C1475 1991.8 1482.1 1998.1 1485 2005.2C1487.9 2012.3 1488.8 2020.9 1490.8 2028.8C1492.8 2036.7 1493.2 2044.5 1497 2052.4C1500.8 2060.3 1503.7 2069.7 1513.5 2076C1523.3 2082.3 1545 2085.5 1556 2090.2C1567 2094.9 1575 2100.8 1579.6 2104.4C1584.2 2108 1584.6 2107.6 1583.4 2111.5C1582.2 2115.4 1578.7 2121.3 1572.5 2128C1566.3 2134.7 1552.8 2143.7 1546.5 2151.6C1540.2 2159.5 1540.2 2168.2 1534.7 2175.3C1529.2 2182.4 1521.8 2187.9 1513.5 2194.2C1505.2 2200.5 1490.9 2207.5 1485 2213C1479.1 2218.5 1479.2 2224.8 1478 2227.2L1462 2227.2C1460.8 2224.8 1460.9 2218.5 1455 2213C1449.1 2207.5 1434.8 2200.5 1426.5 2194.2C1418.2 2187.9 1410.8 2182.4 1405.3 2175.3C1399.8 2168.2 1399.8 2159.5 1393.5 2151.6C1387.2 2143.7 1373.7 2134.7 1367.5 2128C1361.3 2121.3 1357.8 2115.4 1356.6 2111.5C1355.4 2107.6 1355.8 2108 1360.4 2104.4C1365 2100.8 1373 2094.9 1384 2090.2C1395 2085.5 1416.7 2082.3 1426.5 2076C1436.3 2069.7 1439.2 2060.3 1443 2052.4C1446.8 2044.5 1447.2 2036.7 1449.2 2028.8C1451.2 2020.9 1452.1 2012.3 1455 2005.2C1457.9 1998.1 1465 1991.8 1466.5 1986.3C1468 1980.8 1465.1 1976.7 1464 1972C1462.9 1967.3 1460.7 1962.5 1460 1958C1459.3 1953.5 1459.5 1949.3 1460 1945C1460.5 1940.7 1461.9 1937.8 1463 1932C1464.1 1926.2 1465.8 1917.5 1466.5 1910C1467.2 1902.5 1467.1 1893.7 1467 1887C1466.9 1880.3 1466.1 1876.3 1466 1870C1465.9 1863.7 1466.4 1852.8 1466.5 1849.3Z" fill="#E97724" stroke="#000" stroke-width="2.5" stroke-linejoin="round"/>
<line x1="1470" y1="1849.3" x2="1470" y2="2227.2" stroke="#000" stroke-width="2.2" />
<line x1="1470" y1="1851" x2="1470" y2="1930" stroke="#333" stroke-width="3.4" stroke-linecap="round"/>
<rect x="1464" y="2096.4" width="13.2" height="62.3" fill="#EDA070" stroke="#000" stroke-width="2.2"/>
<line x1="1464" y1="2121.9" x2="1477.2" y2="2121.9" stroke="#000" stroke-width="2.2" />
<path d="M1725.4 1760.5C1725.4 1766.6 1724.1 1788 1725.4 1797.3C1726.7 1806.6 1730.3 1809.1 1733.2 1816.2C1736.1 1823.3 1740 1831.9 1742.7 1839.8C1745.5 1847.7 1747.8 1855.6 1749.7 1863.5C1751.7 1871.4 1748.9 1879.1 1754.4 1887C1759.9 1894.9 1776.1 1902 1782.8 1910.7C1789.5 1919.4 1791.5 1930.3 1794.6 1939C1797.8 1947.7 1798.9 1954.8 1801.7 1962.7C1804.5 1970.6 1812 1978.4 1811.2 1986.3C1810.4 1994.2 1804.1 2002.1 1797 2010C1789.9 2017.9 1779.6 2025.6 1768.6 2033.5C1757.6 2041.4 1738.2 2050.1 1730.8 2057.2C1723.4 2064.3 1725.6 2062.2 1724.4 2076C1723.2 2089.8 1724.1 2116.8 1723.9 2140C1723.7 2163.2 1723.5 2202.8 1723.4 2215.4L1719.4 2215.4C1719.3 2202.8 1719.1 2163.2 1718.9 2140C1718.7 2116.8 1719.6 2089.8 1718.4 2076C1717.2 2062.2 1719.4 2064.3 1712 2057.2C1704.6 2050.1 1685.2 2041.4 1674.2 2033.5C1663.2 2025.6 1652.9 2017.9 1645.8 2010C1638.7 2002.1 1632.4 1994.2 1631.6 1986.3C1630.8 1978.4 1638.3 1970.6 1641.1 1962.7C1643.9 1954.8 1645.1 1947.7 1648.2 1939C1651.3 1930.3 1653.3 1919.4 1660 1910.7C1666.7 1902 1682.9 1894.9 1688.4 1887C1693.9 1879.1 1691.2 1871.4 1693.1 1863.5C1695.1 1855.6 1697.4 1847.7 1700.1 1839.8C1702.9 1831.9 1706.7 1823.3 1709.6 1816.2C1712.5 1809.1 1716.1 1806.6 1717.4 1797.3C1718.7 1788 1717.4 1766.6 1717.4 1760.5Z" fill="#0D72B5" stroke="#000" stroke-width="2.5" stroke-linejoin="round"/>
<line x1="1721.4" y1="1760.5" x2="1721.4" y2="2215.4" stroke="#000" stroke-width="2.2" />
<line x1="1721.4" y1="1762" x2="1721.4" y2="1800" stroke="#333" stroke-width="3.4" stroke-linecap="round"/>
<line x1="1721.4" y1="2070" x2="1721.4" y2="2214" stroke="#333" stroke-width="3.2" stroke-linecap="round"/>
<rect x="1714.3" y="1932" width="13.3" height="68.5" fill="#7090CC" stroke="#000" stroke-width="2.2"/>
<line x1="1714.3" y1="1966" x2="1727.6" y2="1966" stroke="#000" stroke-width="2.2" />
<defs><filter id="hd1" filterUnits="userSpaceOnUse" x="262.4" y="797.9" width="633.7" height="330.1" color-interpolation-filters="sRGB"><feGaussianBlur in="SourceAlpha" stdDeviation="1.8 3.8"/><feColorMatrix type="matrix" values="0 0 0 1.2 0 0 0 0 1.2 0 0 0 0 1.2 0 0 0 0 0 1"/><feComponentTransfer><feFuncR type="table" tableValues="1.000 0.993 0.988 0.984 0.980 0.977 0.974 0.969 0.964 0.958 0.953 0.947 0.940 0.931 0.923 0.914 0.905 0.895 0.884 0.873 0.862 0.850 0.838 0.825 0.812 0.799 0.786 0.771 0.756 0.741 0.726 0.710 0.693 0.677 0.660 0.643 0.625 0.606 0.587 0.568 0.549"/><feFuncG type="table" tableValues="1.000 0.917 0.870 0.838 0.813 0.793 0.776 0.759 0.741 0.723 0.706 0.689 0.670 0.650 0.629 0.609 0.589 0.567 0.545 0.522 0.500 0.477 0.455 0.432 0.409 0.386 0.363 0.340 0.316 0.293 0.270 0.247 0.227 0.206 0.186 0.166 0.148 0.133 0.117 0.102 0.086"/><feFuncB type="table" tableValues="1.000 0.844 0.774 0.728 0.698 0.673 0.652 0.634 0.618 0.602 0.586 0.571 0.554 0.537 0.520 0.503 0.485 0.467 0.448 0.429 0.410 0.390 0.371 0.351 0.332 0.312 0.292 0.274 0.255 0.237 0.219 0.201 0.188 0.174 0.161 0.147 0.136 0.126 0.117 0.108 0.098"/></feComponentTransfer></filter><filter id="hd2" filterUnits="userSpaceOnUse" x="262.4" y="1134.8" width="633.7" height="364.2" color-interpolation-filters="sRGB"><feGaussianBlur in="SourceAlpha" stdDeviation="1.8 3.8"/><feColorMatrix type="matrix" values="0 0 0 1.3 0 0 0 0 1.3 0 0 0 0 1.3 0 0 0 0 0 1"/><feComponentTransfer><feFuncR type="table" tableValues="1.000 0.993 0.988 0.984 0.980 0.977 0.974 0.969 0.964 0.958 0.953 0.947 0.940 0.931 0.923 0.914 0.905 0.895 0.884 0.873 0.862 0.850 0.838 0.825 0.812 0.799 0.786 0.771 0.756 0.741 0.726 0.710 0.693 0.677 0.660 0.643 0.625 0.606 0.587 0.568 0.549"/><feFuncG type="table" tableValues="1.000 0.917 0.870 0.838 0.813 0.793 0.776 0.759 0.741 0.723 0.706 0.689 0.670 0.650 0.629 0.609 0.589 0.567 0.545 0.522 0.500 0.477 0.455 0.432 0.409 0.386 0.363 0.340 0.316 0.293 0.270 0.247 0.227 0.206 0.186 0.166 0.148 0.133 0.117 0.102 0.086"/><feFuncB type="table" tableValues="1.000 0.844 0.774 0.728 0.698 0.673 0.652 0.634 0.618 0.602 0.586 0.571 0.554 0.537 0.520 0.503 0.485 0.467 0.448 0.429 0.410 0.390 0.371 0.351 0.332 0.312 0.292 0.274 0.255 0.237 0.219 0.201 0.188 0.174 0.161 0.147 0.136 0.126 0.117 0.108 0.098"/></feComponentTransfer></filter></defs>
<g filter="url(#hd1)"><path d="M822 797h3v9h-3zM843 810h3v8h-3zM330 815h3v7h-3zM855 815h3v8h-3zM794 820h4v7h-4zM389 826h3v8h-3zM619 829h3v9h-3zM303 832h2v7h-2zM322 833h4v9h-4zM443 835h3v9h-3zM768 831h3v7h-3zM387 839h3v8h-3zM482 838h3v7h-3zM489 839h4v7h-4zM290 846h3v9h-3zM373 845h3v7h-3zM431 850h2v8h-2zM371 856h3v7h-3zM427 854h2v9h-2zM852 863h3v8h-3zM418 871h2v6h-2zM586 869h3v9h-3zM395 877h3v8h-3zM404 878h3v9h-3zM820 879h3v9h-3zM264 887h3v8h-3zM298 889h3v8h-3zM447 884h2v9h-2zM343 905h3v8h-3zM356 907h3v8h-3zM266 913h3v10h-3zM768 912h3v7h-3zM881 912h3v7h-3zM262 918h3v8h-3zM312 918h3v9h-3zM380 923h3v8h-3zM419 921h3v9h-3zM554 932h3v8h-3zM303 942h2v7h-2zM326 949h3v8h-3zM596 956h3v8h-3zM893 963h3v8h-3zM403 972h3v9h-3zM411 969h3v9h-3zM740 969h3v7h-3zM459 974h3v8h-3zM296 983h3v8h-3zM423 981h3v8h-3zM620 984h3v10h-3zM444 992h4v9h-4zM446 997h3v7h-3zM505 993h3v7h-3zM435 1001h3v7h-3zM276 1007h3v8h-3zM524 1010h3v7h-3zM336 1010h3v9h-3zM789 1010h3v9h-3zM361 1019h3v9h-3zM873 1022h3v8h-3zM350 1026h3v8h-3zM851 1033h3v10h-3zM425 1034h3v8h-3zM481 1035h3v9h-3zM487 1050h3v9h-3zM758 1053h3v9h-3zM444 1065h3v9h-3zM849 1065h2v7h-2zM395 1085h3v6h-3zM449 1084h4v9h-4zM475 1083h3v9h-3zM394 1088h3v9h-3zM475 1096h4v7h-4zM295 1104h3v9h-3zM332 1106h2v8h-2zM509 1105h3v9h-3zM484 1110h4v6h-4zM408 1123h3v9h-3z" fill-opacity="0.45"/><path d="M288 799h3v9h-3zM343 794h3v9h-3zM364 795h3v9h-3zM390 800h4v7h-4zM579 799h3v9h-3zM605 799h3v9h-3zM299 804h3v8h-3zM495 802h2v9h-2zM602 803h3v9h-3zM824 803h3v8h-3zM285 809h3v8h-3zM399 809h3v9h-3zM479 805h3v10h-3zM498 810h3v8h-3zM708 810h3v8h-3zM833 812h3v8h-3zM269 814h3v7h-3zM306 815h3v7h-3zM309 812h3v9h-3zM333 814h3v6h-3zM388 815h2v8h-2zM624 817h3v8h-3zM653 813h3v7h-3zM793 813h3v8h-3zM290 824h3v7h-3zM346 822h3v10h-3zM439 824h3v7h-3zM526 822h3v9h-3zM574 824h3v7h-3zM620 822h3v8h-3zM706 820h3v7h-3zM344 824h3v9h-3zM480 827h3v6h-3zM293 834h3v7h-3zM309 833h3v8h-3zM565 831h3v7h-3zM612 830h2v9h-2zM708 834h3v8h-3zM730 834h3v7h-3zM813 832h3v8h-3zM829 836h3v7h-3zM878 832h3v9h-3zM276 838h3v9h-3zM323 839h3v7h-3zM330 839h3v8h-3zM621 838h3v10h-3zM552 845h3v9h-3zM754 843h3v7h-3zM807 844h3v7h-3zM880 844h3v9h-3zM284 848h4v8h-4zM377 852h2v9h-2zM511 850h3v7h-3zM553 849h4v9h-4zM624 851h3v7h-3zM309 856h3v9h-3zM345 857h2v7h-2zM469 859h3v6h-3zM579 857h4v8h-4zM589 859h4v7h-4zM608 859h4v7h-4zM676 859h3v7h-3zM841 854h3v9h-3zM863 855h3v9h-3zM888 858h3v7h-3zM889 858h3v8h-3zM348 862h3v8h-3zM442 866h3v7h-3zM457 860h3v8h-3zM519 861h3v8h-3zM590 863h3v7h-3zM888 865h3v9h-3zM893 863h3v7h-3zM282 871h3v7h-3zM617 871h3v8h-3zM873 871h3v9h-3zM387 878h2v8h-2zM470 877h3v7h-3zM475 875h3v8h-3zM473 878h3v7h-3zM500 877h3v9h-3zM501 873h3v7h-3zM803 876h2v7h-2zM819 877h3v6h-3zM855 873h3v8h-3zM874 877h3v6h-3zM888 877h3v9h-3zM887 876h3v9h-3zM391 879h4v8h-4zM432 884h3v7h-3zM472 881h3v8h-3zM487 880h3v7h-3zM840 883h3v9h-3zM843 880h3v7h-3zM888 878h3v9h-3zM264 887h3v8h-3zM272 889h3v7h-3zM420 887h4v9h-4zM506 889h3v7h-3zM304 890h3v8h-3zM371 894h3v7h-3zM435 891h3v7h-3zM588 893h3v7h-3zM328 900h3v9h-3zM448 898h3v7h-3zM474 899h3v7h-3zM493 899h3v9h-3zM534 900h3v7h-3zM538 897h3v9h-3zM583 901h3v8h-3zM610 899h3v9h-3zM643 900h3v9h-3zM319 904h3v9h-3zM360 902h3v10h-3zM406 907h3v9h-3zM501 903h3v9h-3zM505 908h3v8h-3zM580 905h3v7h-3zM782 908h3v8h-3zM854 904h3v8h-3zM887 906h3v9h-3zM279 914h3v7h-3zM313 909h3v8h-3zM616 911h3v7h-3zM772 911h2v9h-2zM793 909h3v7h-3zM896 912h2v8h-2zM277 917h3v8h-3zM348 920h4v7h-4zM403 917h3v7h-3zM405 920h3v7h-3zM424 918h3v8h-3zM801 915h3v8h-3zM339 924h3v8h-3zM372 923h3v8h-3zM375 924h4v8h-4zM416 920h3v9h-3zM418 925h3v9h-3zM475 923h3v8h-3zM625 923h2v8h-2zM838 922h3v9h-3zM843 920h3v9h-3zM880 926h3v7h-3zM272 926h3v9h-3zM277 927h3v8h-3zM303 931h3v8h-3zM349 929h3v7h-3zM361 927h3v7h-3zM404 931h3v7h-3zM462 928h3v7h-3zM556 929h3v7h-3zM579 930h3v8h-3zM612 931h3v7h-3zM642 928h4v10h-4zM711 927h3v8h-3zM849 928h3v9h-3zM272 938h3v7h-3zM316 935h4v9h-4zM325 934h3v9h-3zM379 937h3v8h-3zM387 937h3v8h-3zM409 933h2v9h-2zM434 934h3v9h-3zM799 937h3v8h-3zM828 935h3v7h-3zM450 943h3v9h-3zM550 940h4v9h-4zM586 941h3v10h-3zM824 940h3v7h-3zM829 942h3v7h-3zM878 943h4v8h-4zM397 946h3v8h-3zM397 949h3v7h-3zM438 950h3v7h-3zM460 945h3v7h-3zM611 948h2v9h-2zM620 945h3v8h-3zM637 947h3v9h-3zM748 947h3v7h-3zM800 945h3v8h-3zM834 946h4v7h-4zM877 949h3v8h-3zM883 950h3v7h-3zM304 952h3v8h-3zM347 951h3v8h-3zM356 952h3v9h-3zM438 956h3v8h-3zM476 952h3v9h-3zM808 951h3v9h-3zM310 957h3v9h-3zM419 959h2v8h-2zM430 960h3v7h-3zM773 961h3v8h-3zM815 959h3v7h-3zM853 957h3v8h-3zM882 960h3v9h-3zM266 967h3v7h-3zM274 965h3v7h-3zM364 964h3v8h-3zM589 968h3v7h-3zM594 966h3v8h-3zM637 962h3v8h-3zM729 962h3v9h-3zM844 966h3v7h-3zM863 967h3v9h-3zM338 972h3v9h-3zM363 971h3v9h-3zM480 971h3v8h-3zM504 971h3v8h-3zM551 970h4v8h-4zM549 967h3v10h-3zM317 974h3v8h-3zM397 979h3v9h-3zM515 978h4v7h-4zM517 974h3v9h-3zM586 977h3v8h-3zM620 975h3v9h-3zM849 974h3v10h-3zM520 985h3v9h-3zM595 981h3v9h-3zM854 983h3v9h-3zM289 986h4v9h-4zM450 992h3v7h-3zM501 990h3v9h-3zM507 988h3v10h-3zM832 991h3v8h-3zM854 991h3v9h-3zM356 997h3v7h-3zM439 995h3v9h-3zM542 993h3v10h-3zM869 997h3v7h-3zM877 994h4v8h-4zM359 999h3v7h-3zM625 998h3v9h-3zM364 1006h3v7h-3zM431 1006h3v8h-3zM532 1004h3v10h-3zM569 1005h3v8h-3zM751 1008h3v8h-3zM790 1005h3v9h-3zM846 1007h3v6h-3zM890 1007h3v7h-3zM274 1014h3v9h-3zM280 1015h3v7h-3zM405 1014h3v9h-3zM441 1010h3v9h-3zM494 1010h3v8h-3zM540 1015h3v8h-3zM541 1015h3v8h-3zM543 1012h3v8h-3zM573 1013h4v8h-4zM627 1013h3v7h-3zM681 1014h3v8h-3zM788 1011h3v8h-3zM813 1011h3v7h-3zM832 1014h4v7h-4zM866 1014h3v7h-3zM862 1011h3v7h-3zM868 1012h3v8h-3zM290 1020h3v9h-3zM305 1019h3v8h-3zM338 1019h3v9h-3zM463 1017h3v8h-3zM532 1022h3v8h-3zM577 1021h4v8h-4zM590 1016h3v9h-3zM596 1019h3v7h-3zM610 1020h3v8h-3zM622 1017h3v7h-3zM852 1018h3v8h-3zM866 1021h2v8h-2zM280 1023h3v7h-3zM806 1027h3v7h-3zM261 1033h4v9h-4zM288 1029h3v7h-3zM371 1031h3v8h-3zM369 1028h3v8h-3zM515 1034h3v8h-3zM576 1031h3v8h-3zM620 1029h3v9h-3zM632 1030h3v6h-3zM735 1030h3v7h-3zM780 1030h3v7h-3zM820 1029h4v8h-4zM272 1035h3v9h-3zM337 1040h3v8h-3zM464 1037h3v8h-3zM606 1042h3v7h-3zM620 1041h3v9h-3zM820 1043h3v8h-3zM878 1041h3v8h-3zM276 1050h4v8h-4zM457 1052h2v7h-2zM466 1049h3v10h-3zM692 1048h3v8h-3zM813 1052h3v7h-3zM878 1050h4v7h-4zM346 1057h3v9h-3zM369 1055h3v9h-3zM475 1052h4v8h-4zM574 1054h2v7h-2zM665 1056h3v9h-3zM764 1055h4v10h-4zM819 1054h3v7h-3zM271 1064h3v7h-3zM505 1059h4v7h-4zM872 1064h3v7h-3zM276 1067h4v8h-4zM280 1068h3v7h-3zM415 1069h2v8h-2zM437 1069h2v8h-2zM560 1066h3v7h-3zM623 1067h4v8h-4zM643 1067h3v6h-3zM656 1069h3v8h-3zM880 1065h2v9h-2zM261 1072h3v7h-3zM342 1076h2v7h-2zM401 1072h3v6h-3zM489 1072h3v8h-3zM534 1075h4v9h-4zM599 1071h3v7h-3zM786 1075h3v9h-3zM284 1080h3v9h-3zM295 1081h3v7h-3zM883 1077h3v9h-3zM348 1085h3v7h-3zM376 1082h3v8h-3zM892 1088h3v7h-3zM300 1090h3v8h-3zM379 1090h3v8h-3zM445 1088h3v8h-3zM522 1093h3v8h-3zM589 1088h4v8h-4zM735 1092h3v9h-3zM793 1094h3v7h-3zM817 1088h3v9h-3zM835 1093h4v8h-4zM301 1098h3v9h-3zM323 1097h3v7h-3zM415 1095h3v7h-3zM508 1096h3v7h-3zM353 1103h2v7h-2zM375 1101h3v7h-3zM407 1104h3v9h-3zM518 1103h3v9h-3zM529 1100h3v8h-3zM538 1104h3v7h-3zM632 1104h3v8h-3zM841 1105h2v8h-2zM882 1105h3v7h-3zM285 1106h3v8h-3zM504 1111h3v7h-3zM545 1111h3v7h-3zM620 1108h2v7h-2zM782 1110h3v7h-3zM781 1110h3v7h-3zM873 1109h3v8h-3zM283 1115h3v7h-3zM698 1114h2v8h-2zM761 1116h2v7h-2zM815 1113h3v7h-3zM871 1115h4v7h-4zM286 1123h3v8h-3zM340 1122h3v7h-3zM531 1122h3v9h-3zM544 1120h4v7h-4zM601 1123h3v8h-3zM869 1119h2v9h-2zM884 1121h3v7h-3z" fill-opacity="0.55"/><path d="M283 800h3v8h-3zM374 796h3v8h-3zM394 795h3v10h-3zM477 799h2v7h-2zM639 795h3v7h-3zM644 798h3v7h-3zM678 798h3v9h-3zM752 798h4v7h-4zM747 796h3v7h-3zM761 799h3v8h-3zM277 805h3v9h-3zM559 802h3v9h-3zM671 803h4v6h-4zM670 805h3v9h-3zM731 804h3v7h-3zM869 803h2v7h-2zM391 806h3v9h-3zM453 809h3v8h-3zM611 808h3v8h-3zM637 808h3v6h-3zM743 811h3v7h-3zM762 808h3v9h-3zM789 807h3v9h-3zM327 812h3v8h-3zM420 816h4v10h-4zM472 815h3v8h-3zM642 818h3v7h-3zM354 822h3v9h-3zM553 822h4v9h-4zM686 822h3v8h-3zM798 823h3v9h-3zM878 822h3v7h-3zM483 827h3v7h-3zM545 827h3v7h-3zM565 827h3v8h-3zM588 827h3v9h-3zM644 826h3v7h-3zM796 827h3v9h-3zM395 832h2v8h-2zM501 834h3v7h-3zM525 831h3v7h-3zM628 831h3v7h-3zM773 833h3v9h-3zM281 837h3v8h-3zM293 840h3v7h-3zM638 837h3v9h-3zM643 838h2v8h-2zM741 836h3v9h-3zM342 847h4v7h-4zM500 843h3v9h-3zM655 843h3v9h-3zM678 843h3v7h-3zM839 845h4v8h-4zM350 852h3v7h-3zM519 851h3v7h-3zM549 850h4v7h-4zM557 849h2v8h-2zM565 854h3v8h-3zM566 852h3v9h-3zM613 852h4v9h-4zM671 853h4v8h-4zM783 852h3v7h-3zM810 853h3v7h-3zM545 857h3v8h-3zM555 859h3v7h-3zM737 855h3v8h-3zM841 858h3v9h-3zM848 854h2v9h-2zM852 856h3v8h-3zM852 857h3v8h-3zM368 863h3v9h-3zM422 862h3v9h-3zM440 863h3v8h-3zM516 865h3v7h-3zM614 861h4v7h-4zM697 861h3v8h-3zM775 861h3v9h-3zM798 864h3v9h-3zM450 868h3v9h-3zM598 868h4v9h-4zM597 871h2v9h-2zM628 872h3v7h-3zM632 871h3v7h-3zM757 868h3v9h-3zM269 877h3v9h-3zM421 874h3v9h-3zM617 877h4v7h-4zM672 874h3v8h-3zM716 876h3v7h-3zM272 882h4v7h-4zM272 882h3v9h-3zM293 878h3v9h-3zM566 880h3v9h-3zM626 882h3v9h-3zM675 879h3v9h-3zM659 888h3v7h-3zM666 885h3v8h-3zM847 890h3v8h-3zM880 885h3v9h-3zM472 893h2v7h-2zM516 895h3v9h-3zM591 893h3v9h-3zM632 891h3v7h-3zM684 892h3v8h-3zM803 893h4v7h-4zM816 896h3v7h-3zM295 899h4v9h-4zM629 901h3v8h-3zM658 899h3v8h-3zM794 900h4v7h-4zM310 903h3v8h-3zM420 907h3v7h-3zM441 903h3v8h-3zM616 904h2v7h-2zM632 902h3v9h-3zM636 904h3v7h-3zM707 906h3v7h-3zM757 904h4v7h-4zM768 908h3v7h-3zM789 906h3v7h-3zM267 908h4v9h-4zM332 914h3v7h-3zM374 912h3v9h-3zM645 913h3v7h-3zM754 914h3v7h-3zM278 915h3v8h-3zM342 918h3v8h-3zM440 919h3v7h-3zM454 918h3v8h-3zM456 917h3v8h-3zM545 917h2v9h-2zM576 916h3v9h-3zM595 916h3v9h-3zM644 918h3v9h-3zM712 918h3v8h-3zM768 915h3v9h-3zM804 917h3v8h-3zM871 917h4v7h-4zM328 923h3v7h-3zM402 924h4v9h-4zM418 920h3v9h-3zM440 922h3v9h-3zM447 923h3v9h-3zM492 922h3v8h-3zM626 922h3v7h-3zM744 920h3v8h-3zM807 923h2v8h-2zM894 923h3v9h-3zM341 928h4v9h-4zM436 932h3v7h-3zM573 928h3v9h-3zM611 931h3v9h-3zM664 928h3v8h-3zM713 929h3v7h-3zM719 929h3v9h-3zM741 931h3v8h-3zM262 934h4v9h-4zM424 938h3v7h-3zM497 937h3v9h-3zM533 937h3v7h-3zM558 938h3v7h-3zM755 937h3v8h-3zM459 938h3v8h-3zM522 942h3v9h-3zM582 940h3v9h-3zM643 943h3v9h-3zM837 943h4v8h-4zM422 948h3v7h-3zM423 947h3v9h-3zM677 945h3v7h-3zM693 946h3v7h-3zM738 944h3v8h-3zM761 948h3v8h-3zM800 946h3v9h-3zM266 955h3v7h-3zM295 955h3v9h-3zM493 953h3v7h-3zM491 953h4v8h-4zM592 950h2v9h-2zM611 950h3v9h-3zM809 955h3v8h-3zM295 958h3v9h-3zM492 958h3v7h-3zM585 959h3v8h-3zM606 960h4v9h-4zM728 959h3v8h-3zM729 959h3v7h-3zM801 961h3v9h-3zM894 957h4v8h-4zM261 967h3v7h-3zM531 965h3v7h-3zM566 963h3v7h-3zM597 963h3v7h-3zM607 964h3v9h-3zM746 963h3v8h-3zM761 963h3v9h-3zM860 964h3v7h-3zM869 963h3v7h-3zM868 963h2v9h-2zM364 969h3v8h-3zM748 972h3v8h-3zM754 970h2v7h-2zM269 978h3v7h-3zM543 974h3v8h-3zM610 975h2v8h-2zM618 975h3v7h-3zM620 979h3v8h-3zM630 979h3v8h-3zM739 976h3v8h-3zM768 977h3v8h-3zM812 979h3v9h-3zM574 982h3v7h-3zM607 983h3v9h-3zM620 985h3v8h-3zM680 981h3v8h-3zM696 985h3v8h-3zM739 982h3v9h-3zM791 983h3v9h-3zM802 982h3v10h-3zM801 983h3v8h-3zM341 990h3v8h-3zM370 991h3v8h-3zM480 992h3v7h-3zM535 987h3v7h-3zM553 988h4v9h-4zM732 988h3v8h-3zM775 990h3v9h-3zM879 986h3v9h-3zM334 992h3v9h-3zM363 997h3v7h-3zM401 994h3v7h-3zM449 994h3v9h-3zM462 996h4v7h-4zM620 995h3v7h-3zM847 997h3v8h-3zM436 999h3v7h-3zM544 1003h3v8h-3zM562 1003h3v9h-3zM580 1003h4v9h-4zM632 1002h3v9h-3zM714 1004h3v7h-3zM473 1008h3v9h-3zM564 1006h3v9h-3zM690 1009h3v7h-3zM725 1010h3v8h-3zM728 1005h3v9h-3zM737 1007h3v8h-3zM766 1010h3v7h-3zM843 1006h3v7h-3zM398 1015h3v10h-3zM415 1013h3v7h-3zM606 1013h3v7h-3zM622 1014h3v10h-3zM633 1016h3v6h-3zM756 1011h2v9h-2zM801 1016h3v7h-3zM841 1011h3v8h-3zM882 1011h3v7h-3zM302 1016h3v9h-3zM331 1021h3v7h-3zM362 1019h3v7h-3zM377 1018h4v9h-4zM552 1017h2v7h-2zM638 1020h3v8h-3zM642 1018h3v9h-3zM691 1022h3v7h-3zM731 1019h3v7h-3zM797 1016h3v9h-3zM813 1019h3v8h-3zM818 1020h3v7h-3zM857 1016h4v9h-4zM295 1025h4v8h-4zM611 1025h3v8h-3zM683 1022h4v10h-4zM713 1024h3v9h-3zM775 1022h4v9h-4zM797 1026h3v8h-3zM819 1028h3v7h-3zM845 1025h3v8h-3zM882 1022h3v9h-3zM493 1033h3v8h-3zM624 1032h3v9h-3zM654 1031h3v9h-3zM690 1029h3v7h-3zM361 1038h3v7h-3zM486 1034h4v8h-4zM600 1039h3v9h-3zM648 1037h4v7h-4zM664 1037h2v9h-2zM671 1038h3v8h-3zM676 1038h3v6h-3zM715 1040h3v8h-3zM755 1040h3v8h-3zM798 1038h3v9h-3zM487 1044h2v9h-2zM494 1041h3v7h-3zM542 1045h3v8h-3zM669 1040h3v9h-3zM788 1041h2v8h-2zM843 1045h3v10h-3zM442 1051h3v7h-3zM497 1047h3v7h-3zM507 1046h3v9h-3zM657 1047h3v8h-3zM764 1049h3v9h-3zM779 1048h3v7h-3zM818 1048h3v8h-3zM368 1055h3v8h-3zM580 1058h3v7h-3zM608 1057h3v8h-3zM622 1056h4v9h-4zM662 1054h3v8h-3zM726 1054h3v9h-3zM752 1057h3v9h-3zM758 1052h3v9h-3zM845 1055h4v7h-4zM528 1063h3v8h-3zM560 1062h2v7h-2zM626 1059h3v6h-3zM627 1062h3v7h-3zM670 1059h2v9h-2zM678 1061h3v9h-3zM792 1062h3v7h-3zM367 1067h3v10h-3zM554 1069h3v9h-3zM609 1065h3v9h-3zM698 1070h3v7h-3zM781 1070h3v8h-3zM816 1068h3v7h-3zM302 1071h3v7h-3zM361 1070h3v9h-3zM377 1075h3v7h-3zM404 1074h3v9h-3zM726 1075h3v10h-3zM753 1072h3v9h-3zM310 1079h3v9h-3zM365 1078h3v8h-3zM442 1079h3v8h-3zM532 1077h3v7h-3zM653 1079h3v8h-3zM693 1079h3v9h-3zM721 1077h3v7h-3zM792 1081h3v9h-3zM861 1078h3v7h-3zM374 1083h3v7h-3zM409 1082h3v9h-3zM483 1087h3v7h-3zM761 1086h3v8h-3zM340 1090h2v8h-2zM442 1089h3v8h-3zM481 1092h4v7h-4zM598 1088h3v10h-3zM620 1091h3v9h-3zM673 1093h3v7h-3zM677 1089h4v9h-4zM739 1093h3v8h-3zM828 1091h3v7h-3zM325 1098h3v7h-3zM652 1096h3v9h-3zM759 1095h3v7h-3zM822 1096h3v7h-3zM821 1098h3v8h-3zM834 1095h3v8h-3zM865 1096h2v7h-2zM463 1102h3v8h-3zM480 1102h3v9h-3zM491 1103h4v9h-4zM743 1101h3v9h-3zM789 1104h3v9h-3zM892 1106h3v8h-3zM287 1110h3v9h-3zM621 1109h3v9h-3zM632 1109h3v9h-3zM636 1111h3v7h-3zM639 1111h3v9h-3zM647 1107h3v10h-3zM747 1110h2v7h-2zM829 1108h3v7h-3zM873 1111h3v6h-3zM336 1114h3v9h-3zM353 1112h3v9h-3zM450 1118h3v8h-3zM455 1112h4v8h-4zM494 1117h3v9h-3zM491 1115h3v9h-3zM535 1113h3v8h-3zM572 1116h3v7h-3zM622 1116h2v9h-2zM787 1114h3v9h-3zM876 1116h3v8h-3zM349 1123h2v7h-2zM501 1121h2v9h-2zM544 1118h3v9h-3zM634 1122h3v9h-3zM645 1122h3v9h-3zM843 1120h3v9h-3z" fill-opacity="0.65"/><path d="M532 798h3v9h-3zM653 797h3v8h-3zM663 797h3v7h-3zM707 796h4v9h-4zM659 805h3v9h-3zM711 803h3v9h-3zM727 801h3v8h-3zM730 803h3v9h-3zM374 810h3v8h-3zM648 811h3v8h-3zM696 811h3v8h-3zM734 815h3v9h-3zM763 813h2v8h-2zM822 818h3v7h-3zM646 820h2v8h-2zM663 822h4v7h-4zM803 819h3v7h-3zM698 825h3v8h-3zM710 828h3v8h-3zM717 824h2v9h-2zM769 825h3v8h-3zM687 832h3v7h-3zM712 831h3v8h-3zM387 837h3v8h-3zM527 841h2v8h-2zM841 836h2v8h-2zM796 847h3v7h-3zM386 850h3v8h-3zM715 850h3v7h-3zM631 860h3v7h-3zM664 857h3v7h-3zM670 855h4v9h-4zM814 861h3v6h-3zM463 860h3v9h-3zM560 869h4v9h-4zM636 867h3v8h-3zM648 867h3v8h-3zM752 866h3v9h-3zM576 878h3v7h-3zM756 874h3v7h-3zM303 878h3v9h-3zM467 882h3v8h-3zM568 879h3v10h-3zM635 883h3v7h-3zM682 879h3v8h-3zM745 879h3v8h-3zM772 879h3v7h-3zM819 884h3v8h-3zM852 882h3v9h-3zM579 889h3v8h-3zM640 887h3v7h-3zM685 887h3v8h-3zM685 888h3v7h-3zM681 891h3v8h-3zM692 893h3v8h-3zM730 892h4v9h-4zM860 891h3v7h-3zM522 898h3v7h-3zM646 897h3v8h-3zM664 901h3v7h-3zM681 897h3v8h-3zM700 900h3v8h-3zM868 901h4v7h-4zM707 907h2v9h-2zM738 904h3v9h-3zM548 908h3v10h-3zM573 913h3v9h-3zM700 911h3v9h-3zM731 912h3v9h-3zM800 910h3v7h-3zM274 916h3v8h-3zM389 918h3v8h-3zM655 915h3v9h-3zM704 919h3v7h-3zM673 924h3v8h-3zM746 925h3v9h-3zM782 922h4v8h-4zM729 928h3v8h-3zM317 937h3v7h-3zM549 938h3v7h-3zM770 937h4v7h-4zM651 943h3v7h-3zM661 940h3v10h-3zM675 942h2v7h-2zM703 940h4v8h-4zM743 939h4v7h-4zM829 943h4v7h-4zM603 950h3v9h-3zM680 954h3v8h-3zM739 956h3v7h-3zM652 960h3v8h-3zM769 961h3v7h-3zM333 966h3v7h-3zM590 964h3v8h-3zM690 974h3v7h-3zM731 968h3v9h-3zM778 969h3v8h-3zM308 978h3v9h-3zM644 978h3v8h-3zM639 978h3v8h-3zM688 976h3v7h-3zM657 982h3v8h-3zM700 984h4v9h-4zM735 982h3v9h-3zM680 992h3v8h-3zM746 987h3v9h-3zM746 986h3v9h-3zM757 990h3v9h-3zM470 995h3v7h-3zM710 992h3v9h-3zM754 995h3v8h-3zM420 999h3v9h-3zM443 1001h3v8h-3zM467 1002h3v7h-3zM741 1001h4v6h-4zM449 1005h4v9h-4zM610 1007h3v6h-3zM706 1004h3v8h-3zM707 1008h3v8h-3zM872 1008h3v7h-3zM471 1011h4v7h-4zM553 1012h3v8h-3zM682 1011h3v7h-3zM766 1010h2v9h-2zM385 1018h3v9h-3zM417 1022h4v8h-4zM654 1020h3v7h-3zM717 1021h3v9h-3zM694 1023h3v9h-3zM693 1026h3v7h-3zM725 1024h4v8h-4zM732 1026h2v7h-2zM745 1022h3v9h-3zM419 1030h3v8h-3zM493 1029h3v9h-3zM637 1030h3v6h-3zM651 1032h3v8h-3zM487 1036h3v9h-3zM639 1037h3v7h-3zM664 1038h2v9h-2zM777 1040h3v8h-3zM684 1041h3v10h-3zM698 1046h3v7h-3zM712 1042h3v7h-3zM800 1044h3v8h-3zM568 1050h3v7h-3zM649 1055h2v9h-2zM676 1059h2v6h-2zM723 1054h4v6h-4zM869 1054h3v8h-3zM633 1059h3v6h-3zM688 1061h3v8h-3zM728 1060h2v8h-2zM892 1061h3v7h-3zM672 1064h3v9h-3zM739 1070h3v8h-3zM800 1068h3v7h-3zM390 1075h3v9h-3zM507 1072h3v9h-3zM774 1071h3v8h-3zM790 1073h3v9h-3zM379 1077h3v9h-3zM560 1079h3v7h-3zM663 1081h3v8h-3zM734 1079h3v8h-3zM497 1083h3v9h-3zM561 1091h4v9h-4zM598 1090h3v8h-3zM723 1093h3v8h-3zM743 1089h3v7h-3zM845 1089h4v10h-4zM550 1096h3v9h-3zM544 1103h3v10h-3zM658 1105h3v7h-3zM682 1102h3v8h-3zM756 1106h3v8h-3zM704 1110h3v7h-3zM724 1108h3v8h-3zM744 1110h3v7h-3zM837 1112h3v7h-3zM703 1116h3v7h-3zM741 1113h3v8h-3zM768 1117h3v7h-3zM743 1122h3v8h-3z" fill-opacity="0.78"/><path d="M701 797h2v8h-2zM641 804h3v6h-3zM627 828h3v9h-3zM683 865h3v7h-3zM741 866h4v9h-4zM797 868h3v7h-3zM726 886h3v8h-3zM731 897h3v8h-3zM768 910h3v9h-3zM755 923h3v9h-3zM737 928h3v7h-3zM757 928h4v8h-4zM746 936h3v8h-3zM658 938h3v9h-3zM739 951h3v9h-3zM615 958h3v7h-3zM650 974h3v9h-3zM669 975h3v9h-3zM698 999h3v8h-3zM748 1000h3v7h-3zM730 1016h3v7h-3zM672 1027h3v7h-3zM674 1039h3v8h-3zM698 1041h3v9h-3zM681 1054h2v7h-2zM716 1086h3v8h-3zM722 1093h3v9h-3zM736 1101h3v9h-3zM732 1107h3v9h-3zM391 1118h2v8h-2z" fill-opacity="0.9"/></g>
<g filter="url(#hd2)"><path d="M313 1135h4v7h-4zM383 1141h3v9h-3zM390 1142h3v6h-3zM302 1156h3v8h-3zM384 1166h3v7h-3zM503 1186h3v9h-3zM294 1206h3v9h-3zM348 1203h3v9h-3zM779 1209h3v8h-3zM345 1215h3v7h-3zM433 1215h3v6h-3zM865 1210h2v7h-2zM340 1216h3v8h-3zM287 1228h3v8h-3zM825 1229h3v8h-3zM492 1237h3v8h-3zM867 1233h3v8h-3zM825 1244h3v8h-3zM368 1254h3v8h-3zM800 1255h3v9h-3zM340 1266h4v9h-4zM512 1263h4v9h-4zM344 1271h3v7h-3zM343 1279h2v9h-2zM382 1279h3v9h-3zM267 1295h3v9h-3zM309 1302h3v9h-3zM455 1306h3v9h-3zM347 1317h3v7h-3zM862 1314h3v8h-3zM386 1324h4v9h-4zM391 1327h3v8h-3zM475 1326h3v8h-3zM478 1323h2v9h-2zM850 1326h3v8h-3zM319 1333h3v8h-3zM893 1334h3v9h-3zM322 1337h3v8h-3zM516 1340h3v6h-3zM835 1343h3v6h-3zM278 1369h3v9h-3zM280 1376h3v8h-3zM267 1383h3v8h-3zM342 1379h3v7h-3zM397 1399h3v9h-3zM821 1404h3v9h-3zM571 1429h4v10h-4zM823 1434h2v8h-2zM844 1434h3v7h-3zM284 1463h3v7h-3zM314 1466h3v7h-3zM499 1466h3v7h-3zM330 1486h4v7h-4zM831 1491h3v6h-3zM320 1496h3v9h-3zM459 1495h3v9h-3zM521 1493h3v9h-3z" fill-opacity="0.45"/><path d="M290 1134h3v8h-3zM370 1136h3v7h-3zM384 1133h3v9h-3zM417 1132h3v8h-3zM482 1135h2v6h-2zM518 1132h3v7h-3zM541 1134h3v7h-3zM859 1132h3v8h-3zM866 1131h3v9h-3zM888 1133h2v9h-2zM885 1133h3v9h-3zM374 1139h2v7h-2zM564 1138h3v9h-3zM858 1143h3v6h-3zM267 1148h3v7h-3zM402 1148h3v8h-3zM455 1144h3v7h-3zM502 1148h3v9h-3zM508 1143h2v9h-2zM531 1147h3v9h-3zM572 1149h3v8h-3zM594 1142h3v10h-3zM815 1148h2v9h-2zM832 1146h3v7h-3zM885 1149h3v8h-3zM295 1154h3v8h-3zM320 1151h3v9h-3zM322 1149h3v9h-3zM810 1154h3v9h-3zM383 1156h3v9h-3zM479 1158h3v9h-3zM524 1159h3v8h-3zM543 1159h3v9h-3zM836 1158h4v9h-4zM358 1163h3v9h-3zM478 1162h2v8h-2zM507 1162h3v7h-3zM588 1162h3v8h-3zM896 1165h3v8h-3zM303 1170h2v9h-2zM417 1171h3v9h-3zM519 1169h3v7h-3zM454 1173h3v9h-3zM760 1177h3v8h-3zM820 1176h3v8h-3zM480 1180h3v8h-3zM539 1179h3v8h-3zM862 1184h3v6h-3zM261 1186h3v7h-3zM267 1185h3v8h-3zM415 1191h3v7h-3zM445 1189h3v7h-3zM463 1187h3v9h-3zM476 1190h3v9h-3zM479 1190h3v9h-3zM492 1186h3v9h-3zM539 1189h4v8h-4zM867 1186h3v8h-3zM590 1194h3v8h-3zM359 1200h3v7h-3zM498 1202h3v9h-3zM595 1202h3v8h-3zM844 1203h2v7h-2zM286 1208h3v9h-3zM292 1203h3v9h-3zM868 1206h4v8h-4zM881 1208h4v8h-4zM415 1212h2v9h-2zM414 1214h3v9h-3zM842 1212h3v9h-3zM855 1209h3v9h-3zM322 1218h3v8h-3zM385 1222h3v6h-3zM819 1217h3v9h-3zM321 1225h3v7h-3zM409 1224h3v8h-3zM505 1221h3v9h-3zM861 1225h3v7h-3zM871 1227h3v7h-3zM308 1230h3v8h-3zM378 1229h3v7h-3zM385 1232h3v9h-3zM498 1229h3v9h-3zM535 1230h4v10h-4zM573 1233h3v7h-3zM782 1228h2v7h-2zM873 1228h3v7h-3zM286 1236h3v8h-3zM583 1234h3v7h-3zM762 1235h3v9h-3zM880 1244h3v7h-3zM519 1247h4v8h-4zM543 1248h3v7h-3zM549 1250h3v9h-3zM799 1245h3v9h-3zM866 1249h2v8h-2zM369 1253h3v8h-3zM528 1257h3v7h-3zM645 1255h4v8h-4zM306 1260h3v7h-3zM314 1263h3v7h-3zM370 1261h3v7h-3zM531 1262h3v9h-3zM579 1260h3v8h-3zM604 1257h3v9h-3zM760 1259h2v9h-2zM782 1260h3v7h-3zM834 1257h3v9h-3zM390 1267h3v7h-3zM607 1265h3v7h-3zM591 1274h3v8h-3zM761 1275h3v7h-3zM786 1272h2v8h-2zM403 1281h3v8h-3zM581 1277h3v9h-3zM772 1276h3v9h-3zM266 1283h2v7h-2zM335 1286h3v7h-3zM427 1283h3v8h-3zM518 1283h4v8h-4zM864 1284h3v9h-3zM888 1285h3v7h-3zM404 1293h3v7h-3zM421 1291h3v6h-3zM434 1290h3v9h-3zM329 1294h3v7h-3zM342 1293h3v10h-3zM462 1296h3v10h-3zM491 1297h3v7h-3zM265 1304h3v8h-3zM312 1301h4v7h-4zM362 1303h3v9h-3zM779 1301h3v9h-3zM442 1310h3v7h-3zM508 1305h2v8h-2zM801 1308h3v9h-3zM857 1304h3v10h-3zM298 1316h3v7h-3zM323 1313h3v9h-3zM330 1315h3v8h-3zM348 1317h3v8h-3zM357 1316h3v8h-3zM381 1316h3v7h-3zM451 1316h3v7h-3zM851 1311h3v9h-3zM296 1319h3v9h-3zM333 1320h3v9h-3zM768 1317h3v10h-3zM322 1328h3v8h-3zM348 1325h3v8h-3zM444 1326h3v8h-3zM470 1327h3v9h-3zM486 1328h3v8h-3zM812 1325h3v7h-3zM313 1332h3v8h-3zM413 1331h4v7h-4zM482 1334h3v7h-3zM553 1330h2v7h-2zM838 1333h4v8h-4zM272 1339h3v8h-3zM398 1338h3v9h-3zM404 1336h4v7h-4zM420 1337h3v9h-3zM427 1338h3v8h-3zM437 1339h3v8h-3zM445 1340h3v7h-3zM262 1346h3v7h-3zM575 1343h4v9h-4zM798 1347h3v7h-3zM848 1342h4v9h-4zM438 1353h3v7h-3zM532 1351h3v9h-3zM545 1353h3v7h-3zM784 1352h3v8h-3zM883 1349h3v9h-3zM277 1356h4v9h-4zM344 1358h3v7h-3zM438 1353h3v9h-3zM452 1354h2v7h-2zM825 1354h2v9h-2zM833 1355h3v8h-3zM270 1361h4v8h-4zM313 1363h3v7h-3zM315 1363h3v8h-3zM596 1360h3v9h-3zM776 1360h3v9h-3zM338 1366h3v9h-3zM594 1366h3v7h-3zM772 1368h3v9h-3zM865 1365h4v9h-4zM877 1367h3v9h-3zM885 1366h4v10h-4zM886 1368h3v7h-3zM893 1368h3v7h-3zM437 1372h3v7h-3zM883 1374h3v9h-3zM293 1378h3v8h-3zM363 1379h3v7h-3zM585 1382h3v7h-3zM353 1388h3v7h-3zM463 1387h3v9h-3zM536 1385h3v9h-3zM556 1387h2v7h-2zM451 1394h3v7h-3zM465 1392h3v9h-3zM486 1389h4v8h-4zM514 1393h3v7h-3zM462 1397h3v8h-3zM477 1400h3v8h-3zM489 1401h3v7h-3zM838 1401h3v7h-3zM869 1400h3v8h-3zM371 1401h3v8h-3zM406 1406h3v7h-3zM407 1405h3v9h-3zM533 1404h3v7h-3zM788 1405h3v8h-3zM800 1403h2v7h-2zM363 1409h3v8h-3zM388 1413h3v7h-3zM574 1412h3v8h-3zM589 1410h3v7h-3zM448 1417h3v9h-3zM349 1422h3v8h-3zM374 1422h3v7h-3zM489 1420h3v8h-3zM343 1427h3v7h-3zM769 1430h3v8h-3zM797 1426h3v7h-3zM843 1430h3v8h-3zM292 1436h3v8h-3zM450 1435h3v9h-3zM585 1437h3v7h-3zM379 1443h3v8h-3zM452 1443h3v7h-3zM507 1442h3v9h-3zM805 1443h3v8h-3zM360 1448h2v9h-2zM410 1445h3v8h-3zM417 1442h4v10h-4zM472 1447h3v7h-3zM500 1447h3v9h-3zM594 1448h3v8h-3zM829 1448h3v8h-3zM451 1450h2v7h-2zM520 1450h3v7h-3zM780 1452h3v9h-3zM861 1450h3v8h-3zM268 1455h3v9h-3zM508 1455h3v9h-3zM510 1459h3v8h-3zM836 1463h3v8h-3zM381 1473h3v7h-3zM485 1472h3v8h-3zM546 1472h3v9h-3zM810 1467h3v8h-3zM834 1472h3v8h-3zM277 1474h3v8h-3zM489 1475h3v7h-3zM561 1476h3v8h-3zM775 1474h4v8h-4zM295 1483h3v7h-3zM826 1483h3v7h-3zM490 1486h2v10h-2zM539 1487h3v7h-3zM769 1490h2v7h-2zM841 1486h3v8h-3zM879 1489h3v8h-3zM892 1490h3v7h-3zM397 1493h2v7h-2zM461 1494h3v7h-3zM472 1497h2v7h-2zM499 1496h3v8h-3zM575 1495h3v8h-3zM884 1494h4v7h-4z" fill-opacity="0.55"/><path d="M265 1133h3v7h-3zM554 1135h3v8h-3zM750 1134h3v9h-3zM753 1135h3v7h-3zM777 1135h3v8h-3zM286 1143h3v7h-3zM295 1142h3v7h-3zM382 1141h3v8h-3zM478 1141h3v9h-3zM573 1140h3v7h-3zM865 1140h3v8h-3zM347 1145h3v8h-3zM347 1149h4v7h-4zM399 1144h3v7h-3zM499 1146h3v7h-3zM627 1148h2v8h-2zM643 1147h3v7h-3zM688 1143h3v8h-3zM730 1145h3v7h-3zM761 1148h3v8h-3zM261 1152h3v8h-3zM596 1149h3v9h-3zM607 1152h2v8h-2zM697 1150h4v8h-4zM694 1153h3v8h-3zM751 1152h3v7h-3zM758 1155h3v6h-3zM781 1155h3v7h-3zM323 1157h3v8h-3zM453 1157h3v9h-3zM731 1157h3v9h-3zM785 1161h3v7h-3zM382 1164h3v7h-3zM554 1164h3v8h-3zM565 1166h3v8h-3zM638 1163h3v7h-3zM712 1166h3v9h-3zM279 1167h3v8h-3zM303 1168h3v7h-3zM399 1173h3v7h-3zM500 1167h4v8h-4zM619 1173h4v7h-4zM809 1171h4v6h-4zM412 1173h3v8h-3zM481 1177h3v9h-3zM564 1175h4v8h-4zM597 1175h3v9h-3zM613 1175h3v7h-3zM813 1177h3v9h-3zM855 1178h3v7h-3zM895 1177h3v7h-3zM895 1175h3v9h-3zM282 1181h3v9h-3zM599 1179h2v9h-2zM718 1184h2v8h-2zM760 1183h3v9h-3zM791 1182h3v8h-3zM844 1180h3v9h-3zM276 1186h3v10h-3zM317 1189h3v9h-3zM471 1188h3v8h-3zM834 1187h3v8h-3zM886 1187h3v9h-3zM329 1194h3v7h-3zM363 1192h3v9h-3zM396 1196h3v8h-3zM409 1194h3v7h-3zM491 1192h3v7h-3zM689 1196h3v8h-3zM837 1191h3v10h-3zM537 1201h3v9h-3zM567 1197h4v9h-4zM575 1200h2v8h-2zM599 1202h3v8h-3zM619 1201h3v9h-3zM733 1199h3v8h-3zM765 1202h3v8h-3zM771 1199h3v7h-3zM771 1198h3v7h-3zM265 1205h3v8h-3zM284 1205h3v9h-3zM714 1207h3v8h-3zM813 1205h3v9h-3zM543 1213h3v8h-3zM574 1214h3v9h-3zM739 1211h3v9h-3zM743 1213h3v9h-3zM751 1211h3v8h-3zM762 1213h3v8h-3zM760 1212h3v9h-3zM784 1215h2v7h-2zM277 1216h2v9h-2zM479 1216h3v7h-3zM524 1220h2v9h-2zM600 1219h3v7h-3zM765 1218h3v7h-3zM287 1225h2v7h-2zM539 1221h2v9h-2zM547 1224h3v10h-3zM581 1223h3v8h-3zM594 1226h3v9h-3zM631 1222h3v8h-3zM863 1223h3v9h-3zM351 1229h3v7h-3zM458 1228h3v10h-3zM573 1228h3v7h-3zM664 1228h3v9h-3zM699 1233h2v7h-2zM750 1232h3v6h-3zM820 1230h3v9h-3zM711 1233h3v9h-3zM564 1240h3v9h-3zM580 1244h3v8h-3zM636 1243h3v8h-3zM634 1241h3v9h-3zM868 1242h3v7h-3zM648 1248h2v9h-2zM813 1247h3v7h-3zM891 1246h4v9h-4zM896 1245h3v8h-3zM601 1252h3v8h-3zM605 1257h3v7h-3zM652 1253h3v7h-3zM726 1255h3v7h-3zM738 1256h3v9h-3zM775 1253h3v9h-3zM807 1256h3v8h-3zM275 1260h3v8h-3zM345 1258h3v6h-3zM546 1260h3v6h-3zM689 1260h2v8h-2zM711 1257h3v9h-3zM802 1259h3v7h-3zM844 1262h3v9h-3zM274 1266h3v8h-3zM536 1267h3v7h-3zM591 1263h3v10h-3zM596 1267h3v9h-3zM593 1274h3v7h-3zM614 1271h2v9h-2zM647 1271h3v8h-3zM822 1271h3v9h-3zM330 1278h3v7h-3zM515 1277h3v8h-3zM541 1275h3v8h-3zM577 1276h2v8h-2zM620 1279h3v8h-3zM668 1279h3v9h-3zM744 1276h2v9h-2zM746 1277h3v9h-3zM765 1278h3v8h-3zM341 1287h3v7h-3zM590 1284h3v8h-3zM594 1286h3v7h-3zM761 1282h3v9h-3zM807 1285h3v8h-3zM405 1289h3v8h-3zM532 1289h3v9h-3zM710 1291h3v9h-3zM763 1288h3v9h-3zM794 1290h3v8h-3zM265 1299h2v7h-2zM369 1293h3v8h-3zM495 1297h3v9h-3zM495 1293h3v9h-3zM632 1297h3v8h-3zM700 1297h3v9h-3zM773 1293h3v8h-3zM816 1298h2v7h-2zM861 1296h3v9h-3zM579 1303h3v8h-3zM589 1299h3v9h-3zM790 1303h3v9h-3zM439 1305h3v9h-3zM435 1311h3v7h-3zM464 1311h3v7h-3zM579 1307h3v8h-3zM587 1310h3v8h-3zM738 1309h3v7h-3zM322 1317h3v7h-3zM392 1314h3v7h-3zM602 1316h3v8h-3zM606 1311h2v9h-2zM738 1315h3v9h-3zM768 1313h3v8h-3zM867 1312h3v7h-3zM298 1319h3v8h-3zM521 1318h3v9h-3zM567 1322h3v7h-3zM603 1323h3v7h-3zM698 1321h3v7h-3zM743 1318h3v7h-3zM768 1321h3v7h-3zM783 1318h3v8h-3zM792 1318h3v8h-3zM273 1329h3v7h-3zM320 1329h3v8h-3zM543 1323h4v10h-4zM550 1324h4v9h-4zM626 1326h3v8h-3zM785 1325h3v8h-3zM888 1326h3v8h-3zM546 1331h4v7h-4zM577 1331h3v9h-3zM603 1334h2v7h-2zM704 1334h3v7h-3zM729 1331h3v8h-3zM751 1334h3v8h-3zM758 1334h3v7h-3zM755 1329h2v8h-2zM609 1341h3v8h-3zM624 1338h3v9h-3zM812 1341h4v7h-4zM332 1346h3v9h-3zM610 1344h3v8h-3zM624 1345h2v9h-2zM755 1343h3v8h-3zM765 1347h3v7h-3zM832 1342h2v8h-2zM864 1345h3v8h-3zM892 1347h3v7h-3zM309 1350h3v9h-3zM485 1351h3v8h-3zM591 1347h3v9h-3zM610 1353h3v7h-3zM740 1353h3v7h-3zM859 1353h3v8h-3zM372 1353h3v9h-3zM442 1358h3v9h-3zM576 1356h2v7h-2zM581 1353h3v9h-3zM586 1359h3v8h-3zM621 1356h3v7h-3zM778 1354h3v8h-3zM890 1355h3v9h-3zM528 1363h3v9h-3zM586 1362h3v7h-3zM626 1362h3v7h-3zM736 1363h3v9h-3zM760 1365h3v8h-3zM863 1361h3v8h-3zM296 1367h3v9h-3zM362 1371h3v8h-3zM540 1369h3v9h-3zM583 1371h3v7h-3zM618 1365h3v9h-3zM646 1368h4v9h-4zM838 1367h3v7h-3zM310 1373h3v8h-3zM461 1373h3v9h-3zM524 1376h3v7h-3zM585 1374h3v6h-3zM718 1376h4v7h-4zM736 1373h3v8h-3zM743 1375h3v7h-3zM760 1372h3v7h-3zM786 1373h4v9h-4zM292 1377h3v8h-3zM748 1380h3v9h-3zM764 1378h3v7h-3zM890 1379h3v10h-3zM357 1384h3v7h-3zM395 1383h3v9h-3zM447 1387h2v9h-2zM733 1386h4v8h-4zM752 1388h2v8h-2zM390 1390h3v9h-3zM455 1389h2v9h-2zM508 1391h3v8h-3zM620 1390h3v7h-3zM639 1394h2v8h-2zM757 1393h3v7h-3zM761 1389h4v9h-4zM480 1401h3v7h-3zM542 1398h3v9h-3zM607 1399h3v9h-3zM801 1400h3v8h-3zM826 1396h3v9h-3zM890 1399h4v9h-4zM376 1404h4v7h-4zM498 1402h3v9h-3zM521 1406h3v7h-3zM616 1402h3v8h-3zM627 1403h2v8h-2zM730 1403h3v9h-3zM879 1407h3v7h-3zM430 1409h3v8h-3zM437 1410h3v8h-3zM534 1408h3v9h-3zM587 1408h3v9h-3zM607 1409h3v7h-3zM735 1410h3v8h-3zM810 1412h3v9h-3zM338 1416h4v7h-4zM603 1416h3v7h-3zM355 1420h3v9h-3zM563 1421h3v9h-3zM622 1420h3v9h-3zM740 1425h3v8h-3zM302 1427h3v9h-3zM412 1426h3v9h-3zM424 1428h3v7h-3zM479 1428h3v10h-3zM527 1429h3v8h-3zM693 1428h3v9h-3zM729 1426h3v9h-3zM774 1426h3v9h-3zM263 1432h3v6h-3zM510 1431h3v9h-3zM570 1432h4v9h-4zM615 1435h3v8h-3zM650 1435h3v9h-3zM695 1435h3v9h-3zM721 1436h3v8h-3zM740 1436h3v9h-3zM803 1432h3v9h-3zM836 1433h2v8h-2zM474 1442h3v8h-3zM586 1442h3v7h-3zM763 1443h3v7h-3zM867 1442h3v9h-3zM396 1444h4v9h-4zM494 1443h3v8h-3zM551 1444h2v7h-2zM613 1444h3v7h-3zM725 1447h3v8h-3zM491 1453h3v10h-3zM614 1453h3v9h-3zM621 1451h4v9h-4zM734 1453h3v7h-3zM745 1453h3v9h-3zM762 1451h3v8h-3zM765 1452h3v7h-3zM777 1453h3v8h-3zM817 1450h2v9h-2zM816 1451h3v9h-3zM486 1456h3v8h-3zM548 1458h4v7h-4zM602 1455h3v9h-3zM764 1459h3v7h-3zM795 1456h3v7h-3zM854 1456h2v7h-2zM534 1466h3v9h-3zM540 1461h3v9h-3zM629 1466h3v9h-3zM629 1464h3v9h-3zM735 1461h3v9h-3zM771 1464h3v8h-3zM847 1467h3v7h-3zM884 1466h2v7h-2zM314 1469h3v8h-3zM321 1469h3v9h-3zM693 1472h3v8h-3zM824 1469h3v7h-3zM847 1471h3v9h-3zM850 1472h3v8h-3zM888 1469h3v8h-3zM683 1477h3v9h-3zM405 1484h3v9h-3zM435 1480h3v9h-3zM516 1484h2v8h-2zM537 1483h3v9h-3zM593 1480h3v9h-3zM847 1479h3v9h-3zM448 1488h3v7h-3zM538 1488h3v8h-3zM591 1487h3v9h-3zM592 1486h3v9h-3zM616 1486h3v7h-3zM780 1487h3v9h-3zM787 1491h3v8h-3zM279 1492h4v9h-4zM312 1494h3v9h-3zM543 1493h3v8h-3zM574 1496h3v9h-3zM612 1496h3v8h-3zM623 1497h3v7h-3z" fill-opacity="0.65"/><path d="M369 1136h3v9h-3zM629 1134h3v9h-3zM647 1135h2v7h-2zM651 1132h3v7h-3zM685 1137h3v7h-3zM735 1132h3v9h-3zM770 1132h3v10h-3zM672 1138h3v8h-3zM682 1142h3v8h-3zM701 1141h2v8h-2zM736 1138h3v7h-3zM275 1147h3v8h-3zM470 1145h3v8h-3zM609 1146h3v7h-3zM626 1146h3v8h-3zM625 1147h3v8h-3zM644 1147h3v8h-3zM684 1143h3v10h-3zM694 1145h3v8h-3zM703 1149h3v7h-3zM709 1147h3v8h-3zM716 1148h3v7h-3zM758 1146h3v9h-3zM618 1149h3v8h-3zM644 1155h3v7h-3zM654 1150h3v8h-3zM680 1151h3v9h-3zM725 1152h3v8h-3zM854 1152h3v8h-3zM602 1157h3v7h-3zM612 1156h3v8h-3zM705 1158h4v8h-4zM712 1156h3v7h-3zM718 1155h3v9h-3zM787 1157h3v7h-3zM689 1163h3v8h-3zM711 1161h3v8h-3zM712 1164h3v9h-3zM854 1164h3v8h-3zM606 1169h3v9h-3zM622 1173h3v8h-3zM627 1170h4v8h-4zM634 1168h2v7h-2zM646 1171h3v9h-3zM655 1168h3v7h-3zM696 1170h3v7h-3zM719 1172h3v10h-3zM726 1173h4v7h-4zM737 1172h3v9h-3zM751 1171h2v9h-2zM817 1171h3v8h-3zM843 1171h3v9h-3zM620 1175h3v9h-3zM621 1178h3v9h-3zM635 1176h3v9h-3zM671 1176h2v8h-2zM690 1173h2v9h-2zM706 1176h3v9h-3zM711 1176h3v9h-3zM437 1180h3v8h-3zM557 1185h3v7h-3zM584 1181h3v9h-3zM622 1183h2v7h-2zM621 1181h3v7h-3zM630 1184h3v8h-3zM632 1180h2v8h-2zM738 1180h3v8h-3zM735 1184h4v9h-4zM767 1183h3v8h-3zM775 1184h2v7h-2zM599 1186h3v8h-3zM608 1187h2v9h-2zM657 1187h3v10h-3zM682 1186h3v9h-3zM699 1190h3v8h-3zM699 1189h3v8h-3zM717 1186h3v7h-3zM637 1193h3v9h-3zM681 1193h3v9h-3zM711 1195h2v7h-2zM725 1193h3v9h-3zM737 1193h3v8h-3zM756 1196h3v10h-3zM774 1197h3v7h-3zM293 1200h3v9h-3zM679 1198h3v8h-3zM690 1198h3v6h-3zM728 1198h3v7h-3zM662 1204h3v8h-3zM841 1207h4v8h-4zM629 1214h3v9h-3zM640 1212h3v8h-3zM701 1210h3v8h-3zM703 1210h3v10h-3zM703 1210h2v7h-2zM740 1213h3v9h-3zM822 1214h3v7h-3zM667 1220h3v7h-3zM690 1221h3v7h-3zM735 1220h3v7h-3zM561 1222h3v7h-3zM628 1223h3v7h-3zM650 1225h3v7h-3zM684 1225h3v8h-3zM727 1224h3v10h-3zM746 1225h3v8h-3zM788 1227h4v7h-4zM646 1227h3v8h-3zM647 1231h3v7h-3zM663 1233h3v8h-3zM736 1232h3v6h-3zM507 1239h3v6h-3zM704 1239h3v7h-3zM707 1243h3v7h-3zM730 1242h3v7h-3zM740 1244h3v9h-3zM871 1243h3v7h-3zM656 1249h4v10h-4zM663 1249h3v7h-3zM701 1246h3v9h-3zM582 1250h2v10h-2zM586 1257h3v7h-3zM609 1253h3v7h-3zM614 1253h4v7h-4zM588 1262h3v7h-3zM638 1262h3v9h-3zM665 1260h3v7h-3zM669 1258h2v8h-2zM684 1262h3v9h-3zM728 1257h3v9h-3zM729 1262h3v9h-3zM753 1260h3v7h-3zM610 1265h3v9h-3zM612 1268h2v9h-2zM710 1266h3v9h-3zM725 1267h3v7h-3zM851 1266h3v8h-3zM590 1271h3v7h-3zM609 1271h3v10h-3zM625 1272h4v7h-4zM646 1269h3v8h-3zM667 1273h3v8h-3zM696 1271h3v9h-3zM707 1273h3v6h-3zM721 1273h3v8h-3zM721 1273h3v8h-3zM814 1269h3v9h-3zM513 1276h3v7h-3zM725 1276h3v7h-3zM763 1278h4v9h-4zM767 1278h4v9h-4zM516 1286h3v7h-3zM601 1283h3v8h-3zM646 1286h3v8h-3zM673 1281h3v8h-3zM695 1281h3v10h-3zM570 1291h4v7h-4zM649 1291h3v9h-3zM658 1292h3v8h-3zM659 1290h3v8h-3zM679 1292h3v8h-3zM692 1288h3v7h-3zM709 1292h3v7h-3zM629 1297h2v8h-2zM650 1297h3v7h-3zM652 1295h3v8h-3zM669 1293h3v8h-3zM680 1298h3v8h-3zM685 1298h3v10h-3zM736 1294h3v9h-3zM847 1294h3v8h-3zM370 1300h2v7h-2zM657 1303h3v9h-3zM691 1302h3v7h-3zM691 1300h4v9h-4zM699 1299h3v9h-3zM736 1304h4v8h-4zM758 1301h3v7h-3zM310 1309h3v8h-3zM665 1310h3v9h-3zM668 1307h3v7h-3zM698 1311h3v7h-3zM733 1309h3v9h-3zM749 1306h3v9h-3zM779 1308h3v7h-3zM286 1315h3v7h-3zM611 1313h3v7h-3zM617 1315h3v9h-3zM728 1316h3v8h-3zM868 1316h3v9h-3zM603 1322h3v8h-3zM646 1322h3v7h-3zM674 1322h3v9h-3zM698 1321h3v9h-3zM743 1322h3v7h-3zM851 1319h3v9h-3zM648 1323h3v8h-3zM659 1326h3v9h-3zM668 1328h3v7h-3zM674 1327h3v9h-3zM634 1332h2v9h-2zM642 1332h3v9h-3zM675 1331h3v9h-3zM686 1331h3v8h-3zM729 1332h3v7h-3zM796 1333h3v8h-3zM803 1333h3v9h-3zM611 1339h3v6h-3zM639 1335h3v8h-3zM654 1335h4v9h-4zM702 1339h3v7h-3zM718 1341h3v7h-3zM891 1337h3v7h-3zM680 1344h3v7h-3zM720 1342h3v7h-3zM640 1350h3v7h-3zM651 1348h3v7h-3zM692 1348h3v7h-3zM715 1350h3v8h-3zM726 1350h3v10h-3zM676 1358h3v8h-3zM704 1353h3v9h-3zM750 1355h3v9h-3zM475 1360h3v8h-3zM606 1360h4v7h-4zM638 1364h4v9h-4zM650 1363h3v8h-3zM734 1363h3v7h-3zM742 1362h3v9h-3zM745 1364h2v9h-2zM869 1364h3v9h-3zM645 1369h3v9h-3zM650 1368h4v8h-4zM692 1369h3v7h-3zM731 1371h3v8h-3zM792 1368h3v8h-3zM544 1374h3v9h-3zM645 1377h3v7h-3zM658 1375h3v6h-3zM709 1376h4v8h-4zM731 1375h3v8h-3zM770 1377h3v7h-3zM614 1378h3v9h-3zM666 1379h3v7h-3zM682 1382h3v8h-3zM693 1378h3v9h-3zM728 1379h3v7h-3zM731 1378h3v7h-3zM740 1382h3v8h-3zM736 1382h3v9h-3zM481 1384h3v8h-3zM591 1386h3v8h-3zM635 1384h3v8h-3zM672 1386h4v7h-4zM694 1386h3v9h-3zM722 1384h2v7h-2zM728 1387h3v7h-3zM751 1388h4v8h-4zM787 1390h3v6h-3zM596 1391h3v9h-3zM624 1395h3v7h-3zM659 1390h3v9h-3zM736 1392h3v7h-3zM655 1398h3v8h-3zM661 1401h3v7h-3zM678 1395h3v9h-3zM676 1397h4v7h-4zM704 1399h3v7h-3zM723 1398h3v7h-3zM737 1400h3v8h-3zM742 1400h3v7h-3zM564 1402h4v7h-4zM621 1402h3v9h-3zM631 1407h3v8h-3zM656 1404h3v9h-3zM681 1405h2v8h-2zM765 1404h3v8h-3zM531 1409h3v7h-3zM601 1412h3v9h-3zM602 1407h4v9h-4zM649 1413h4v7h-4zM677 1412h3v7h-3zM778 1408h3v7h-3zM848 1408h3v7h-3zM606 1414h3v9h-3zM655 1415h3v7h-3zM672 1413h3v8h-3zM675 1414h3v7h-3zM690 1419h3v8h-3zM795 1415h3v7h-3zM614 1424h3v8h-3zM612 1422h3v8h-3zM620 1420h3v8h-3zM629 1425h3v7h-3zM644 1421h4v8h-4zM669 1419h3v9h-3zM734 1425h3v8h-3zM353 1427h2v7h-2zM623 1431h3v7h-3zM627 1427h4v7h-4zM629 1426h3v9h-3zM678 1428h3v9h-3zM685 1429h3v7h-3zM763 1425h3v8h-3zM609 1432h3v7h-3zM623 1433h3v9h-3zM643 1436h3v6h-3zM660 1437h3v8h-3zM671 1436h3v7h-3zM696 1436h3v7h-3zM421 1440h3v8h-3zM626 1441h3v9h-3zM658 1438h3v9h-3zM661 1441h4v8h-4zM725 1437h3v8h-3zM739 1442h3v8h-3zM295 1445h3v7h-3zM503 1447h3v9h-3zM682 1445h4v9h-4zM704 1447h3v9h-3zM717 1448h2v10h-2zM741 1446h3v7h-3zM747 1447h3v8h-3zM764 1444h3v10h-3zM402 1454h3v7h-3zM550 1454h3v8h-3zM575 1455h3v6h-3zM594 1451h3v7h-3zM621 1450h3v8h-3zM651 1452h3v9h-3zM667 1449h3v8h-3zM679 1455h4v8h-4zM698 1454h3v8h-3zM831 1455h3v8h-3zM436 1460h3v8h-3zM653 1457h3v9h-3zM664 1460h3v9h-3zM673 1461h2v7h-2zM678 1456h3v8h-3zM725 1456h3v8h-3zM737 1459h3v7h-3zM745 1460h3v7h-3zM764 1460h3v7h-3zM601 1462h3v8h-3zM625 1463h3v8h-3zM632 1463h3v7h-3zM668 1461h3v8h-3zM669 1465h3v9h-3zM682 1462h3v9h-3zM742 1464h3v9h-3zM759 1466h3v7h-3zM792 1462h2v8h-2zM491 1469h3v9h-3zM581 1473h3v7h-3zM660 1469h4v7h-4zM712 1469h3v7h-3zM763 1472h3v7h-3zM357 1475h3v8h-3zM630 1475h3v10h-3zM669 1475h3v7h-3zM674 1474h3v9h-3zM711 1474h3v9h-3zM551 1485h3v8h-3zM604 1484h3v9h-3zM617 1482h3v8h-3zM644 1482h3v8h-3zM676 1483h3v8h-3zM719 1480h3v9h-3zM723 1486h4v6h-4zM290 1489h3v7h-3zM589 1487h3v10h-3zM643 1490h3v9h-3zM683 1488h3v8h-3zM698 1488h2v7h-2zM590 1494h3v8h-3zM604 1493h3v8h-3zM619 1495h3v10h-3zM629 1497h3v7h-3zM641 1491h3v10h-3zM651 1493h3v7h-3zM653 1496h3v9h-3zM685 1491h3v8h-3zM710 1494h3v7h-3zM723 1491h3v9h-3zM743 1494h3v7h-3z" fill-opacity="0.78"/><path d="M628 1134h3v8h-3zM657 1132h3v7h-3zM708 1137h3v7h-3zM709 1137h3v8h-3zM718 1131h3v9h-3zM671 1137h3v8h-3zM689 1140h3v7h-3zM713 1142h3v8h-3zM713 1140h4v9h-4zM724 1138h3v7h-3zM626 1143h3v8h-3zM641 1148h3v9h-3zM643 1149h3v6h-3zM652 1147h4v9h-4zM701 1147h4v9h-4zM686 1154h3v9h-3zM698 1151h4v9h-4zM581 1157h3v9h-3zM638 1155h3v8h-3zM652 1156h3v8h-3zM651 1156h4v8h-4zM660 1160h4v8h-4zM672 1161h4v7h-4zM694 1157h3v7h-3zM716 1159h3v7h-3zM720 1155h3v9h-3zM636 1164h2v9h-2zM650 1163h3v7h-3zM680 1164h3v9h-3zM709 1162h3v7h-3zM705 1166h3v8h-3zM656 1173h3v7h-3zM661 1170h3v8h-3zM665 1168h3v9h-3zM679 1172h3v7h-3zM642 1177h4v9h-4zM662 1174h3v8h-3zM669 1173h3v9h-3zM688 1177h3v8h-3zM694 1173h3v9h-3zM696 1178h4v8h-4zM705 1174h4v9h-4zM713 1178h2v7h-2zM631 1181h3v10h-3zM683 1183h3v9h-3zM683 1181h3v9h-3zM690 1180h3v8h-3zM703 1179h3v9h-3zM715 1183h2v8h-2zM729 1182h4v8h-4zM644 1185h3v8h-3zM652 1187h3v9h-3zM660 1187h3v8h-3zM683 1189h3v10h-3zM685 1189h3v9h-3zM690 1191h3v7h-3zM698 1190h3v9h-3zM707 1185h3v9h-3zM722 1188h3v7h-3zM671 1196h3v8h-3zM679 1192h3v7h-3zM676 1195h4v10h-4zM676 1196h3v9h-3zM687 1196h3v9h-3zM696 1194h3v9h-3zM697 1192h2v8h-2zM721 1193h3v8h-3zM726 1194h3v8h-3zM628 1198h3v9h-3zM647 1198h3v7h-3zM689 1201h3v8h-3zM639 1206h3v7h-3zM648 1207h4v9h-4zM657 1205h3v7h-3zM674 1205h3v7h-3zM684 1203h3v8h-3zM690 1204h3v9h-3zM709 1206h4v7h-4zM654 1214h3v9h-3zM690 1212h3v9h-3zM638 1220h3v7h-3zM642 1220h3v8h-3zM665 1219h3v8h-3zM678 1216h3v8h-3zM677 1220h3v7h-3zM697 1219h3v9h-3zM694 1217h3v10h-3zM696 1215h3v9h-3zM697 1218h3v9h-3zM704 1219h2v7h-2zM718 1220h3v9h-3zM753 1220h3v9h-3zM671 1226h3v8h-3zM708 1226h3v7h-3zM712 1226h2v9h-2zM724 1221h3v8h-3zM723 1224h4v7h-4zM678 1230h3v8h-3zM685 1227h3v9h-3zM692 1227h4v10h-4zM705 1228h3v8h-3zM662 1235h3v8h-3zM671 1233h3v9h-3zM679 1236h4v9h-4zM662 1240h3v8h-3zM688 1242h3v10h-3zM703 1241h3v9h-3zM634 1247h3v9h-3zM633 1246h3v7h-3zM640 1245h3v8h-3zM654 1248h3v8h-3zM663 1248h3v7h-3zM670 1247h3v8h-3zM670 1248h2v10h-2zM694 1246h3v7h-3zM721 1246h3v8h-3zM724 1251h2v8h-2zM726 1248h3v7h-3zM645 1254h3v8h-3zM670 1252h3v9h-3zM702 1256h3v8h-3zM722 1252h3v9h-3zM730 1254h2v6h-2zM683 1262h3v9h-3zM692 1257h3v9h-3zM697 1262h3v7h-3zM700 1262h4v8h-4zM708 1258h4v7h-4zM714 1263h3v7h-3zM728 1260h3v8h-3zM724 1260h3v7h-3zM640 1263h3v9h-3zM663 1266h3v8h-3zM677 1266h3v7h-3zM697 1268h3v7h-3zM694 1268h3v9h-3zM695 1267h2v10h-2zM703 1266h3v8h-3zM707 1268h3v8h-3zM706 1265h3v9h-3zM638 1270h3v8h-3zM645 1272h3v9h-3zM662 1274h3v8h-3zM662 1269h3v9h-3zM672 1273h3v9h-3zM691 1269h3v8h-3zM702 1271h3v8h-3zM705 1275h4v6h-4zM713 1269h3v9h-3zM682 1279h3v9h-3zM701 1280h3v9h-3zM724 1280h3v7h-3zM635 1284h3v7h-3zM641 1286h3v7h-3zM649 1286h3v8h-3zM648 1286h3v9h-3zM651 1284h3v7h-3zM670 1284h3v8h-3zM688 1282h4v7h-4zM689 1286h3v9h-3zM703 1281h3v8h-3zM709 1283h3v8h-3zM715 1282h3v8h-3zM481 1290h3v7h-3zM593 1288h2v9h-2zM631 1288h3v8h-3zM649 1288h2v9h-2zM660 1292h3v7h-3zM674 1293h3v7h-3zM679 1291h3v9h-3zM704 1290h3v8h-3zM713 1291h3v7h-3zM711 1292h3v8h-3zM634 1295h3v9h-3zM662 1297h3v9h-3zM663 1296h3v7h-3zM698 1297h3v7h-3zM705 1297h2v6h-2zM721 1295h3v7h-3zM726 1297h3v9h-3zM740 1294h3v9h-3zM642 1303h3v9h-3zM691 1301h3v7h-3zM713 1303h3v8h-3zM733 1303h2v7h-2zM612 1309h3v9h-3zM643 1308h3v8h-3zM648 1308h3v6h-3zM675 1306h3v9h-3zM709 1306h2v8h-2zM650 1316h3v7h-3zM671 1312h3v9h-3zM692 1315h3v7h-3zM724 1315h3v7h-3zM649 1318h3v8h-3zM640 1327h4v8h-4zM713 1326h3v8h-3zM729 1325h3v9h-3zM744 1327h3v9h-3zM608 1331h3v8h-3zM638 1334h3v7h-3zM646 1332h3v7h-3zM657 1334h3v9h-3zM657 1331h3v9h-3zM669 1332h3v9h-3zM691 1330h3v9h-3zM706 1335h3v7h-3zM718 1331h3v9h-3zM725 1330h3v8h-3zM751 1330h3v7h-3zM336 1336h3v7h-3zM651 1339h4v7h-4zM659 1339h3v9h-3zM716 1336h3v7h-3zM713 1339h3v8h-3zM644 1346h3v9h-3zM685 1345h3v9h-3zM689 1346h3v9h-3zM721 1347h4v8h-4zM661 1351h3v7h-3zM676 1353h3v7h-3zM694 1350h3v8h-3zM706 1348h3v8h-3zM708 1349h3v8h-3zM714 1347h3v9h-3zM717 1352h4v7h-4zM628 1356h3v9h-3zM665 1358h2v9h-2zM670 1356h3v9h-3zM687 1357h3v7h-3zM691 1355h3v9h-3zM712 1358h4v7h-4zM715 1358h3v6h-3zM648 1359h3v8h-3zM668 1361h3v7h-3zM670 1361h3v7h-3zM677 1362h3v8h-3zM691 1362h3v9h-3zM713 1364h3v8h-3zM711 1362h3v7h-3zM710 1361h4v8h-4zM736 1362h3v8h-3zM643 1367h4v7h-4zM665 1365h3v9h-3zM697 1368h3v8h-3zM696 1368h3v8h-3zM731 1369h3v7h-3zM759 1368h3v7h-3zM632 1374h3v7h-3zM652 1375h3v8h-3zM666 1373h3v9h-3zM679 1373h3v9h-3zM610 1379h3v8h-3zM646 1380h4v9h-4zM663 1381h3v7h-3zM687 1381h3v8h-3zM690 1381h3v7h-3zM646 1384h3v7h-3zM657 1384h3v8h-3zM665 1389h3v7h-3zM668 1388h4v7h-4zM674 1388h4v7h-4zM699 1387h2v8h-2zM715 1388h2v7h-2zM717 1383h3v9h-3zM735 1386h3v9h-3zM645 1392h3v8h-3zM684 1391h3v7h-3zM681 1391h3v7h-3zM688 1390h3v7h-3zM691 1393h3v8h-3zM724 1392h2v7h-2zM731 1392h2v10h-2zM672 1400h2v7h-2zM719 1400h3v9h-3zM729 1401h3v6h-3zM615 1402h3v8h-3zM644 1405h3v8h-3zM691 1404h3v8h-3zM714 1404h3v7h-3zM612 1410h3v6h-3zM642 1408h3v9h-3zM657 1409h3v9h-3zM692 1409h3v9h-3zM709 1409h2v9h-2zM652 1415h3v9h-3zM681 1418h3v7h-3zM725 1418h2v8h-2zM600 1423h3v7h-3zM657 1422h3v7h-3zM668 1424h3v8h-3zM679 1421h3v7h-3zM687 1424h2v9h-2zM612 1427h3v9h-3zM666 1430h3v7h-3zM670 1426h3v7h-3zM673 1429h3v7h-3zM695 1429h3v8h-3zM710 1430h3v9h-3zM731 1431h3v7h-3zM729 1427h4v9h-4zM647 1435h3v7h-3zM701 1437h3v7h-3zM702 1434h3v7h-3zM722 1435h3v7h-3zM747 1432h4v7h-4zM702 1438h3v6h-3zM720 1439h3v9h-3zM722 1439h3v7h-3zM731 1440h3v9h-3zM738 1438h3v10h-3zM688 1445h3v9h-3zM706 1448h3v8h-3zM722 1448h3v8h-3zM717 1444h3v8h-3zM730 1443h4v9h-4zM736 1447h3v8h-3zM647 1454h2v8h-2zM647 1449h3v8h-3zM662 1451h3v7h-3zM679 1451h3v7h-3zM689 1452h3v9h-3zM692 1453h3v7h-3zM748 1454h3v9h-3zM634 1458h2v8h-2zM633 1461h2v7h-2zM651 1459h3v7h-3zM654 1457h2v9h-2zM681 1461h3v8h-3zM690 1457h3v7h-3zM687 1456h3v8h-3zM702 1460h3v8h-3zM705 1457h3v7h-3zM712 1455h3v8h-3zM743 1461h3v7h-3zM775 1456h4v8h-4zM596 1460h4v10h-4zM625 1467h3v8h-3zM660 1464h3v8h-3zM701 1465h4v9h-4zM707 1466h3v8h-3zM705 1463h3v8h-3zM711 1467h3v8h-3zM620 1468h3v7h-3zM623 1471h3v7h-3zM652 1471h3v8h-3zM671 1470h3v8h-3zM715 1471h3v6h-3zM713 1472h3v8h-3zM722 1472h3v7h-3zM729 1471h3v6h-3zM844 1469h3v7h-3zM674 1476h3v7h-3zM733 1477h3v7h-3zM732 1477h3v9h-3zM642 1483h4v9h-4zM646 1480h3v8h-3zM656 1481h3v10h-3zM713 1484h3v8h-3zM735 1479h3v9h-3zM743 1482h3v7h-3zM749 1480h3v8h-3zM766 1482h2v7h-2zM630 1489h3v8h-3zM634 1490h3v9h-3zM639 1490h3v8h-3zM643 1489h3v9h-3zM650 1491h3v8h-3zM664 1487h3v8h-3zM674 1490h3v8h-3zM707 1487h3v9h-3zM714 1491h2v7h-2zM591 1492h3v7h-3zM598 1495h2v7h-2zM620 1495h3v9h-3zM670 1494h3v8h-3zM674 1493h3v9h-3zM677 1493h3v6h-3zM694 1495h2v7h-2zM701 1492h3v9h-3z" fill-opacity="0.9"/></g>
<defs><filter id="sb" x="-5%" y="-200%" width="110%" height="500%"><feGaussianBlur stdDeviation="1 1.3"/></filter></defs><g stroke="#CB6A54" stroke-width="5" stroke-opacity="0.7" filter="url(#sb)"><path d="M362 1190.5H548M657 1289.5H826"/></g>
<line x1="259" y1="791" x2="259" y2="1506" stroke="#000" stroke-width="6.9" />
<line x1="899.6" y1="791" x2="899.6" y2="1506" stroke="#000" stroke-width="6.9" />
<line x1="244.5" y1="794.5" x2="903.1" y2="794.5" stroke="#000" stroke-width="6.9" />
<line x1="244.5" y1="1131.4" x2="903.1" y2="1131.4" stroke="#000" stroke-width="6.9" />
<line x1="244.5" y1="1502.6" x2="903.1" y2="1502.6" stroke="#000" stroke-width="6.9" />
<line x1="628" y1="794.5" x2="628" y2="1502.6" stroke="#000" stroke-width="1.9" />
<line x1="627.2" y1="794.5" x2="627.2" y2="1502.6" stroke="#000" stroke-width="6.8" stroke-dasharray="4.3 8.1"/>
<text x="579.6" y="778.1" font-size="29" text-anchor="middle">GAGAR</text>
<text transform="translate(231.5,981) rotate(-90)" font-size="29" text-anchor="middle" >Control genes</text>
<text transform="translate(231.5,1302) rotate(-90)" font-size="29" text-anchor="middle" >sppRNA genes</text>
<line x1="266.5" y1="1480.4" x2="397.4" y2="1480.4" stroke="#000" stroke-width="4.4" stroke-linecap="round"/>
<text x="331" y="1465.5" font-size="24.5" text-anchor="middle">70 bp</text>
<text x="258.7" y="1539.3" font-size="29" text-anchor="middle">−200</text>
<text x="467" y="1539.3" font-size="29" text-anchor="middle">−100</text>
<text x="626" y="1539.3" font-size="29" text-anchor="middle">TSS</text>
<text x="835.6" y="1539.3" font-size="29" text-anchor="middle">75</text>
<defs><linearGradient id="gd" x1="0" y1="1" x2="0" y2="0"><stop offset="0.0" stop-color="rgb(255, 255, 255)"/><stop offset="0.1" stop-color="rgb(253, 232, 212)"/><stop offset="0.2" stop-color="rgb(251, 214, 186)"/><stop offset="0.3" stop-color="rgb(248, 196, 164)"/><stop offset="0.4" stop-color="rgb(241, 174, 144)"/><stop offset="0.5" stop-color="rgb(230, 148, 122)"/><stop offset="0.6" stop-color="rgb(216, 120, 98)"/><stop offset="0.7" stop-color="rgb(200, 92, 74)"/><stop offset="0.8" stop-color="rgb(182, 64, 52)"/><stop offset="0.9" stop-color="rgb(162, 40, 36)"/><stop offset="1.0" stop-color="rgb(140, 22, 25)"/></linearGradient></defs>
<rect x="120" y="862" width="29.8" height="552" fill="url(#gd)" stroke="#000" stroke-width="2.6"/>
<text x="137.9" y="849" font-size="24.3" text-anchor="middle">Density</text>
<text x="105" y="881" font-size="24.3" text-anchor="end">Max</text>
<text x="105" y="1412" font-size="24.3" text-anchor="end">Min</text>
<text x="0" y="771.4" font-size="43" font-weight="bold">d</text>
<defs><filter id="hf1" filterUnits="userSpaceOnUse" x="251.2" y="1648.8" width="650.8" height="312.7" color-interpolation-filters="sRGB"><feGaussianBlur in="SourceAlpha" stdDeviation="1.5 3.1"/><feColorMatrix type="matrix" values="0 0 0 1.05 0 0 0 0 1.05 0 0 0 0 1.05 0 0 0 0 0 1"/><feComponentTransfer><feFuncR type="table" tableValues="1.000 0.988 0.978 0.967 0.953 0.942 0.928 0.917 0.907 0.897 0.886 0.876 0.865 0.856 0.846 0.835 0.824 0.814 0.803 0.793 0.783 0.772 0.760 0.749 0.738 0.727 0.717 0.705 0.693 0.681 0.670 0.658 0.647 0.635 0.623 0.610 0.598 0.586 0.573 0.561 0.549"/><feFuncG type="table" tableValues="1.000 0.871 0.802 0.750 0.708 0.674 0.643 0.617 0.593 0.571 0.549 0.528 0.507 0.488 0.468 0.449 0.431 0.412 0.394 0.376 0.359 0.341 0.324 0.306 0.289 0.272 0.255 0.240 0.226 0.212 0.198 0.184 0.170 0.157 0.147 0.136 0.126 0.116 0.106 0.096 0.086"/><feFuncB type="table" tableValues="1.000 0.776 0.683 0.627 0.588 0.558 0.531 0.509 0.489 0.470 0.451 0.433 0.416 0.399 0.382 0.366 0.350 0.334 0.319 0.304 0.288 0.275 0.261 0.247 0.234 0.221 0.207 0.197 0.187 0.178 0.169 0.159 0.150 0.141 0.135 0.129 0.122 0.116 0.110 0.104 0.098"/></feComponentTransfer></filter><filter id="hf2" filterUnits="userSpaceOnUse" x="251.2" y="1968.3" width="650.8" height="346.4" color-interpolation-filters="sRGB"><feGaussianBlur in="SourceAlpha" stdDeviation="1.5 3.1"/><feColorMatrix type="matrix" values="0 0 0 1.3 0 0 0 0 1.3 0 0 0 0 1.3 0 0 0 0 0 1"/><feComponentTransfer><feFuncR type="table" tableValues="1.000 0.988 0.978 0.967 0.953 0.942 0.928 0.917 0.907 0.897 0.886 0.876 0.865 0.856 0.846 0.835 0.824 0.814 0.803 0.793 0.783 0.772 0.760 0.749 0.738 0.727 0.717 0.705 0.693 0.681 0.670 0.658 0.647 0.635 0.623 0.610 0.598 0.586 0.573 0.561 0.549"/><feFuncG type="table" tableValues="1.000 0.871 0.802 0.750 0.708 0.674 0.643 0.617 0.593 0.571 0.549 0.528 0.507 0.488 0.468 0.449 0.431 0.412 0.394 0.376 0.359 0.341 0.324 0.306 0.289 0.272 0.255 0.240 0.226 0.212 0.198 0.184 0.170 0.157 0.147 0.136 0.126 0.116 0.106 0.096 0.086"/><feFuncB type="table" tableValues="1.000 0.776 0.683 0.627 0.588 0.558 0.531 0.509 0.489 0.470 0.451 0.433 0.416 0.399 0.382 0.366 0.350 0.334 0.319 0.304 0.288 0.275 0.261 0.247 0.234 0.221 0.207 0.197 0.187 0.178 0.169 0.159 0.150 0.141 0.135 0.129 0.122 0.116 0.110 0.104 0.098"/></feComponentTransfer></filter></defs>
<g filter="url(#hf1)"><path d="M361 1760h3v7h-3zM344 1908h3v8h-3z" fill-opacity="0.7"/><path d="M329 1667h3v7h-3zM412 1665h3v7h-3zM353 1675h3v7h-3zM429 1683h3v7h-3zM489 1683h3v8h-3zM353 1688h3v7h-3zM463 1698h3v7h-3zM481 1704h3v7h-3zM691 1702h3v6h-3zM482 1718h3v7h-3zM323 1729h3v7h-3zM473 1734h3v7h-3zM268 1741h3v6h-3zM507 1745h3v6h-3zM389 1758h3v6h-3zM392 1757h3v6h-3zM464 1755h3v7h-3zM489 1759h3v6h-3zM351 1761h3v6h-3zM502 1788h3v7h-3zM297 1823h3v8h-3zM345 1861h3v6h-3zM340 1857h3v6h-3zM386 1858h3v7h-3zM810 1867h3v7h-3zM513 1870h3v8h-3zM413 1879h3v7h-3zM348 1908h3v8h-3zM396 1904h3v7h-3zM525 1920h3v7h-3zM490 1943h3v7h-3zM511 1948h3v7h-3z" fill-opacity="0.78"/><path d="M287 1657h3v7h-3zM312 1652h3v7h-3zM303 1668h3v7h-3zM319 1669h3v7h-3zM511 1665h3v7h-3zM522 1664h3v7h-3zM291 1676h3v6h-3zM529 1670h3v7h-3zM352 1676h3v8h-3zM397 1677h3v7h-3zM324 1685h3v6h-3zM343 1693h3v6h-3zM268 1699h3v7h-3zM889 1699h3v8h-3zM368 1705h3v7h-3zM374 1699h3v8h-3zM436 1705h3v7h-3zM679 1706h3v6h-3zM399 1707h3v6h-3zM420 1708h3v7h-3zM454 1714h3v7h-3zM473 1713h3v8h-3zM405 1731h3v7h-3zM430 1732h3v7h-3zM484 1733h3v7h-3zM399 1737h3v7h-3zM429 1737h3v7h-3zM443 1741h3v7h-3zM492 1739h3v7h-3zM359 1742h3v7h-3zM499 1753h3v6h-3zM345 1756h3v7h-3zM477 1756h3v8h-3zM411 1760h3v7h-3zM373 1769h3v7h-3zM447 1769h3v8h-3zM301 1772h3v7h-3zM401 1774h3v7h-3zM575 1774h3v7h-3zM316 1781h3v7h-3zM319 1791h3v7h-3zM387 1791h3v6h-3zM435 1792h3v6h-3zM435 1791h3v8h-3zM518 1790h3v7h-3zM386 1799h3v7h-3zM508 1802h3v6h-3zM293 1802h3v7h-3zM263 1818h3v7h-3zM312 1820h3v6h-3zM333 1826h3v7h-3zM368 1831h3v8h-3zM420 1829h3v8h-3zM459 1826h3v8h-3zM435 1837h3v7h-3zM461 1835h3v7h-3zM435 1840h3v7h-3zM472 1858h3v6h-3zM452 1867h3v7h-3zM562 1868h3v8h-3zM451 1877h3v7h-3zM624 1877h3v7h-3zM367 1889h3v7h-3zM517 1893h3v6h-3zM579 1896h3v7h-3zM455 1902h3v7h-3zM499 1903h3v7h-3zM398 1906h3v7h-3zM450 1906h3v7h-3zM283 1921h3v7h-3zM407 1927h3v6h-3zM524 1927h3v7h-3zM541 1924h3v8h-3zM271 1928h3v7h-3zM349 1929h3v7h-3zM437 1929h3v8h-3zM409 1937h3v7h-3zM348 1950h3v7h-3zM445 1946h3v7h-3zM272 1954h3v8h-3zM308 1955h3v7h-3zM347 1951h3v8h-3zM378 1956h3v8h-3zM408 1955h3v8h-3zM470 1956h3v6h-3z" fill-opacity="0.86"/><path d="M252 1654h3v7h-3zM295 1652h3v7h-3zM350 1662h3v8h-3zM357 1663h3v7h-3zM300 1664h3v7h-3zM322 1666h3v7h-3zM353 1663h3v8h-3zM466 1666h3v7h-3zM284 1677h3v7h-3zM340 1698h3v7h-3zM413 1697h3v7h-3zM618 1710h3v6h-3zM490 1723h3v7h-3zM530 1737h3v7h-3zM260 1747h3v7h-3zM361 1748h3v7h-3zM426 1756h3v7h-3zM506 1763h3v6h-3zM543 1761h3v7h-3zM394 1782h3v7h-3zM426 1780h3v7h-3zM658 1781h3v7h-3zM614 1784h3v6h-3zM301 1790h3v6h-3zM468 1796h3v7h-3zM412 1802h3v6h-3zM394 1812h3v7h-3zM410 1819h3v7h-3zM547 1815h3v7h-3zM282 1822h3v7h-3zM413 1827h3v7h-3zM325 1839h3v7h-3zM459 1839h3v7h-3zM355 1850h3v6h-3zM464 1851h3v7h-3zM529 1856h3v7h-3zM312 1863h3v6h-3zM350 1865h3v6h-3zM526 1862h3v7h-3zM375 1884h3v7h-3zM531 1884h3v7h-3zM500 1886h3v6h-3zM549 1888h3v7h-3zM388 1894h3v7h-3zM435 1895h3v7h-3zM363 1901h3v7h-3zM437 1903h3v7h-3zM392 1910h3v8h-3zM428 1910h3v7h-3zM356 1921h3v7h-3zM867 1922h3v7h-3zM528 1935h3v7h-3zM480 1947h3v7h-3zM334 1957h3v6h-3zM378 1953h3v7h-3zM411 1953h3v8h-3zM420 1954h3v8h-3z" fill-opacity="0.93"/><path d="M505 1657h3v7h-3zM458 1696h3v7h-3zM526 1733h3v7h-3zM316 1764h3v7h-3zM359 1781h3v7h-3zM337 1790h3v7h-3zM530 1798h3v7h-3zM647 1822h3v7h-3zM269 1844h3v7h-3zM510 1860h3v7h-3zM366 1871h3v7h-3zM358 1887h3v7h-3zM292 1898h3v8h-3zM478 1904h3v7h-3zM489 1917h3v7h-3zM514 1947h3v7h-3z" fill-opacity="1.0"/></g>
<g filter="url(#hf2)"><path d="M365 2167h3v7h-3zM403 2231h3v7h-3z" fill-opacity="0.7"/><path d="M267 1972h3v7h-3zM317 1971h3v6h-3zM303 2006h3v7h-3zM889 2003h3v7h-3zM265 2020h3v6h-3zM269 2061h3v7h-3zM434 2085h3v8h-3zM313 2123h3v7h-3zM363 2130h3v7h-3zM367 2145h3v7h-3zM613 2174h3v7h-3zM320 2180h3v7h-3zM621 2177h3v7h-3zM550 2185h3v7h-3zM595 2184h3v8h-3zM797 2208h3v7h-3zM422 2222h3v7h-3zM278 2230h3v7h-3zM365 2274h3v7h-3zM422 2275h3v7h-3zM262 2299h3v6h-3z" fill-opacity="0.78"/><path d="M289 1968h3v7h-3zM696 1971h3v7h-3zM355 1986h3v7h-3zM437 1991h3v7h-3zM541 1991h3v7h-3zM560 1989h3v7h-3zM278 1999h3v7h-3zM286 2000h3v7h-3zM290 1998h3v7h-3zM340 1997h3v7h-3zM436 1996h3v7h-3zM440 1995h3v8h-3zM441 1997h3v7h-3zM410 2001h3v7h-3zM310 2009h3v7h-3zM440 2009h3v7h-3zM404 2017h3v7h-3zM417 2013h3v7h-3zM541 2013h3v8h-3zM541 2013h3v7h-3zM387 2019h3v8h-3zM505 2023h3v7h-3zM384 2039h3v7h-3zM389 2042h3v6h-3zM408 2039h3v7h-3zM434 2045h3v7h-3zM587 2043h3v7h-3zM400 2050h3v7h-3zM413 2051h3v8h-3zM438 2060h3v7h-3zM399 2066h3v7h-3zM277 2070h3v7h-3zM524 2070h3v7h-3zM553 2067h3v7h-3zM380 2073h3v8h-3zM417 2076h3v7h-3zM462 2073h3v7h-3zM873 2075h3v8h-3zM343 2084h3v7h-3zM501 2086h3v8h-3zM271 2097h3v7h-3zM555 2101h3v7h-3zM522 2104h3v8h-3zM425 2115h3v7h-3zM504 2117h3v7h-3zM508 2115h3v7h-3zM298 2129h3v7h-3zM375 2137h3v7h-3zM847 2134h3v7h-3zM535 2144h3v6h-3zM267 2146h3v8h-3zM514 2146h3v7h-3zM280 2156h3v7h-3zM301 2155h3v7h-3zM407 2161h3v7h-3zM439 2159h3v7h-3zM429 2167h3v6h-3zM896 2172h3v7h-3zM304 2179h3v7h-3zM325 2178h3v7h-3zM544 2185h3v7h-3zM313 2192h3v7h-3zM326 2188h3v7h-3zM488 2192h3v6h-3zM367 2196h3v6h-3zM459 2199h3v6h-3zM575 2198h3v7h-3zM375 2200h3v6h-3zM531 2200h3v7h-3zM369 2221h3v7h-3zM324 2225h3v6h-3zM545 2227h3v7h-3zM330 2232h3v7h-3zM347 2233h3v7h-3zM438 2233h3v7h-3zM395 2236h3v7h-3zM409 2236h3v7h-3zM438 2238h3v7h-3zM479 2239h3v7h-3zM369 2245h3v6h-3zM445 2244h3v7h-3zM339 2249h3v8h-3zM334 2258h3v7h-3zM524 2255h3v7h-3zM679 2256h3v7h-3zM364 2266h3v7h-3zM372 2268h3v7h-3zM434 2271h3v7h-3zM541 2275h3v7h-3zM298 2282h3v6h-3zM458 2277h3v8h-3zM809 2278h3v7h-3zM306 2285h3v7h-3zM337 2283h3v7h-3zM394 2288h3v7h-3zM403 2294h3v7h-3zM612 2292h3v8h-3zM416 2301h3v6h-3zM395 2306h3v6h-3zM432 2306h3v7h-3z" fill-opacity="0.86"/><path d="M495 1965h3v7h-3zM499 1969h3v7h-3zM667 1968h3v7h-3zM423 1972h3v7h-3zM492 1974h3v7h-3zM342 1977h3v8h-3zM416 1978h3v7h-3zM493 1980h3v7h-3zM530 1978h3v7h-3zM352 1986h3v7h-3zM424 1988h3v7h-3zM454 1985h3v8h-3zM542 1986h3v6h-3zM459 1989h3v7h-3zM494 1992h3v8h-3zM814 1994h3v6h-3zM397 1997h3v7h-3zM571 2004h3v7h-3zM540 2010h3v7h-3zM486 2015h3v7h-3zM426 2021h3v7h-3zM455 2022h3v7h-3zM527 2022h3v7h-3zM444 2027h3v7h-3zM454 2029h3v7h-3zM481 2028h3v7h-3zM523 2029h3v6h-3zM388 2036h3v7h-3zM428 2034h3v7h-3zM436 2031h3v7h-3zM495 2035h3v7h-3zM520 2031h3v7h-3zM530 2033h3v6h-3zM350 2039h3v7h-3zM500 2041h3v7h-3zM523 2042h3v7h-3zM444 2046h3v6h-3zM547 2045h3v7h-3zM434 2054h3v7h-3zM339 2060h3v7h-3zM365 2057h3v7h-3zM377 2057h3v8h-3zM399 2056h3v7h-3zM525 2058h3v7h-3zM535 2058h3v7h-3zM377 2062h3v7h-3zM624 2065h3v7h-3zM327 2068h3v7h-3zM517 2071h3v6h-3zM527 2071h3v7h-3zM305 2084h3v7h-3zM410 2081h3v7h-3zM438 2081h3v7h-3zM462 2080h3v7h-3zM525 2084h3v7h-3zM544 2079h3v8h-3zM798 2080h3v7h-3zM349 2089h3v6h-3zM348 2088h3v7h-3zM421 2090h3v7h-3zM401 2092h3v7h-3zM450 2096h3v7h-3zM451 2096h3v6h-3zM466 2093h3v7h-3zM573 2091h3v7h-3zM521 2102h3v7h-3zM522 2099h3v7h-3zM304 2106h3v7h-3zM399 2104h3v7h-3zM444 2112h3v8h-3zM489 2116h3v7h-3zM530 2116h3v6h-3zM449 2122h3v7h-3zM448 2122h3v7h-3zM460 2131h3v7h-3zM484 2130h3v7h-3zM506 2129h3v7h-3zM539 2127h3v7h-3zM259 2137h3v7h-3zM387 2134h3v7h-3zM456 2133h3v8h-3zM261 2142h3v6h-3zM449 2144h3v7h-3zM262 2145h3v7h-3zM378 2149h3v7h-3zM486 2151h3v6h-3zM414 2155h3v7h-3zM514 2152h3v7h-3zM515 2156h3v7h-3zM400 2156h3v8h-3zM435 2159h3v7h-3zM469 2158h3v6h-3zM540 2159h3v7h-3zM273 2166h3v7h-3zM335 2167h3v8h-3zM496 2167h3v7h-3zM513 2165h3v7h-3zM541 2173h3v8h-3zM279 2178h3v6h-3zM449 2178h3v6h-3zM438 2183h3v7h-3zM525 2185h3v7h-3zM410 2190h3v6h-3zM412 2189h3v6h-3zM434 2191h3v6h-3zM451 2189h3v7h-3zM454 2190h3v7h-3zM497 2189h3v7h-3zM537 2190h3v8h-3zM370 2195h3v8h-3zM355 2203h3v7h-3zM352 2202h3v7h-3zM483 2200h3v8h-3zM494 2201h3v7h-3zM475 2210h3v7h-3zM503 2207h3v7h-3zM516 2206h3v6h-3zM372 2215h3v7h-3zM451 2215h3v7h-3zM495 2215h3v6h-3zM514 2211h3v7h-3zM480 2219h3v7h-3zM505 2218h3v7h-3zM468 2225h3v7h-3zM490 2226h3v7h-3zM516 2227h3v8h-3zM521 2224h3v7h-3zM604 2226h3v6h-3zM477 2233h3v6h-3zM489 2231h3v7h-3zM557 2229h3v7h-3zM285 2238h3v7h-3zM463 2237h3v7h-3zM507 2238h3v7h-3zM317 2246h3v7h-3zM475 2240h3v8h-3zM504 2241h3v7h-3zM526 2243h3v8h-3zM293 2255h3v7h-3zM389 2256h3v7h-3zM471 2254h3v7h-3zM532 2256h3v7h-3zM318 2263h3v7h-3zM335 2263h3v6h-3zM359 2269h3v6h-3zM515 2269h3v7h-3zM328 2273h3v8h-3zM370 2273h3v7h-3zM446 2272h3v6h-3zM552 2275h3v7h-3zM361 2283h3v7h-3zM444 2285h3v8h-3zM513 2286h3v7h-3zM525 2287h3v7h-3zM452 2290h3v7h-3zM495 2289h3v7h-3zM566 2290h3v7h-3zM612 2293h3v7h-3zM377 2300h3v6h-3zM399 2297h3v7h-3zM429 2296h3v7h-3zM436 2298h3v6h-3zM458 2297h3v7h-3zM477 2296h3v7h-3zM517 2296h3v7h-3zM521 2295h3v7h-3zM352 2305h3v6h-3zM446 2305h3v7h-3zM469 2303h3v7h-3zM468 2302h3v6h-3zM468 2303h3v7h-3zM508 2303h3v7h-3zM533 2306h3v7h-3zM483 2311h3v6h-3zM518 2307h3v7h-3zM533 2308h3v7h-3z" fill-opacity="0.93"/><path d="M449 1966h3v7h-3zM480 1969h3v7h-3zM507 1967h3v7h-3zM529 1965h3v7h-3zM409 1972h3v8h-3zM437 1980h3v7h-3zM487 1995h3v7h-3zM496 1996h3v7h-3zM527 1999h3v8h-3zM528 1995h3v6h-3zM505 2001h3v7h-3zM361 2011h3v7h-3zM485 2009h3v7h-3zM504 2008h3v7h-3zM457 2018h3v8h-3zM496 2021h3v8h-3zM450 2030h3v7h-3zM467 2027h3v7h-3zM436 2036h3v7h-3zM469 2036h3v7h-3zM424 2038h3v6h-3zM525 2039h3v7h-3zM536 2040h3v8h-3zM317 2046h3v8h-3zM461 2046h3v7h-3zM537 2045h3v6h-3zM459 2049h3v7h-3zM453 2061h3v6h-3zM470 2061h3v8h-3zM490 2066h3v8h-3zM500 2071h3v7h-3zM471 2074h3v7h-3zM405 2083h3v8h-3zM529 2082h3v7h-3zM457 2090h3v6h-3zM493 2085h3v7h-3zM462 2094h3v8h-3zM461 2093h3v7h-3zM384 2100h3v7h-3zM485 2097h3v7h-3zM501 2103h3v7h-3zM474 2109h3v7h-3zM596 2112h3v7h-3zM465 2119h3v6h-3zM506 2118h3v8h-3zM448 2125h3v7h-3zM457 2126h3v7h-3zM476 2126h3v7h-3zM512 2136h3v8h-3zM321 2141h3v7h-3zM476 2140h3v7h-3zM427 2150h3v7h-3zM487 2145h3v6h-3zM543 2147h3v8h-3zM413 2166h3v7h-3zM468 2172h3v8h-3zM490 2180h3v7h-3zM364 2183h3v7h-3zM423 2182h3v7h-3zM521 2189h3v8h-3zM454 2203h3v7h-3zM502 2201h3v7h-3zM453 2213h3v7h-3zM480 2215h3v7h-3zM463 2217h3v8h-3zM338 2229h3v6h-3zM475 2224h3v7h-3zM474 2229h3v7h-3zM530 2230h3v8h-3zM427 2241h3v6h-3zM524 2239h3v7h-3zM493 2244h3v8h-3zM354 2250h3v7h-3zM474 2252h3v7h-3zM307 2258h3v7h-3zM427 2257h3v8h-3zM462 2254h3v7h-3zM468 2253h3v7h-3zM531 2258h3v7h-3zM385 2262h3v7h-3zM521 2262h3v6h-3zM477 2269h3v6h-3zM491 2270h3v7h-3zM509 2268h3v7h-3zM520 2267h3v7h-3zM459 2280h3v7h-3zM471 2283h3v7h-3zM519 2283h3v7h-3zM530 2286h3v7h-3zM506 2294h3v6h-3zM510 2292h3v7h-3zM462 2296h3v7h-3zM492 2299h3v7h-3zM497 2297h3v7h-3zM497 2300h3v8h-3zM446 2304h3v7h-3zM481 2303h3v8h-3zM525 2301h3v7h-3zM532 2301h3v7h-3zM438 2310h3v7h-3zM440 2308h3v6h-3z" fill-opacity="1.0"/></g>
<line x1="247.8" y1="1642" x2="247.8" y2="2321.4" stroke="#000" stroke-width="6.9" />
<line x1="905.5" y1="1642" x2="905.5" y2="2321.4" stroke="#000" stroke-width="6.9" />
<line x1="235.8" y1="1645.4" x2="909" y2="1645.4" stroke="#000" stroke-width="6.9" />
<line x1="235.8" y1="1964.9" x2="909" y2="1964.9" stroke="#000" stroke-width="6.9" />
<line x1="235.8" y1="2318" x2="909" y2="2318" stroke="#000" stroke-width="6.9" />
<line x1="621.4" y1="1645.4" x2="621.4" y2="2318" stroke="#000" stroke-width="1.9" />
<line x1="620.6" y1="1645.4" x2="620.6" y2="2318" stroke="#000" stroke-width="6.8" stroke-dasharray="4.3 8.1"/>
<text x="577" y="1628.1" font-size="29" text-anchor="middle">RGCCCAW</text>
<text transform="translate(220.5,1814.2) rotate(-90)" font-size="29" text-anchor="middle" >Control genes</text>
<text transform="translate(220.5,2122) rotate(-90)" font-size="29" text-anchor="middle" >sppRNA genes</text>
<line x1="253.5" y1="2298" x2="387" y2="2298" stroke="#000" stroke-width="4.4" stroke-linecap="round"/>
<text x="315.1" y="2283.7" font-size="24.5" text-anchor="middle">70 bp</text>
<text x="247.3" y="2354.8" font-size="29" text-anchor="middle">−200</text>
<text x="460.5" y="2354.8" font-size="29" text-anchor="middle">−100</text>
<text x="620" y="2354.8" font-size="29" text-anchor="middle">TSS</text>
<text x="846.7" y="2354.8" font-size="29" text-anchor="middle">75</text>
<defs><linearGradient id="gf" x1="0" y1="1" x2="0" y2="0"><stop offset="0.0" stop-color="rgb(255, 255, 255)"/><stop offset="0.1" stop-color="rgb(253, 232, 212)"/><stop offset="0.2" stop-color="rgb(251, 214, 186)"/><stop offset="0.3" stop-color="rgb(248, 196, 164)"/><stop offset="0.4" stop-color="rgb(241, 174, 144)"/><stop offset="0.5" stop-color="rgb(230, 148, 122)"/><stop offset="0.6" stop-color="rgb(216, 120, 98)"/><stop offset="0.7" stop-color="rgb(200, 92, 74)"/><stop offset="0.8" stop-color="rgb(182, 64, 52)"/><stop offset="0.9" stop-color="rgb(162, 40, 36)"/><stop offset="1.0" stop-color="rgb(140, 22, 25)"/></linearGradient></defs>
<rect x="120" y="1732.6" width="29.8" height="551.1" fill="url(#gf)" stroke="#000" stroke-width="2.6"/>
<text x="136.6" y="1718.7" font-size="24.3" text-anchor="middle">Density</text>
<text x="103.5" y="1753.3" font-size="24.3" text-anchor="end">Max</text>
<text x="103.5" y="2279.6" font-size="24.3" text-anchor="end">Min</text>
<text x="3" y="1618.8" font-size="43" font-weight="bold">f</text>
</svg>
</body></html>
